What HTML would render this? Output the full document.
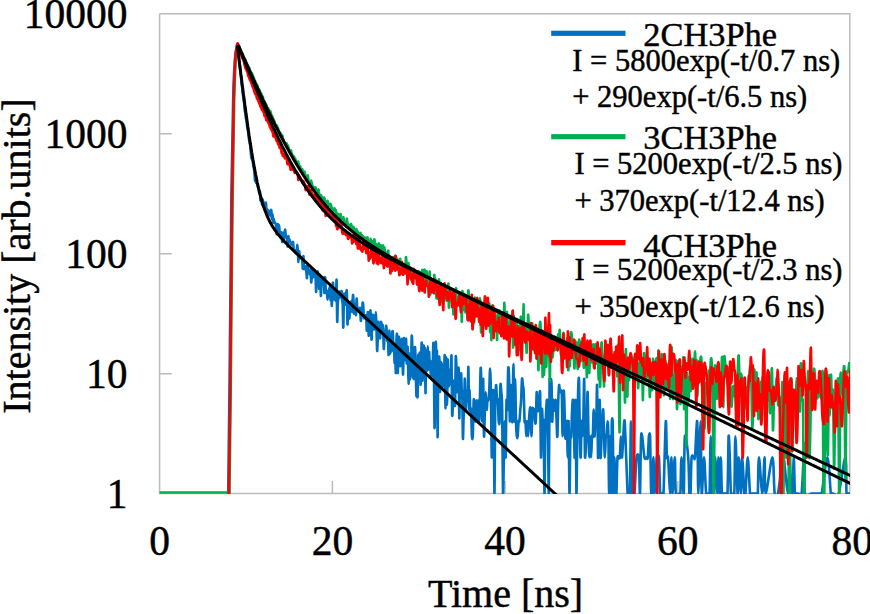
<!DOCTYPE html>
<html><head><meta charset="utf-8"><style>
html,body{margin:0;padding:0;background:#fff;width:870px;height:614px;overflow:hidden}
svg{display:block}
text{font-family:"Liberation Serif",serif;fill:#000;stroke:#000;stroke-width:0.45px}
.tk{font-size:41.5px}
.ti{font-size:40px}
.ln{font-size:34.4px}
.fm{font-size:30.5px}
</style></head><body>
<svg width="870" height="614" viewBox="0 0 870 614">
<defs><clipPath id="pa"><rect x="159.6" y="13.5" width="690.4" height="480.5"/></clipPath></defs>
<g stroke="#bcbcbc" stroke-width="1.5" fill="none">
<path d="M159.6 13.8H849.8V493.4M159.6 13.8V493.4H849.8"/>
<path d="M159.6 133.7H171.8M159.6 253.7H171.8M159.6 373.7H171.8"/>
<path d="M332.4 493.4V481M505.1 493.4V481M677.8 493.4V481"/>
</g>
<g clip-path="url(#pa)" fill="none" stroke-linejoin="round" stroke-linecap="round">
<path stroke="#0070c0" stroke-width="2.6" d="M228.2,493.5C228.5,475.5 229.0,435.5 229.5,385.5C230.1,335.5 230.8,241.5 231.4,193.5C232.0,145.5 232.6,119.9 233.2,97.5C233.7,75.1 234.3,67.8 234.9,59.1C235.5,50.4 236.5,47.6 236.9,45.5C237.3,43.5 237.3,45.8 237.5,46.8C237.7,47.8 237.9,49.6 238.1,51.4C238.3,53.2 238.5,55.9 238.7,57.8C238.9,59.6 239.1,60.9 239.3,62.5C239.5,64.2 239.7,66.1 239.9,67.7C240.1,69.3 240.3,70.6 240.5,72.3C240.7,74.1 240.9,76.3 241.1,78.3C241.3,80.3 241.5,82.8 241.7,84.5C241.9,86.1 242.1,86.8 242.3,88.4C242.5,90.0 242.7,92.2 242.9,94.1C243.1,95.9 243.3,98.1 243.5,99.6C243.7,101.0 243.9,101.2 244.1,102.9C244.3,104.7 244.5,108.5 244.7,110.2C244.9,111.9 245.1,111.7 245.3,113.2C245.5,114.6 245.7,117.8 246.0,119.0C246.2,120.3 246.4,119.2 246.6,120.5C246.8,121.9 247.0,125.6 247.2,127.1C247.4,128.6 247.6,128.3 247.8,129.5C248.0,130.6 248.2,132.3 248.4,134.0C248.6,135.6 248.8,137.9 249.0,139.3C249.2,140.7 249.4,141.6 249.6,142.6C249.8,143.6 250.0,143.8 250.2,145.5C250.4,147.1 250.6,150.2 250.8,152.4C251.0,154.5 251.2,157.3 251.4,158.3C251.6,159.2 251.8,157.7 252.0,158.0C252.2,158.3 252.4,158.9 252.6,160.1C252.8,161.3 253.0,163.8 253.2,165.1C253.4,166.4 253.6,166.8 253.8,167.9C254.0,169.1 254.2,169.9 254.4,172.0C254.6,174.1 254.8,179.3 255.0,180.6C255.2,181.9 255.4,179.4 255.6,179.7C255.8,180.1 256.0,182.1 256.2,182.7C256.4,183.2 256.6,182.9 256.8,183.2C257.0,183.6 257.2,184.2 257.4,184.9C257.6,185.6 257.8,186.8 258.0,187.3C258.2,187.8 258.4,187.0 258.6,187.9C258.8,188.9 259.0,192.4 259.2,193.0C259.4,193.5 259.7,190.0 259.9,191.3C260.1,192.5 260.3,199.6 260.5,200.5C260.7,201.4 260.9,196.4 261.1,196.7C261.3,197.0 261.5,201.0 261.7,202.3C261.9,203.7 262.1,205.3 262.3,204.9C262.5,204.5 262.7,199.5 262.9,199.7C263.1,199.9 263.3,204.9 263.5,206.0C263.7,207.1 263.9,206.7 264.1,206.2C264.3,205.7 264.5,202.7 264.7,203.0C264.9,203.2 265.1,207.8 265.3,207.7C265.5,207.7 265.7,202.2 265.9,202.7C266.1,203.1 266.3,209.3 266.5,210.4C266.7,211.5 266.9,208.9 267.1,209.3C267.3,209.6 267.5,212.3 267.7,212.5C267.9,212.7 268.1,210.3 268.3,210.4C268.5,210.5 268.7,212.3 268.9,213.1C269.1,213.8 269.3,214.6 269.5,215.0C269.7,215.3 269.9,215.7 270.1,215.1C270.3,214.5 270.5,212.3 270.7,211.5C270.9,210.7 271.1,209.0 271.3,210.2C271.5,211.5 271.7,218.4 271.9,219.1C272.1,219.9 272.3,214.0 272.5,214.5C272.7,215.1 272.9,221.8 273.2,222.5C273.4,223.2 273.6,218.8 273.8,218.8C274.0,218.9 274.2,222.2 274.4,222.8C274.6,223.3 274.8,222.1 275.0,222.3C275.2,222.4 275.4,223.2 275.6,223.9C275.8,224.6 276.0,224.8 276.2,226.5C276.4,228.2 276.6,234.5 276.8,234.2C277.0,233.8 277.2,225.7 277.4,224.4C277.6,223.0 277.8,226.1 278.0,226.1C278.2,226.2 278.4,224.6 278.6,224.6C278.8,224.7 279.0,225.1 279.2,226.7C279.4,228.2 279.6,232.8 279.8,234.0C280.0,235.2 280.2,233.8 280.4,234.0C280.6,234.1 280.8,235.1 281.0,234.9C281.2,234.6 281.4,231.3 281.6,232.5C281.8,233.7 282.0,241.7 282.2,242.0C282.4,242.2 282.6,235.4 282.8,233.9C283.0,232.5 283.2,232.4 283.4,233.2C283.6,234.1 283.8,238.9 284.0,239.0C284.2,239.1 284.4,235.4 284.6,233.9C284.8,232.3 285.0,229.2 285.2,229.7C285.4,230.1 285.6,235.4 285.8,236.6C286.0,237.7 286.2,236.2 286.4,236.5C286.6,236.9 286.9,236.9 287.1,238.6C287.3,240.2 287.5,246.9 287.7,246.5C287.9,246.1 288.1,237.2 288.3,236.3C288.5,235.4 288.7,240.3 288.9,240.8C289.1,241.4 289.3,239.4 289.5,239.5C289.7,239.6 289.9,240.9 290.1,241.4C290.3,242.0 290.5,242.4 290.7,243.0C290.9,243.5 291.1,244.7 291.3,244.7C291.5,244.7 291.7,243.3 291.9,243.1C292.1,242.8 292.3,243.0 292.5,242.9C292.7,242.8 292.9,241.2 293.1,242.3C293.3,243.5 293.5,248.7 293.7,249.9C293.9,251.1 294.1,249.7 294.3,249.8C294.5,249.9 294.7,250.0 294.9,250.5C295.1,251.0 295.3,253.0 295.5,252.9C295.7,252.8 295.9,250.3 296.1,250.0C296.3,249.7 296.5,252.2 296.7,251.3C296.9,250.5 297.1,244.9 297.3,244.9C297.5,245.0 297.7,248.6 297.9,251.5C298.1,254.3 298.3,262.1 298.5,262.0C298.7,262.0 298.9,252.5 299.1,251.5C299.3,250.4 299.5,254.8 299.7,255.9C299.9,256.9 300.1,257.6 300.4,257.9C300.6,258.2 300.8,257.9 301.0,257.8C301.2,257.7 301.4,257.5 301.6,257.5C301.8,257.6 302.0,256.0 302.2,257.9C302.4,259.8 302.6,269.0 302.8,268.7C303.0,268.4 303.2,256.1 303.4,256.0C303.6,255.9 303.8,265.8 304.0,267.9C304.2,270.0 304.4,268.9 304.6,268.8C304.8,268.6 305.0,267.1 305.2,266.8C305.4,266.5 305.6,266.0 305.8,266.9C306.0,267.8 306.2,270.5 306.4,272.4C306.6,274.2 306.8,279.1 307.0,278.0C307.2,276.8 307.4,266.7 307.6,265.4C307.8,264.1 308.0,269.3 308.2,270.4C308.4,271.6 308.6,272.3 308.8,272.3C309.0,272.4 309.2,270.3 309.4,270.7C309.6,271.0 309.8,274.7 310.0,274.5C310.2,274.3 310.4,268.3 310.6,269.6C310.8,270.9 311.0,281.4 311.2,282.3C311.4,283.2 311.6,277.2 311.8,275.1C312.0,272.9 312.2,268.7 312.4,269.1C312.6,269.5 312.8,277.2 313.0,277.5C313.2,277.7 313.4,271.7 313.6,270.5C313.8,269.3 314.1,270.1 314.3,270.5C314.5,270.9 314.7,272.3 314.9,272.7C315.1,273.1 315.3,269.7 315.5,272.9C315.7,276.1 315.9,291.5 316.1,291.9C316.3,292.3 316.5,277.6 316.7,275.1C316.9,272.7 317.1,277.7 317.3,277.1C317.5,276.4 317.7,271.2 317.9,271.3C318.1,271.3 318.3,274.5 318.5,277.4C318.7,280.4 318.9,288.5 319.1,288.8C319.3,289.1 319.5,281.2 319.7,279.5C319.9,277.8 320.1,275.8 320.3,278.6C320.5,281.3 320.7,295.5 320.9,296.0C321.1,296.5 321.3,283.8 321.5,281.5C321.7,279.3 321.9,282.7 322.1,282.6C322.3,282.6 322.5,282.1 322.7,281.3C322.9,280.5 323.1,277.4 323.3,277.7C323.5,278.1 323.7,280.8 323.9,283.4C324.1,285.9 324.3,293.9 324.5,292.9C324.7,291.9 324.9,278.0 325.1,277.2C325.3,276.5 325.5,286.4 325.7,288.6C325.9,290.8 326.1,289.8 326.3,290.4C326.5,291.1 326.7,290.7 326.9,292.3C327.1,293.8 327.3,299.7 327.6,299.7C327.8,299.7 328.0,293.7 328.2,292.2C328.4,290.7 328.6,291.3 328.8,290.8C329.0,290.2 329.2,289.3 329.4,288.8C329.6,288.2 329.8,285.8 330.0,287.7C330.2,289.6 330.4,299.2 330.6,300.2C330.8,301.1 331.0,292.5 331.2,293.4C331.4,294.4 331.6,306.5 331.8,305.8C332.0,305.1 332.2,293.1 332.4,289.3C332.6,285.4 332.8,282.2 333.0,282.7C333.2,283.1 333.4,289.3 333.6,292.1C333.8,294.9 334.0,299.0 334.2,299.4C334.4,299.8 334.6,296.3 334.8,294.6C335.0,292.9 335.2,288.2 335.4,289.2C335.6,290.3 335.8,302.5 336.0,301.0C336.2,299.4 336.4,276.5 336.6,279.9C336.8,283.3 337.0,317.3 337.2,321.3C337.4,325.2 337.6,307.3 337.8,303.5C338.0,299.8 338.2,300.6 338.4,298.7C338.6,296.7 338.8,291.8 339.0,291.6C339.2,291.3 339.4,296.3 339.6,297.1C339.8,297.9 340.0,296.7 340.2,296.5C340.4,296.2 340.6,296.4 340.8,295.5C341.1,294.6 341.3,290.2 341.5,291.1C341.7,292.0 341.9,298.4 342.1,300.7C342.3,303.0 342.5,300.5 342.7,305.0C342.9,309.4 343.1,328.9 343.3,327.6C343.5,326.4 343.7,302.9 343.9,297.3C344.1,291.8 344.3,294.1 344.5,294.5C344.7,294.9 344.9,297.9 345.1,299.5C345.3,301.2 345.5,305.7 345.7,304.5C345.9,303.3 346.1,293.9 346.3,292.1C346.5,290.3 346.7,288.2 346.9,293.6C347.1,299.0 347.3,322.7 347.5,324.4C347.7,326.2 347.9,307.3 348.1,304.2C348.3,301.1 348.5,303.4 348.7,305.8C348.9,308.2 349.1,317.9 349.3,318.5C349.5,319.1 349.7,311.9 349.9,309.3C350.1,306.6 350.3,303.5 350.5,302.6C350.7,301.7 350.9,304.3 351.1,304.1C351.3,303.8 351.5,299.9 351.7,301.2C351.9,302.5 352.1,312.9 352.3,311.9C352.5,311.0 352.7,297.3 352.9,295.4C353.1,293.5 353.3,297.8 353.5,300.8C353.7,303.8 353.9,312.2 354.1,313.4C354.3,314.6 354.5,309.5 354.8,308.1C355.0,306.6 355.2,303.5 355.4,304.7C355.6,305.8 355.8,316.0 356.0,315.0C356.2,314.0 356.4,299.9 356.6,298.6C356.8,297.3 357.0,305.7 357.2,307.2C357.4,308.8 357.6,307.5 357.8,307.7C358.0,307.9 358.2,308.4 358.4,308.6C358.6,308.9 358.8,309.0 359.0,309.1C359.2,309.3 359.4,309.5 359.6,309.4C359.8,309.3 360.0,306.6 360.2,308.5C360.4,310.4 360.6,319.5 360.8,320.7C361.0,321.9 361.2,316.7 361.4,315.7C361.6,314.7 361.8,316.6 362.0,314.5C362.2,312.5 362.4,304.9 362.6,303.3C362.8,301.7 363.0,302.8 363.2,305.0C363.4,307.2 363.6,314.2 363.8,316.4C364.0,318.6 364.2,318.5 364.4,318.3C364.6,318.2 364.8,315.5 365.0,315.3C365.2,315.1 365.4,317.1 365.6,317.2C365.8,317.3 366.0,313.7 366.2,315.9C366.4,318.2 366.6,330.1 366.8,330.7C367.0,331.2 367.2,322.2 367.4,319.2C367.6,316.2 367.8,310.0 368.0,312.7C368.3,315.4 368.5,332.9 368.7,335.2C368.9,337.6 369.1,329.0 369.3,326.9C369.5,324.8 369.7,325.2 369.9,322.4C370.1,319.7 370.3,309.3 370.5,310.5C370.7,311.7 370.9,324.7 371.1,329.4C371.3,334.2 371.5,341.5 371.7,339.1C371.9,336.6 372.1,316.7 372.3,314.9C372.5,313.0 372.7,327.9 372.9,327.9C373.1,327.9 373.3,314.7 373.5,315.0C373.7,315.2 373.9,328.3 374.1,329.3C374.3,330.3 374.5,321.1 374.7,321.1C374.9,321.0 375.1,330.4 375.3,328.9C375.5,327.4 375.7,312.0 375.9,312.0C376.1,312.0 376.3,322.4 376.5,328.9C376.7,335.3 376.9,348.8 377.1,350.7C377.3,352.5 377.5,344.7 377.7,339.9C377.9,335.1 378.1,323.3 378.3,321.9C378.5,320.4 378.7,331.0 378.9,331.2C379.1,331.4 379.3,321.8 379.5,323.0C379.7,324.2 379.9,338.2 380.1,338.4C380.3,338.5 380.5,326.6 380.7,323.9C380.9,321.3 381.1,321.6 381.3,322.6C381.5,323.5 381.7,329.3 382.0,329.7C382.2,330.1 382.4,324.5 382.6,324.9C382.8,325.3 383.0,328.2 383.2,332.1C383.4,336.1 383.6,347.8 383.8,348.9C384.0,350.0 384.2,341.1 384.4,338.9C384.6,336.8 384.8,337.1 385.0,336.0C385.2,334.8 385.4,333.8 385.6,332.1C385.8,330.4 386.0,325.6 386.2,325.7C386.4,325.9 386.6,330.4 386.8,332.9C387.0,335.5 387.2,340.6 387.4,341.1C387.6,341.5 387.8,333.3 388.0,335.7C388.2,338.0 388.4,355.7 388.6,355.0C388.8,354.3 389.0,334.6 389.2,331.6C389.4,328.6 389.6,333.5 389.8,337.2C390.0,340.9 390.2,353.7 390.4,353.7C390.6,353.7 390.8,337.7 391.0,337.3C391.2,336.9 391.4,351.8 391.6,351.3C391.8,350.8 392.0,337.2 392.2,334.0C392.4,330.8 392.6,330.2 392.8,332.1C393.0,333.9 393.2,343.0 393.4,345.1C393.6,347.2 393.8,341.8 394.0,344.8C394.2,347.7 394.4,360.9 394.6,362.8C394.8,364.7 395.0,354.5 395.2,356.1C395.5,357.8 395.7,375.4 395.9,372.8C396.1,370.1 396.3,346.2 396.5,340.0C396.7,333.8 396.9,331.7 397.1,335.7C397.3,341.1 397.5,369.3 397.7,372.6C397.9,375.8 398.1,361.0 398.3,355.0C398.5,349.1 398.7,337.6 398.9,336.9C399.1,336.1 399.3,345.8 399.5,350.4C399.7,355.1 399.9,362.4 400.1,364.7C400.3,366.9 400.5,366.8 400.7,363.9C400.9,361.0 401.1,351.2 401.3,347.1C401.5,343.0 401.7,337.2 401.9,339.3C402.1,341.4 402.3,354.2 402.5,360.0C402.7,365.7 402.9,377.2 403.1,374.0C403.3,370.8 403.5,346.4 403.7,340.8C403.9,336.5 404.1,337.9 404.3,340.5C404.5,343.1 404.7,353.2 404.9,356.3C405.1,359.4 405.3,361.9 405.5,359.0C405.7,356.1 405.9,338.1 406.1,338.8C406.3,339.6 406.5,362.0 406.7,363.4C406.9,364.8 407.1,349.0 407.3,347.3C407.5,345.6 407.7,347.0 407.9,353.0C408.1,359.1 408.3,383.5 408.5,383.6C408.7,383.7 409.0,354.4 409.2,353.6C409.4,352.8 409.6,375.9 409.8,378.8C410.0,381.7 410.2,371.9 410.4,370.9C410.6,370.0 410.8,377.3 411.0,373.3C411.2,367.7 411.4,342.9 411.6,337.7C411.8,333.7 412.0,335.8 412.2,342.2C412.4,348.7 412.6,371.1 412.8,376.4C413.0,380.4 413.2,373.9 413.4,374.2C413.6,374.4 413.8,381.8 414.0,378.0C414.2,374.2 414.4,356.1 414.6,351.2C414.8,346.4 415.0,345.6 415.2,349.1C415.4,352.6 415.6,364.5 415.8,372.2C416.0,379.9 416.2,392.1 416.4,395.4C416.6,398.7 416.8,392.0 417.0,392.1C417.2,392.3 417.4,400.2 417.6,396.2C417.8,390.0 418.0,359.7 418.2,355.4C418.4,351.4 418.6,369.9 418.8,370.7C419.0,371.4 419.2,362.8 419.4,360.0C419.6,357.1 419.8,349.6 420.0,353.6C420.2,357.7 420.4,384.0 420.6,384.7C420.8,385.4 421.0,364.7 421.2,357.8C421.4,350.9 421.6,339.6 421.8,343.3C422.0,347.1 422.2,376.9 422.4,380.2C422.7,383.5 422.9,368.9 423.1,363.1C423.3,357.3 423.5,346.0 423.7,345.5C423.9,345.0 424.1,359.6 424.3,360.0C424.5,360.5 424.7,344.5 424.9,348.5C425.1,354.0 425.3,392.8 425.5,393.2C425.7,393.6 425.9,355.8 426.1,351.0C426.3,347.0 426.5,361.0 426.7,364.1C426.9,367.2 427.1,372.7 427.3,369.7C427.5,366.8 427.7,346.5 427.9,346.4C428.1,346.4 428.3,368.6 428.5,369.5C428.7,370.4 428.9,351.9 429.1,351.8C429.3,351.7 429.5,367.4 429.7,368.9C429.9,370.5 430.1,359.6 430.3,361.0C430.5,362.4 430.7,374.7 430.9,377.2C431.1,379.7 431.3,376.9 431.5,376.0C431.7,375.1 431.9,372.6 432.1,371.7C432.3,370.9 432.5,375.7 432.7,370.9C432.9,366.1 433.1,343.6 433.3,342.9C433.5,342.1 433.7,352.3 433.9,366.4C434.1,380.6 434.3,422.5 434.5,427.6C434.7,431.6 434.9,411.1 435.1,396.9C435.3,382.7 435.5,349.3 435.7,342.5C435.9,338.5 436.2,354.5 436.4,356.0C436.6,357.5 436.8,347.6 437.0,351.6C437.2,365.0 437.4,433.6 437.6,437.0C437.8,440.3 438.0,384.7 438.2,371.7C438.4,358.6 438.6,361.0 438.8,358.9C439.0,356.8 439.2,354.9 439.4,359.1C439.6,364.6 439.8,391.0 440.0,391.8C440.2,392.6 440.4,368.4 440.6,363.8C440.8,359.8 441.0,363.8 441.2,364.0C441.4,364.2 441.6,361.4 441.8,365.2C442.0,369.0 442.2,385.3 442.4,386.9C442.6,388.5 442.8,375.2 443.0,374.9C443.2,374.5 443.4,385.8 443.6,384.8C443.8,383.8 444.0,373.7 444.2,368.9C444.4,364.1 444.6,351.9 444.8,355.9C445.0,362.4 445.2,408.0 445.4,408.2C445.6,408.4 445.8,358.2 446.0,357.3C446.2,356.3 446.4,395.7 446.6,402.4C446.8,406.4 447.0,404.9 447.2,397.8C447.4,390.6 447.6,362.5 447.8,359.7C448.0,356.9 448.2,376.8 448.4,381.0C448.6,385.3 448.8,387.3 449.0,385.4C449.2,383.6 449.4,370.4 449.6,370.0C449.9,369.7 450.1,381.9 450.3,383.2C450.5,384.5 450.7,382.4 450.9,377.9C451.1,373.3 451.3,351.9 451.5,355.9C451.7,362.0 451.9,405.5 452.1,414.3C452.3,418.3 452.5,414.0 452.7,408.4C452.9,402.8 453.1,381.2 453.3,380.6C453.5,380.1 453.7,401.8 453.9,405.2C454.1,408.6 454.3,401.0 454.5,400.9C454.7,400.9 454.9,408.7 455.1,404.7C455.3,397.5 455.5,364.3 455.7,357.5C455.9,353.5 456.1,358.7 456.3,364.4C456.5,370.1 456.7,389.1 456.9,391.8C457.1,394.5 457.3,383.6 457.5,380.3C457.7,377.1 457.9,374.2 458.1,372.3C458.3,370.4 458.5,365.1 458.7,369.1C458.9,376.8 459.1,415.3 459.3,418.2C459.5,421.1 459.7,390.0 459.9,386.6C460.1,383.1 460.3,399.7 460.5,397.5C460.7,395.3 460.9,374.7 461.1,373.3C461.3,371.9 461.5,385.6 461.7,389.3C461.9,392.9 462.1,386.9 462.3,395.2C462.5,403.4 462.7,434.9 462.9,438.5C463.1,442.2 463.4,422.5 463.6,417.2C463.8,412.0 464.0,413.5 464.2,407.0C464.4,400.6 464.6,378.1 464.8,378.6C465.0,379.0 465.2,405.6 465.4,409.9C465.6,413.9 465.8,407.6 466.0,404.4C466.2,401.2 466.4,391.2 466.6,390.7C466.8,390.2 467.0,401.6 467.2,401.4C467.4,401.2 467.6,395.2 467.8,389.5C468.0,383.8 468.2,364.0 468.4,367.2C468.6,370.5 468.8,405.2 469.0,409.0C469.2,412.8 469.4,390.0 469.6,390.2C469.8,390.4 470.0,406.9 470.2,410.2C470.4,413.4 470.8,405.6 471.1,409.6C471.4,414.0 471.6,431.8 471.9,436.2C472.2,440.2 472.5,440.2 472.8,436.2C473.1,430.2 473.4,404.6 473.7,400.1C473.9,396.1 474.2,406.1 474.5,409.6C474.8,413.1 475.1,422.8 475.4,421.3C475.7,419.7 476.0,400.1 476.2,400.1C476.5,400.1 476.8,421.3 477.1,421.3C477.4,421.3 477.7,400.1 478.0,400.1C478.3,400.1 478.5,419.7 478.8,421.3C479.1,422.8 479.4,418.4 479.7,409.6C480.0,400.8 480.3,372.6 480.6,368.5C480.9,364.5 481.1,376.3 481.4,385.1C481.7,393.9 482.0,422.3 482.3,421.3C482.6,420.2 482.9,376.5 483.2,379.0C483.4,381.5 483.7,431.1 484.0,436.2C484.3,440.2 484.6,417.0 484.9,409.6C485.2,402.3 485.5,392.1 485.7,392.1C486.0,392.1 486.3,408.3 486.6,409.6C486.9,411.0 487.2,401.7 487.5,400.1C487.8,398.5 488.0,401.5 488.3,400.1C488.6,398.8 488.9,397.4 489.2,392.1C489.5,386.8 489.8,368.5 490.1,368.5C490.3,368.5 490.6,377.3 490.9,392.1C491.2,406.9 491.5,456.0 491.8,457.4C492.1,458.7 492.4,411.0 492.7,400.1C492.9,389.2 493.2,388.1 493.5,392.1C493.8,407.7 494.1,490.6 494.4,493.5C494.7,496.4 495.0,427.7 495.2,409.6C495.5,391.6 495.8,386.7 496.1,385.1C496.4,383.5 496.7,397.6 497.0,400.1C497.3,402.6 497.5,396.6 497.8,400.1C498.1,403.6 498.4,417.7 498.7,421.3C499.0,424.8 499.3,425.3 499.6,421.3C499.8,415.2 500.1,390.0 500.4,385.1C500.7,381.1 501.0,388.0 501.3,392.1C501.6,396.2 501.9,392.7 502.2,409.6C502.4,426.5 502.7,485.5 503.0,493.5C503.3,497.5 503.6,469.4 503.9,457.4C504.2,445.3 504.5,421.3 504.7,421.3C505.0,421.3 505.3,460.9 505.6,457.4C505.9,453.9 506.2,408.1 506.5,400.1C506.8,396.1 507.0,413.6 507.3,409.6C507.6,404.4 507.9,373.6 508.2,368.5C508.5,364.5 508.8,370.2 509.1,379.0C509.3,387.8 509.6,420.2 509.9,421.3C510.2,422.3 510.5,387.1 510.8,385.1C511.1,383.2 511.4,403.6 511.6,409.6C511.9,415.6 512.2,425.3 512.5,421.3C512.8,413.6 513.1,364.0 513.4,364.0C513.7,364.0 514.0,418.8 514.2,421.3C514.5,423.8 514.8,379.0 515.1,379.0C515.4,379.0 515.7,411.7 516.0,421.3C516.3,430.8 516.5,433.7 516.8,436.2C517.1,438.7 517.4,438.7 517.7,436.2C518.0,433.7 518.3,423.8 518.6,421.3C518.8,418.8 519.1,423.2 519.4,421.3C519.7,419.3 520.0,413.1 520.3,409.6C520.6,406.1 520.9,405.2 521.1,400.1C521.4,395.0 521.7,381.5 522.0,379.0C522.3,376.5 522.6,382.9 522.9,385.1C523.2,387.3 523.5,386.1 523.7,392.1C524.0,398.1 524.3,416.4 524.6,421.3C524.9,425.3 525.2,418.8 525.5,421.3C525.8,423.8 526.0,436.2 526.3,436.2C526.6,436.2 526.9,421.3 527.2,421.3C527.5,421.3 527.8,436.2 528.1,436.2C528.3,436.2 528.6,425.7 528.9,421.3C529.2,416.8 529.5,411.6 529.8,409.6C530.1,407.7 530.4,405.6 530.6,409.6C530.9,414.1 531.2,436.2 531.5,436.2C531.8,436.2 532.1,414.1 532.4,409.6C532.7,405.6 532.9,409.6 533.2,409.6C533.5,409.6 533.8,407.7 534.1,409.6C534.4,411.6 534.7,419.3 535.0,421.3C535.3,423.2 535.5,425.3 535.8,421.3C536.1,416.4 536.4,394.0 536.7,392.1C537.0,390.2 537.3,406.7 537.6,409.6C537.8,412.5 538.1,411.2 538.4,409.6C538.7,408.0 539.0,403.0 539.3,400.1C539.6,397.2 539.9,388.1 540.1,392.1C540.4,401.6 540.7,454.5 541.0,457.4C541.3,460.3 541.6,415.6 541.9,409.6C542.2,405.6 542.4,419.3 542.7,421.3C543.0,423.2 543.3,417.3 543.6,421.3C543.9,433.3 544.2,491.0 544.5,493.5C544.7,496.0 545.0,450.2 545.3,436.2C545.6,422.3 545.9,415.6 546.2,409.6C546.5,403.6 546.8,398.2 547.1,400.1C547.3,402.1 547.6,405.7 547.9,421.3C548.2,436.8 548.5,497.5 548.8,493.5C549.1,486.5 549.4,391.0 549.6,379.0C549.9,375.0 550.2,421.3 550.5,421.3C550.8,421.3 551.1,379.0 551.4,379.0C551.7,379.0 551.9,417.7 552.2,421.3C552.5,424.8 552.8,402.1 553.1,400.1C553.4,398.2 553.7,408.0 554.0,409.6C554.2,411.2 554.5,411.2 554.8,409.6C555.1,408.0 555.4,398.2 555.7,400.1C556.0,402.1 556.3,415.2 556.6,421.3C556.8,427.3 557.1,439.8 557.4,436.2C557.7,432.7 558.0,408.6 558.3,400.1C558.6,391.6 558.9,386.5 559.1,385.1C559.4,383.8 559.6,390.9 560.0,392.1C560.4,393.2 561.3,388.1 561.7,392.1C562.2,399.4 562.3,436.2 562.6,436.2C562.9,436.2 563.2,398.1 563.5,392.1C563.7,388.1 564.0,392.8 564.3,400.1C564.6,407.5 564.9,430.2 565.2,436.2C565.5,440.2 565.8,438.7 566.0,436.2C566.3,433.7 566.6,417.7 566.9,421.3C567.2,424.8 567.5,457.4 567.8,457.4C568.1,457.4 568.4,417.3 568.6,421.3C568.9,427.3 569.2,491.0 569.5,493.5C569.8,496.0 570.1,445.8 570.4,436.2C570.7,432.2 570.9,440.2 571.2,436.2C571.5,431.8 571.8,415.6 572.1,409.6C572.4,403.6 572.7,398.2 573.0,400.1C573.2,402.1 573.5,411.7 573.8,421.3C574.1,430.8 574.4,460.9 574.7,457.4C575.0,453.9 575.3,396.1 575.5,400.1C575.8,406.1 576.1,487.5 576.4,493.5C576.7,497.5 577.0,453.1 577.3,436.2C577.6,419.3 577.9,401.6 578.1,392.1C578.4,382.5 578.7,375.0 579.0,379.0C579.3,386.4 579.6,423.2 579.9,436.2C580.2,449.3 580.4,459.9 580.7,457.4C581.0,454.9 581.3,424.8 581.6,421.3C581.9,417.7 582.2,436.2 582.5,436.2C582.7,436.2 583.0,430.8 583.3,421.3C583.6,411.7 583.9,375.0 584.2,379.0C584.5,385.0 584.6,450.3 585.0,457.4C585.5,461.4 586.3,432.1 586.8,421.3C587.2,410.4 587.3,389.6 587.6,392.1C587.9,394.6 588.2,425.4 588.5,436.2C588.8,447.1 589.1,457.4 589.4,457.4C589.7,457.4 589.9,436.2 590.2,436.2C590.5,436.2 590.8,457.4 591.1,457.4C591.4,457.4 591.7,439.8 592.0,436.2C592.2,432.7 592.5,440.2 592.8,436.2C593.1,431.8 593.4,409.6 593.7,409.6C594.0,409.6 594.3,434.3 594.5,436.2C594.8,438.2 595.1,423.8 595.4,421.3C595.7,418.8 596.0,425.3 596.3,421.3C596.6,415.2 596.8,381.1 597.1,385.1C597.4,391.1 597.7,448.9 598.0,457.4C598.3,461.4 598.6,445.8 598.9,436.2C599.2,426.7 599.4,396.6 599.7,400.1C600.0,403.6 600.3,451.4 600.6,457.4C600.9,461.4 601.2,442.3 601.5,436.2C601.7,430.2 602.0,425.7 602.3,421.3C602.6,416.8 602.9,407.1 603.2,409.6C603.5,412.1 603.8,428.3 604.0,436.2C604.3,444.2 604.6,457.4 604.9,457.4C605.2,457.4 605.5,439.8 605.8,436.2C606.1,432.7 606.3,438.7 606.6,436.2C606.9,433.7 607.2,421.3 607.5,421.3C607.8,421.3 608.1,424.2 608.4,436.2C608.6,448.3 608.9,493.5 609.2,493.5C609.5,493.5 609.8,436.2 610.1,436.2C610.4,436.2 610.7,496.0 611.0,493.5C611.2,491.0 611.5,433.3 611.8,421.3C612.1,417.3 612.4,417.3 612.7,421.3C613.0,433.3 613.3,487.5 613.5,493.5C613.8,497.5 614.1,457.4 614.4,457.4C614.7,457.4 614.9,487.5 615.3,493.5C615.6,497.5 616.0,497.5 616.4,493.5C616.8,487.5 617.0,463.4 617.5,457.4C618.1,453.4 619.2,460.9 619.8,457.4C620.3,453.9 620.5,436.2 620.9,436.2C621.3,436.2 621.4,459.9 622.0,457.4C622.6,454.9 623.7,424.8 624.2,421.3C624.8,417.7 624.8,424.2 625.4,436.2C625.9,448.3 627.1,484.0 627.6,493.5C628.2,497.5 628.4,493.5 628.7,493.5C629.1,493.5 629.5,497.5 629.9,493.5C630.2,481.5 630.6,421.3 631.0,421.3C631.4,421.3 631.5,481.5 632.1,493.5C632.7,497.5 633.6,497.5 634.4,493.5C635.1,487.5 635.8,463.4 636.6,457.4C637.3,453.4 638.3,453.4 638.8,457.4C639.4,463.4 639.6,497.0 640.0,493.5C640.3,490.0 640.7,445.8 641.1,436.2C641.5,432.2 641.6,432.7 642.2,436.2C642.8,439.8 643.7,453.9 644.5,457.4C645.2,460.9 646.1,457.4 646.7,457.4C647.3,457.4 647.4,460.9 647.8,457.4C648.2,453.9 648.6,439.8 648.9,436.2C649.3,432.7 649.7,432.2 650.1,436.2C650.4,445.8 650.8,484.0 651.2,493.5C651.6,497.5 651.9,497.5 652.3,493.5C652.7,487.5 653.1,457.4 653.4,457.4C653.8,457.4 654.0,493.5 654.6,493.5C655.1,493.5 656.2,463.4 656.8,457.4C657.4,453.4 657.6,457.4 657.9,457.4C658.3,457.4 658.7,453.4 659.0,457.4C659.4,463.4 659.8,487.5 660.2,493.5C660.5,497.5 660.9,493.5 661.3,493.5C661.7,493.5 662.0,493.5 662.4,493.5C662.8,493.5 663.0,497.5 663.5,493.5C664.1,481.5 665.2,427.3 665.8,421.3C666.3,417.3 666.5,451.4 666.9,457.4C667.3,461.4 667.5,453.4 668.0,457.4C668.6,463.4 669.7,493.5 670.3,493.5C670.8,493.5 671.0,457.4 671.4,457.4C671.8,457.4 672.0,493.5 672.5,493.5C673.1,493.5 674.2,457.4 674.8,457.4C675.3,457.4 675.1,487.5 675.9,493.5C676.6,497.5 678.5,493.5 679.3,493.5C680.0,493.5 680.0,497.5 680.4,493.5C680.8,487.5 680.9,457.4 681.5,457.4C682.1,457.4 683.2,497.0 683.7,493.5C684.3,490.0 684.1,442.3 684.9,436.2C685.6,432.2 687.5,447.8 688.2,457.4C689.0,466.9 689.0,487.5 689.4,493.5C689.7,497.5 690.1,497.5 690.5,493.5C690.9,487.5 691.0,463.4 691.6,457.4C692.2,453.4 693.3,457.4 693.8,457.4C694.4,457.4 694.4,461.4 695.0,457.4C695.5,451.4 696.7,417.3 697.2,421.3C697.8,427.3 697.8,493.5 698.3,493.5C698.9,493.5 700.0,421.3 700.6,421.3C701.1,421.3 701.1,487.5 701.7,493.5C702.3,497.5 703.2,457.4 704.0,457.4C704.7,457.4 705.4,487.5 706.2,493.5C706.9,497.5 707.9,493.5 708.4,493.5C709.0,493.5 709.2,497.5 709.6,493.5C709.9,484.0 710.3,436.2 710.7,436.2C711.1,436.2 711.4,484.0 711.8,493.5C712.2,497.5 712.6,493.5 712.9,493.5C713.3,493.5 713.7,497.5 714.1,493.5C714.4,487.5 714.6,457.4 715.2,457.4C715.7,457.4 716.9,493.5 717.4,493.5C718.0,493.5 718.2,457.4 718.5,457.4C718.9,457.4 719.3,493.5 719.7,493.5C720.0,493.5 720.4,457.4 720.8,457.4C721.2,457.4 721.5,487.5 721.9,493.5C722.3,497.5 722.5,493.5 723.0,493.5C723.6,493.5 724.7,493.5 725.3,493.5C725.8,493.5 726.0,493.5 726.4,493.5C726.8,493.5 727.1,497.5 727.5,493.5C727.9,484.0 728.3,442.3 728.6,436.2C729.0,432.2 729.4,447.8 729.8,457.4C730.1,466.9 730.5,487.5 730.9,493.5C731.3,497.5 731.5,493.5 732.0,493.5C732.6,493.5 733.7,497.5 734.3,493.5C734.8,484.0 734.8,436.2 735.4,436.2C735.9,436.2 737.1,490.0 737.6,493.5C738.2,497.0 738.2,457.4 738.7,457.4C739.3,457.4 740.4,493.5 741.0,493.5C741.6,493.5 741.6,457.4 742.1,457.4C742.7,457.4 743.8,487.5 744.4,493.5C744.9,497.5 744.9,497.5 745.5,493.5C746.0,487.5 747.0,457.4 747.7,457.4C748.5,457.4 749.4,487.5 750.0,493.5C750.5,497.5 750.0,493.5 751.1,493.5C752.2,493.5 755.6,493.5 756.7,493.5C757.8,493.5 757.5,497.5 757.8,493.5C758.2,487.5 758.2,457.4 759.0,457.4C759.7,457.4 761.4,493.5 762.3,493.5C763.3,493.5 764.0,457.4 764.6,457.4C765.1,457.4 764.4,493.5 765.7,493.5C767.0,493.5 770.9,457.4 772.4,457.4C773.9,457.4 773.7,487.5 774.7,493.5C775.6,497.5 776.7,497.5 778.0,493.5C779.3,487.5 781.6,463.4 782.5,457.4C783.5,453.4 782.7,453.4 783.7,457.4C784.6,463.4 787.2,493.5 788.1,493.5C789.1,493.5 788.7,457.4 789.3,457.4C789.8,457.4 790.9,487.5 791.5,493.5C792.1,497.5 792.3,497.5 792.6,493.5C793.0,487.5 793.4,457.4 793.8,457.4C794.1,457.4 794.5,487.5 794.9,493.5C795.3,497.5 795.6,493.5 796.0,493.5C796.4,493.5 796.7,493.5 797.1,493.5C797.5,493.5 797.5,493.5 798.2,493.5C799.0,493.5 800.7,497.5 801.6,493.5C802.5,487.5 803.3,457.4 803.9,457.4C804.4,457.4 803.7,487.5 805.0,493.5C806.3,497.5 810.4,493.5 811.7,493.5C813.0,493.5 812.5,493.5 812.8,493.5C813.2,493.5 813.0,493.5 814.0,493.5C814.9,493.5 817.3,493.5 818.5,493.5C819.6,493.5 820.1,493.5 820.7,493.5C821.3,493.5 820.7,497.5 821.8,493.5C822.9,487.5 825.9,457.4 827.4,457.4C828.9,457.4 830.1,487.5 830.8,493.5C831.5,497.5 831.5,493.5 831.9,493.5C832.3,493.5 831.9,493.5 833.0,493.5C834.2,493.5 836.6,497.5 838.7,493.5C840.7,487.5 844.1,457.4 845.4,457.4C846.7,457.4 846.1,487.5 846.5,493.5C846.9,497.5 847.1,493.5 847.6,493.5C848.2,493.5 849.3,493.5 849.9,493.5C850.4,493.5 850.8,493.5 851.0,493.5"/>
<path stroke="#00b050" stroke-width="2.6" d="M159.6,492.5C160.3,492.5 162.5,492.5 163.9,492.5C165.4,492.5 166.8,492.5 168.2,492.5C169.7,492.5 171.1,492.5 172.6,492.5C174.0,492.5 175.4,492.5 176.9,492.5C178.3,492.5 179.7,492.5 181.2,492.5C182.6,492.5 184.1,492.5 185.5,492.5C186.9,492.5 188.4,492.5 189.8,492.5C191.3,492.5 192.7,492.5 194.1,492.5C195.6,492.5 197.0,492.5 198.5,492.5C199.9,492.5 201.3,492.5 202.8,492.5C204.2,492.5 205.7,492.5 207.1,492.5C208.5,492.5 210.0,492.5 211.4,492.5C212.8,492.5 214.3,492.5 215.7,492.5C217.2,492.5 218.6,492.5 220.0,492.5C221.5,492.5 222.9,492.5 224.4,492.5C225.8,492.5 227.8,492.5 228.7,492.5C229.5,492.5 229.2,496.5 229.5,492.5C229.9,477.0 230.1,448.6 230.6,399.9C231.1,351.2 232.0,250.0 232.6,200.0C233.2,150.0 233.7,123.5 234.2,100.0C234.8,76.5 235.3,68.2 235.8,59.1C236.4,50.0 237.1,48.0 237.5,45.5C237.8,43.1 237.8,44.6 238.0,44.6C238.2,44.6 238.4,45.1 238.5,45.4C238.7,45.6 238.9,45.6 239.0,46.0C239.2,46.5 239.4,47.7 239.6,48.2C239.7,48.7 239.9,48.8 240.1,49.1C240.3,49.4 240.4,49.6 240.6,50.2C240.8,50.7 240.9,51.8 241.1,52.2C241.3,52.7 241.5,52.7 241.6,52.8C241.8,53.0 242.0,52.7 242.2,53.0C242.3,53.3 242.5,54.2 242.7,54.6C242.8,55.0 243.0,54.9 243.2,55.3C243.4,55.8 243.5,56.6 243.7,57.1C243.9,57.5 244.1,57.9 244.2,58.2C244.4,58.6 244.6,58.9 244.7,59.2C244.9,59.4 245.1,59.4 245.3,59.7C245.4,59.9 245.6,60.3 245.8,60.7C246.0,61.2 246.1,62.1 246.3,62.6C246.5,63.1 246.6,63.2 246.8,63.5C247.0,63.8 247.2,64.0 247.3,64.4C247.5,64.7 247.7,65.2 247.8,65.5C248.0,65.9 248.2,66.1 248.4,66.4C248.5,66.7 248.7,66.9 248.9,67.2C249.1,67.5 249.2,68.0 249.4,68.5C249.6,69.0 249.7,69.7 249.9,70.2C250.1,70.6 250.3,70.9 250.4,71.3C250.6,71.7 250.8,72.2 251.0,72.4C251.1,72.7 251.3,72.5 251.5,72.7C251.6,72.9 251.8,73.3 252.0,73.7C252.2,74.1 252.3,74.5 252.5,74.9C252.7,75.3 252.9,75.6 253.0,76.0C253.2,76.5 253.4,77.3 253.5,77.8C253.7,78.2 253.9,78.0 254.1,78.6C254.2,79.2 254.4,80.8 254.6,81.2C254.8,81.6 254.9,80.6 255.1,81.0C255.3,81.4 255.4,83.0 255.6,83.4C255.8,83.9 256.0,83.5 256.1,83.7C256.3,83.9 256.5,84.5 256.7,84.7C256.8,84.9 257.0,84.6 257.2,84.9C257.3,85.2 257.5,85.8 257.7,86.4C257.9,87.1 258.0,88.5 258.2,88.8C258.4,89.2 258.6,88.5 258.7,88.6C258.9,88.8 259.1,89.4 259.2,89.8C259.4,90.1 259.6,90.2 259.8,90.7C259.9,91.2 260.1,92.6 260.3,93.0C260.5,93.4 260.6,92.9 260.8,93.1C261.0,93.2 261.1,93.3 261.3,93.7C261.5,94.2 261.7,95.5 261.8,95.9C262.0,96.3 262.2,96.0 262.4,96.2C262.5,96.4 262.7,96.6 262.9,97.1C263.0,97.7 263.2,98.8 263.4,99.6C263.6,100.4 263.7,101.6 263.9,101.9C264.1,102.1 264.3,100.9 264.4,101.0C264.6,101.1 264.8,102.1 264.9,102.5C265.1,102.9 265.3,103.0 265.5,103.3C265.6,103.6 265.8,104.1 266.0,104.4C266.2,104.7 266.3,104.6 266.5,105.0C266.7,105.4 266.8,106.2 267.0,106.9C267.2,107.5 267.4,108.8 267.5,109.0C267.7,109.2 267.9,108.0 268.1,108.1C268.2,108.2 268.4,109.5 268.6,109.8C268.7,110.1 268.9,109.6 269.1,110.0C269.3,110.5 269.4,112.2 269.6,112.7C269.8,113.1 270.0,112.7 270.1,112.5C270.3,112.3 270.5,111.1 270.6,111.6C270.8,112.1 271.0,114.5 271.2,115.5C271.3,116.5 271.5,117.7 271.7,117.7C271.9,117.7 272.0,115.4 272.2,115.6C272.4,115.8 272.5,118.2 272.7,118.7C272.9,119.3 273.1,118.4 273.2,118.6C273.4,118.8 273.6,119.6 273.8,120.0C273.9,120.4 274.1,120.5 274.3,121.0C274.4,121.5 274.6,122.2 274.8,123.0C275.0,123.7 275.1,125.2 275.3,125.5C275.5,125.8 275.7,124.5 275.8,124.6C276.0,124.8 276.2,126.5 276.3,126.6C276.5,126.7 276.7,125.2 276.9,125.3C277.0,125.4 277.2,126.7 277.4,127.1C277.6,127.6 277.7,127.5 277.9,128.0C278.1,128.4 278.2,129.0 278.4,129.6C278.6,130.2 278.8,131.3 278.9,131.6C279.1,132.0 279.3,131.5 279.5,131.8C279.6,132.1 279.8,133.3 280.0,133.5C280.1,133.7 280.3,132.6 280.5,133.0C280.7,133.4 280.8,135.7 281.0,136.0C281.2,136.3 281.4,135.0 281.5,134.9C281.7,134.9 281.9,135.4 282.0,135.5C282.2,135.7 282.4,135.4 282.6,136.0C282.7,136.6 282.9,138.5 283.1,139.2C283.3,139.9 283.4,139.6 283.6,140.1C283.8,140.6 283.9,141.8 284.1,142.2C284.3,142.6 284.5,142.4 284.6,142.5C284.8,142.6 285.0,142.7 285.2,142.8C285.3,142.9 285.5,142.9 285.7,143.1C285.8,143.4 286.0,144.3 286.2,144.3C286.4,144.4 286.5,143.1 286.7,143.4C286.9,143.7 287.1,145.6 287.2,146.0C287.4,146.3 287.6,145.3 287.7,145.5C287.9,145.6 288.1,146.5 288.3,146.9C288.4,147.4 288.6,147.7 288.8,148.3C289.0,148.9 289.1,150.1 289.3,150.5C289.5,150.9 289.6,150.2 289.8,150.7C290.0,151.3 290.2,153.8 290.3,153.7C290.5,153.6 290.7,150.5 290.9,150.3C291.0,150.1 291.2,152.1 291.4,152.6C291.5,153.1 291.7,152.8 291.9,153.4C292.1,154.0 292.2,155.7 292.4,156.0C292.6,156.4 292.8,155.6 292.9,155.7C293.1,155.8 293.3,156.6 293.4,156.7C293.6,156.9 293.8,156.5 294.0,156.7C294.1,156.8 294.3,157.3 294.5,157.7C294.7,158.0 294.8,158.4 295.0,158.7C295.2,159.0 295.3,159.0 295.5,159.5C295.7,159.9 295.9,160.7 296.0,161.3C296.2,161.9 296.4,162.8 296.6,163.2C296.7,163.5 296.9,163.5 297.1,163.5C297.2,163.5 297.4,163.4 297.6,163.0C297.8,162.7 297.9,161.4 298.1,161.5C298.3,161.6 298.5,163.3 298.6,163.9C298.8,164.5 299.0,164.6 299.1,165.1C299.3,165.6 299.5,166.8 299.7,167.0C299.8,167.2 300.0,166.0 300.2,166.3C300.4,166.7 300.5,168.5 300.7,169.1C300.9,169.7 301.0,169.8 301.2,170.0C301.4,170.1 301.6,170.3 301.7,170.2C301.9,170.0 302.1,169.1 302.3,169.2C302.4,169.4 302.6,170.6 302.8,171.2C302.9,171.7 303.1,172.3 303.3,172.3C303.5,172.4 303.6,171.5 303.8,171.6C304.0,171.8 304.1,173.0 304.3,173.0C304.5,173.0 304.7,171.2 304.8,171.8C305.0,172.4 305.2,175.4 305.4,176.5C305.5,177.5 305.7,178.1 305.9,178.1C306.0,178.0 306.2,176.3 306.4,176.1C306.6,175.8 306.7,176.4 306.9,176.5C307.1,176.6 307.3,176.8 307.4,176.6C307.6,176.5 307.8,174.9 307.9,175.6C308.1,176.4 308.3,179.8 308.5,180.9C308.6,181.9 308.8,181.5 309.0,181.9C309.2,182.2 309.3,182.6 309.5,182.7C309.7,182.8 309.8,182.6 310.0,182.6C310.2,182.7 310.4,183.4 310.5,183.1C310.7,182.7 310.9,180.8 311.1,180.7C311.2,180.6 311.4,181.7 311.6,182.3C311.7,182.9 311.9,183.2 312.1,184.2C312.3,185.2 312.4,187.7 312.6,188.1C312.8,188.6 313.0,187.0 313.1,186.9C313.3,186.7 313.5,187.2 313.6,187.3C313.8,187.5 314.0,187.6 314.2,187.8C314.3,188.0 314.5,188.5 314.7,188.4C314.9,188.3 315.0,187.5 315.2,187.4C315.4,187.3 315.5,187.3 315.7,187.8C315.9,188.3 316.1,189.7 316.2,190.5C316.4,191.2 316.6,192.1 316.8,192.3C316.9,192.5 317.1,191.6 317.3,191.7C317.4,191.9 317.6,193.5 317.8,193.2C318.0,192.8 318.1,189.8 318.3,189.5C318.5,189.2 318.7,190.2 318.8,191.2C319.0,192.3 319.2,194.9 319.3,195.6C319.5,196.3 319.7,194.6 319.9,195.5C320.0,196.4 320.2,201.2 320.4,201.2C320.6,201.1 320.7,196.0 320.9,195.3C321.1,194.7 321.2,197.0 321.4,197.2C321.6,197.5 321.8,196.8 321.9,197.0C322.1,197.1 322.3,197.0 322.5,198.2C322.6,199.5 322.8,204.1 323.0,204.5C323.1,204.9 323.3,202.0 323.5,200.8C323.7,199.7 323.8,197.8 324.0,197.5C324.2,197.2 324.4,198.0 324.5,198.8C324.7,199.7 324.9,202.2 325.0,202.7C325.2,203.1 325.4,201.3 325.6,201.4C325.7,201.5 325.9,202.8 326.1,203.2C326.3,203.6 326.4,203.6 326.6,203.7C326.8,203.9 326.9,204.6 327.1,204.2C327.3,203.7 327.5,200.5 327.6,200.9C327.8,201.2 328.0,205.5 328.2,206.2C328.3,206.9 328.5,204.8 328.7,204.8C328.8,204.8 329.0,206.3 329.2,206.2C329.4,206.0 329.5,204.1 329.7,203.8C329.9,203.5 330.1,204.1 330.2,204.2C330.4,204.3 330.6,204.0 330.7,204.3C330.9,204.7 331.1,204.6 331.3,206.5C331.4,208.3 331.6,215.3 331.8,215.6C332.0,215.8 332.1,208.0 332.3,208.1C332.5,208.1 332.6,215.2 332.8,215.9C333.0,216.5 333.2,213.2 333.3,212.1C333.5,211.1 333.7,210.2 333.9,209.6C334.0,209.0 334.2,208.3 334.4,208.3C334.5,208.3 334.7,209.0 334.9,209.4C335.1,209.8 335.2,210.8 335.4,210.9C335.6,211.1 335.8,209.9 335.9,210.3C336.1,210.7 336.3,212.8 336.4,213.4C336.6,214.1 336.8,213.9 337.0,214.2C337.1,214.5 337.3,215.3 337.5,215.3C337.7,215.2 337.8,213.7 338.0,213.8C338.2,214.0 338.3,215.9 338.5,216.4C338.7,216.9 338.9,216.7 339.0,216.9C339.2,217.0 339.4,217.7 339.6,217.5C339.7,217.3 339.9,216.1 340.1,215.6C340.2,215.0 340.4,213.7 340.6,214.1C340.8,214.5 340.9,217.3 341.1,218.0C341.3,218.7 341.5,218.1 341.6,218.3C341.8,218.5 342.0,218.8 342.1,218.9C342.3,219.1 342.5,219.5 342.7,219.2C342.8,218.9 343.0,217.1 343.2,217.1C343.4,217.0 343.5,217.6 343.7,218.8C343.9,220.0 344.0,223.3 344.2,224.0C344.4,224.7 344.6,222.9 344.7,223.1C344.9,223.3 345.1,225.0 345.3,225.4C345.4,225.7 345.6,225.0 345.8,225.1C345.9,225.3 346.1,227.3 346.3,226.2C346.5,225.1 346.6,219.3 346.8,218.7C347.0,218.1 347.2,221.8 347.3,222.6C347.5,223.3 347.7,222.6 347.8,223.3C348.0,223.9 348.2,225.8 348.4,226.3C348.5,226.9 348.7,226.2 348.9,226.7C349.1,227.2 349.2,228.9 349.4,229.1C349.6,229.3 349.7,228.8 349.9,228.1C350.1,227.4 350.3,225.6 350.4,224.9C350.6,224.2 350.8,223.9 351.0,224.0C351.1,224.1 351.3,224.6 351.5,225.6C351.6,226.6 351.8,229.1 352.0,230.0C352.2,230.9 352.3,231.2 352.5,231.2C352.7,231.2 352.9,230.6 353.0,229.9C353.2,229.2 353.4,227.0 353.5,226.9C353.7,226.9 353.9,228.1 354.1,229.9C354.2,231.6 354.4,236.7 354.6,237.4C354.8,238.1 354.9,234.5 355.1,234.0C355.3,233.5 355.4,235.4 355.6,234.6C355.8,233.8 356.0,230.0 356.1,229.3C356.3,228.7 356.5,229.4 356.7,230.6C356.8,231.9 357.0,236.5 357.2,236.7C357.3,236.9 357.5,232.2 357.7,231.7C357.9,231.2 358.0,233.5 358.2,233.7C358.4,233.9 358.6,232.6 358.7,233.1C358.9,233.7 359.1,236.2 359.2,237.2C359.4,238.2 359.6,239.9 359.8,239.2C359.9,238.5 360.1,233.9 360.3,233.1C360.5,232.3 360.6,234.0 360.8,234.6C361.0,235.3 361.1,236.8 361.3,236.9C361.5,236.9 361.7,235.0 361.8,235.0C362.0,235.1 362.2,237.1 362.3,237.3C362.5,237.5 362.7,235.6 362.9,236.1C363.0,236.6 363.2,239.6 363.4,240.4C363.6,241.1 363.7,241.2 363.9,240.7C364.1,240.2 364.2,237.2 364.4,237.4C364.6,237.6 364.8,241.3 364.9,241.9C365.1,242.6 365.3,241.8 365.5,241.1C365.6,240.4 365.8,238.0 366.0,237.9C366.1,237.8 366.3,240.5 366.5,240.7C366.7,240.9 366.8,239.6 367.0,239.1C367.2,238.6 367.4,236.7 367.5,237.6C367.7,238.4 367.9,242.9 368.0,244.2C368.2,245.5 368.4,245.5 368.6,245.2C368.7,244.9 368.9,242.9 369.1,242.5C369.3,242.1 369.4,242.7 369.6,242.8C369.8,242.8 369.9,243.4 370.1,242.7C370.3,242.1 370.5,238.7 370.6,238.9C370.8,239.1 371.0,242.4 371.2,243.7C371.3,245.0 371.5,247.1 371.7,246.7C371.8,246.2 372.0,241.7 372.2,241.3C372.4,240.8 372.5,242.8 372.7,243.8C372.9,244.8 373.1,245.5 373.2,247.2C373.4,248.9 373.6,255.1 373.7,253.9C373.9,252.7 374.1,241.9 374.3,240.0C374.4,238.1 374.6,240.6 374.8,242.3C375.0,244.0 375.1,248.6 375.3,250.1C375.5,251.6 375.6,252.3 375.8,251.2C376.0,250.2 376.2,243.7 376.3,244.0C376.5,244.3 376.7,251.5 376.9,253.0C377.0,254.5 377.2,253.5 377.4,253.1C377.5,252.6 377.7,250.6 377.9,250.5C378.1,250.5 378.2,254.0 378.4,252.8C378.6,251.6 378.8,243.3 378.9,243.4C379.1,243.6 379.3,252.5 379.4,253.6C379.6,254.8 379.8,251.5 380.0,250.2C380.1,249.0 380.3,246.6 380.5,245.9C380.7,245.2 380.8,245.0 381.0,245.9C381.2,246.8 381.3,250.4 381.5,251.5C381.7,252.5 381.9,251.3 382.0,252.0C382.2,252.8 382.4,257.1 382.6,256.0C382.7,254.9 382.9,246.3 383.1,245.5C383.2,244.8 383.4,250.9 383.6,251.4C383.8,251.9 383.9,248.8 384.1,248.3C384.3,247.8 384.5,246.9 384.6,248.4C384.8,249.9 385.0,256.7 385.1,257.4C385.3,258.0 385.5,252.2 385.7,252.4C385.8,252.6 386.0,257.8 386.2,258.7C386.4,259.5 386.5,257.9 386.7,257.6C386.9,257.4 387.0,257.4 387.2,257.1C387.4,256.9 387.6,257.3 387.7,256.2C387.9,255.1 388.1,249.7 388.3,250.7C388.4,251.7 388.6,261.0 388.8,262.2C388.9,263.4 389.1,259.0 389.3,258.1C389.5,257.1 389.6,256.6 389.8,256.6C390.0,256.6 390.2,256.9 390.3,258.0C390.5,259.1 390.7,263.4 390.8,263.3C391.0,263.3 391.2,257.7 391.4,257.7C391.5,257.8 391.7,263.3 391.9,263.6C392.1,263.9 392.2,259.4 392.4,259.7C392.6,260.0 392.7,266.0 392.9,265.7C393.1,265.3 393.3,258.1 393.4,257.5C393.6,256.9 393.8,260.5 394.0,262.2C394.1,263.9 394.3,268.7 394.5,267.7C394.6,266.6 394.8,257.3 395.0,255.9C395.2,254.6 395.3,259.3 395.5,259.6C395.7,259.9 395.9,257.9 396.0,257.9C396.2,257.8 396.4,257.9 396.5,259.4C396.7,260.8 396.9,266.3 397.1,266.6C397.2,266.9 397.4,262.0 397.6,261.1C397.8,260.2 397.9,259.6 398.1,261.1C398.3,262.6 398.4,270.4 398.6,270.2C398.8,270.0 399.0,261.1 399.1,259.8C399.3,258.6 399.5,262.8 399.7,262.6C399.8,262.4 400.0,258.3 400.2,258.8C400.3,259.3 400.5,264.6 400.7,265.4C400.9,266.3 401.0,262.5 401.2,263.8C401.4,265.2 401.6,273.6 401.7,273.7C401.9,273.7 402.1,264.2 402.2,264.0C402.4,263.7 402.6,272.0 402.8,272.2C402.9,272.4 403.1,265.8 403.3,265.4C403.5,264.9 403.6,269.3 403.8,269.4C404.0,269.5 404.1,266.1 404.3,265.8C404.5,265.5 404.7,266.5 404.8,267.6C405.0,268.8 405.2,274.3 405.4,272.6C405.5,270.9 405.7,259.4 405.9,257.6C406.0,255.7 406.2,259.3 406.4,261.5C406.6,263.7 406.7,268.3 406.9,270.6C407.1,273.0 407.3,276.0 407.4,275.6C407.6,275.3 407.8,270.8 407.9,268.7C408.1,266.6 408.3,262.9 408.5,263.1C408.6,263.3 408.8,267.7 409.0,269.8C409.2,272.0 409.3,276.2 409.5,275.8C409.7,275.5 409.8,268.6 410.0,267.8C410.2,267.1 410.4,270.1 410.5,271.3C410.7,272.5 410.9,273.5 411.1,275.0C411.2,276.5 411.4,280.3 411.6,280.4C411.7,280.6 411.9,275.8 412.1,275.8C412.3,275.8 412.4,281.5 412.6,280.4C412.8,279.2 413.0,270.4 413.1,269.1C413.3,267.8 413.5,271.1 413.6,272.5C413.8,273.9 414.0,277.0 414.2,277.6C414.3,278.3 414.5,277.1 414.7,276.3C414.9,275.5 415.0,272.4 415.2,272.8C415.4,273.1 415.5,278.6 415.7,278.5C415.9,278.5 416.1,272.8 416.2,272.4C416.4,272.0 416.6,274.8 416.8,276.1C416.9,277.3 417.1,279.6 417.3,279.9C417.4,280.2 417.6,279.2 417.8,277.8C418.0,276.3 418.1,271.0 418.3,271.2C418.5,271.5 418.6,279.1 418.8,279.2C419.0,279.3 419.2,272.1 419.3,271.8C419.5,271.5 419.7,274.6 419.9,277.2C420.0,279.9 420.2,287.7 420.4,287.5C420.5,287.2 420.7,278.4 420.9,275.8C421.1,273.3 421.2,272.5 421.4,272.1C421.6,271.8 421.8,274.0 421.9,273.7C422.1,273.3 422.3,268.7 422.4,270.0C422.6,271.3 422.8,280.1 423.0,281.6C423.1,283.0 423.3,278.3 423.5,278.6C423.7,278.9 423.8,284.9 424.0,283.4C424.2,281.9 424.3,270.0 424.5,269.6C424.7,269.2 424.9,279.1 425.0,281.0C425.2,282.9 425.4,280.7 425.6,281.1C425.7,281.5 425.9,285.0 426.1,283.3C426.2,281.7 426.4,271.7 426.6,271.3C426.8,270.9 426.9,279.0 427.1,280.9C427.3,282.8 427.5,282.5 427.6,282.6C427.8,282.7 428.0,280.5 428.1,281.3C428.3,282.1 428.5,285.9 428.7,287.3C428.8,288.7 429.0,292.3 429.2,289.7C429.4,287.1 429.5,270.8 429.7,271.5C429.9,272.3 430.0,292.0 430.2,294.3C430.4,296.6 430.6,287.0 430.7,285.1C430.9,283.2 431.1,282.0 431.3,282.8C431.4,283.6 431.6,289.2 431.8,289.8C431.9,290.5 432.1,286.5 432.3,286.7C432.5,286.9 432.6,290.6 432.8,291.1C433.0,291.7 433.2,290.3 433.3,289.9C433.5,289.4 433.7,291.1 433.8,288.6C434.0,286.1 434.2,274.6 434.4,274.8C434.5,275.1 434.7,289.0 434.9,290.4C435.1,291.8 435.2,285.0 435.4,283.3C435.6,281.6 435.7,277.8 435.9,280.3C436.1,282.7 436.3,296.5 436.4,298.0C436.6,299.6 436.8,289.3 437.0,289.4C437.1,289.5 437.3,298.7 437.5,298.8C437.6,298.8 437.8,289.8 438.0,289.5C438.2,289.2 438.3,298.6 438.5,296.9C438.7,295.3 438.9,278.9 439.0,279.4C439.2,280.0 439.4,297.4 439.5,300.1C439.7,302.8 439.9,295.8 440.1,295.6C440.2,295.5 440.4,299.1 440.6,298.9C440.8,298.8 440.9,296.0 441.1,294.7C441.3,293.4 441.4,290.8 441.6,291.2C441.8,291.5 442.0,294.7 442.1,296.7C442.3,298.7 442.5,303.5 442.7,302.9C442.8,302.3 443.0,295.6 443.2,293.2C443.3,290.9 443.5,288.9 443.7,288.8C443.9,288.7 444.0,291.3 444.2,292.8C444.4,294.4 444.6,298.8 444.7,298.1C444.9,297.3 445.1,290.1 445.2,288.4C445.4,286.7 445.6,286.1 445.8,288.0C445.9,289.9 446.1,297.7 446.3,299.7C446.5,301.7 446.6,300.0 446.8,300.1C447.0,300.2 447.1,301.2 447.3,300.2C447.5,299.2 447.7,296.9 447.8,294.2C448.0,291.5 448.2,281.7 448.4,283.9C448.5,286.1 448.7,304.8 448.9,307.3C449.0,309.9 449.2,300.8 449.4,299.0C449.6,297.3 449.7,297.0 449.9,296.8C450.1,296.7 450.3,297.3 450.4,298.0C450.6,298.6 450.8,300.2 450.9,300.7C451.1,301.1 451.3,301.9 451.5,300.7C451.6,299.6 451.8,293.7 452.0,293.7C452.2,293.7 452.3,299.2 452.5,301.0C452.7,302.8 452.8,302.5 453.0,304.7C453.2,306.9 453.4,316.4 453.5,314.2C453.7,312.0 453.9,293.3 454.1,291.5C454.2,289.8 454.4,301.3 454.6,303.8C454.7,306.2 454.9,307.6 455.1,306.2C455.3,304.8 455.4,298.4 455.6,295.4C455.8,292.4 456.0,287.3 456.1,288.3C456.3,289.2 456.5,298.8 456.6,301.1C456.8,303.5 457.0,302.8 457.2,302.5C457.3,302.2 457.5,300.2 457.7,299.4C457.9,298.6 458.0,297.8 458.2,297.5C458.4,297.2 458.5,296.7 458.7,297.6C458.9,298.4 459.1,303.2 459.2,302.9C459.4,302.5 459.6,295.1 459.8,295.5C459.9,295.9 460.1,304.3 460.3,305.3C460.4,306.4 460.6,302.3 460.8,301.8C461.0,301.3 461.1,299.0 461.3,302.3C461.5,305.6 461.7,323.4 461.8,321.7C462.0,320.1 462.2,296.8 462.3,292.4C462.5,288.4 462.7,295.0 462.9,295.3C463.0,295.6 463.2,292.0 463.4,294.4C463.6,296.9 463.7,309.9 463.9,309.9C464.1,310.0 464.2,296.1 464.4,294.8C464.6,293.4 464.8,298.8 464.9,301.7C465.1,304.6 465.3,312.9 465.5,312.3C465.6,311.8 465.8,299.3 466.0,298.5C466.1,297.6 466.3,306.2 466.5,307.0C466.7,307.7 466.8,300.9 467.0,303.0C467.2,305.1 467.4,320.9 467.5,319.5C467.7,318.1 467.9,299.2 468.0,294.6C468.2,290.0 468.4,289.3 468.6,291.8C468.7,294.3 468.9,307.9 469.1,309.8C469.3,311.8 469.4,304.2 469.6,303.6C469.8,303.0 469.9,307.3 470.1,306.4C470.3,305.6 470.5,298.3 470.6,298.5C470.8,298.7 471.0,304.2 471.2,307.9C471.3,311.5 471.5,319.1 471.7,320.6C471.8,322.1 472.0,318.9 472.2,316.8C472.4,314.6 472.5,306.9 472.7,307.7C472.9,308.6 473.1,322.4 473.2,321.9C473.4,321.5 473.6,305.2 473.7,305.1C473.9,305.1 474.1,322.5 474.3,321.5C474.4,320.5 474.6,302.8 474.8,299.2C475.0,295.6 475.1,298.6 475.3,299.8C475.5,301.1 475.6,306.2 475.8,306.7C476.0,307.1 476.2,301.5 476.3,302.7C476.5,303.8 476.7,314.1 476.8,313.6C477.0,313.0 477.2,301.1 477.4,299.4C477.5,297.8 477.7,301.1 477.9,303.8C478.1,306.5 478.2,316.0 478.4,315.7C478.6,315.4 478.7,304.1 478.9,302.2C479.1,300.2 479.3,304.6 479.4,303.9C479.6,303.2 479.8,298.0 480.0,298.0C480.1,298.0 480.3,298.5 480.5,303.9C480.6,309.2 480.8,325.9 481.0,330.1C481.2,334.1 481.3,332.8 481.5,328.7C481.7,324.6 481.9,309.1 482.0,305.6C482.2,302.1 482.4,305.4 482.5,307.7C482.7,310.1 482.9,318.7 483.1,319.9C483.2,321.0 483.4,315.1 483.6,314.5C483.8,313.8 483.9,315.1 484.1,315.8C484.3,316.6 484.4,318.6 484.6,319.2C484.8,319.8 485.0,318.4 485.1,319.4C485.3,320.4 485.5,326.3 485.7,325.2C485.8,324.2 486.0,314.3 486.2,313.2C486.3,312.1 486.5,319.2 486.7,318.7C486.9,318.2 487.0,311.7 487.2,310.1C487.4,308.5 487.6,307.9 487.7,309.0C487.9,310.2 488.1,317.2 488.2,317.1C488.4,317.1 488.6,310.8 488.8,308.6C488.9,306.4 489.1,301.3 489.3,304.1C489.5,306.9 489.6,320.6 489.8,325.2C490.0,329.8 490.1,333.7 490.3,331.6C490.5,329.6 490.7,311.8 490.8,313.2C491.0,314.6 491.2,340.2 491.4,340.1C491.5,339.9 491.7,317.8 491.9,312.2C492.0,306.5 492.2,304.1 492.4,306.2C492.6,308.2 492.7,320.1 492.9,324.5C493.1,329.0 493.3,335.6 493.4,333.1C493.6,330.6 493.8,312.5 493.9,309.6C494.1,306.7 494.3,314.3 494.5,315.7C494.6,317.1 494.8,317.4 495.0,317.9C495.2,318.4 495.3,318.9 495.5,318.6C495.7,318.3 495.8,315.4 496.0,316.1C496.2,316.7 496.4,318.6 496.5,322.5C496.7,326.5 496.9,341.1 497.1,339.9C497.2,338.6 497.4,318.7 497.6,315.1C497.7,311.5 497.9,317.5 498.1,318.2C498.3,318.9 498.4,317.1 498.6,319.3C498.8,321.4 499.0,332.7 499.1,331.2C499.3,329.8 499.5,311.8 499.6,310.7C499.8,309.7 500.0,323.1 500.2,325.2C500.3,327.2 500.5,324.7 500.7,323.0C500.9,321.3 501.0,315.5 501.2,314.8C501.4,314.1 501.5,318.9 501.7,318.7C501.9,318.4 502.1,312.7 502.2,313.6C502.4,314.4 502.6,322.1 502.8,323.7C502.9,325.2 503.1,322.8 503.3,323.0C503.4,323.2 503.6,328.3 503.8,324.9C504.0,321.6 504.1,303.6 504.3,302.9C504.5,302.2 504.7,318.2 504.8,320.7C505.0,323.2 505.2,316.9 505.3,318.0C505.5,319.0 505.7,325.8 505.9,327.0C506.0,328.2 506.2,327.4 506.4,324.9C506.6,322.4 506.7,310.8 506.9,312.0C507.1,313.2 507.2,328.3 507.4,332.0C507.6,335.8 507.8,333.7 507.9,334.4C508.1,335.1 508.3,338.3 508.5,336.5C508.6,334.7 508.8,323.3 509.0,323.7C509.1,324.1 509.3,340.0 509.5,339.0C509.7,338.1 509.8,321.8 510.0,318.1C510.2,314.4 510.4,316.8 510.5,316.9C510.7,317.0 510.9,316.2 511.0,318.8C511.2,321.4 511.4,333.6 511.6,332.5C511.7,331.3 511.9,312.1 512.1,311.9C512.3,311.7 512.4,325.3 512.6,331.2C512.8,337.1 512.9,349.7 513.1,347.3C513.3,344.8 513.5,320.2 513.6,316.5C513.8,312.8 514.0,324.1 514.2,324.8C514.3,325.4 514.5,320.0 514.7,320.4C514.8,320.8 515.0,326.0 515.2,327.1C515.4,328.2 515.5,325.2 515.7,327.1C515.9,328.9 516.1,338.9 516.2,338.1C516.4,337.3 516.6,322.0 516.7,322.1C516.9,322.2 517.1,334.5 517.3,338.5C517.4,342.5 517.6,347.8 517.8,346.1C518.0,344.5 518.1,331.2 518.3,328.5C518.5,325.8 518.6,330.4 518.8,330.1C519.0,329.8 519.2,323.3 519.3,326.7C519.5,330.0 519.7,349.1 519.9,350.2C520.0,351.2 520.2,338.4 520.4,332.9C520.5,327.4 520.7,314.1 520.9,317.1C521.1,320.1 521.2,344.6 521.4,350.9C521.6,357.2 521.8,358.1 521.9,355.0C522.1,352.0 522.3,335.2 522.4,332.5C522.6,329.8 522.8,343.0 523.0,339.0C523.1,334.3 523.3,304.4 523.5,304.2C523.7,303.9 523.8,333.1 524.0,337.4C524.2,341.4 524.3,331.3 524.5,329.6C524.7,327.9 524.9,328.0 525.0,327.3C525.2,326.5 525.4,323.9 525.6,325.3C525.7,326.7 525.9,331.0 526.1,335.6C526.2,340.2 526.4,352.2 526.6,352.9C526.8,353.5 526.9,342.3 527.1,339.5C527.3,336.8 527.5,340.2 527.6,336.1C527.8,332.0 528.0,317.1 528.1,315.0C528.3,312.9 528.5,321.9 528.7,323.6C528.8,325.4 529.0,324.4 529.2,325.7C529.4,326.9 529.5,331.6 529.7,331.3C529.9,330.9 530.0,319.8 530.2,323.8C530.4,328.2 530.6,355.8 530.7,357.9C530.9,359.9 531.1,340.9 531.3,336.0C531.4,331.1 531.6,330.6 531.8,328.5C531.9,326.4 532.1,322.2 532.3,323.5C532.5,324.7 532.6,332.1 532.8,336.0C533.0,340.0 533.2,345.6 533.3,347.4C533.5,349.2 533.7,346.6 533.8,346.9C534.0,347.1 534.2,352.1 534.4,348.8C534.5,345.5 534.7,326.8 534.9,327.0C535.0,327.2 535.2,347.8 535.4,349.8C535.6,351.7 535.7,339.2 535.9,338.9C536.1,338.5 536.3,344.2 536.4,347.5C536.6,350.8 536.8,360.2 536.9,358.5C537.1,356.7 537.3,337.5 537.5,337.1C537.6,336.8 537.8,350.9 538.0,356.4C538.2,361.9 538.3,372.2 538.5,369.9C538.7,367.7 538.8,350.1 539.0,343.1C539.2,336.1 539.4,331.7 539.5,328.2C539.7,324.6 539.9,322.4 540.1,321.9C540.2,321.4 540.4,321.5 540.6,325.3C540.7,329.1 540.9,343.9 541.1,344.8C541.3,345.6 541.4,331.0 541.6,330.7C541.8,330.3 542.0,334.9 542.1,342.6C542.3,350.3 542.5,378.2 542.6,377.0C542.8,375.7 543.0,341.9 543.2,335.3C543.3,331.3 543.5,331.3 543.7,337.3C543.9,343.9 544.0,375.1 544.2,374.8C544.4,374.6 544.5,341.6 544.7,335.5C544.9,331.5 545.1,338.1 545.2,338.7C545.4,339.4 545.6,334.7 545.8,339.3C545.9,344.0 546.1,364.9 546.3,366.7C546.4,368.5 546.6,352.0 546.8,350.2C547.0,348.3 547.1,355.8 547.3,355.6C547.5,355.4 547.7,351.9 547.8,348.9C548.0,346.0 548.2,340.3 548.3,337.7C548.5,335.1 548.7,329.9 548.9,333.5C549.0,337.1 549.2,351.4 549.4,359.3C549.6,367.2 549.7,384.4 549.9,380.9C550.1,377.4 550.2,342.5 550.4,338.5C550.6,334.5 550.9,355.5 551.2,356.6C551.5,357.7 551.7,344.8 552.0,344.9C552.2,345.0 552.5,357.5 552.8,357.4C553.0,357.3 553.3,347.7 553.5,344.3C553.8,340.8 554.0,337.3 554.3,336.8C554.6,336.2 554.8,338.7 555.1,340.9C555.3,343.1 555.6,349.4 555.9,349.9C556.1,350.4 556.4,344.8 556.6,343.9C556.9,343.1 557.2,346.6 557.4,345.0C557.7,343.4 557.9,333.9 558.2,334.2C558.5,334.4 558.7,347.0 559.0,346.3C559.2,345.6 559.5,329.3 559.7,329.8C560.0,330.4 560.3,345.1 560.5,349.4C560.8,353.7 561.0,356.2 561.3,355.4C561.6,354.6 561.8,346.2 562.1,344.5C562.3,342.8 562.6,347.1 562.9,345.2C563.1,343.2 563.4,332.6 563.6,332.9C563.9,333.2 564.1,342.9 564.4,347.0C564.7,351.0 564.9,357.0 565.2,357.0C565.4,357.1 565.7,349.4 566.0,347.2C566.2,344.9 566.5,344.7 566.7,343.4C567.0,342.2 567.3,335.5 567.5,339.5C567.8,344.0 568.0,368.2 568.3,370.1C568.6,372.0 568.8,351.8 569.1,351.1C569.3,350.4 569.6,368.4 569.8,366.0C570.1,363.6 570.4,342.1 570.6,336.5C570.9,331.0 571.1,331.8 571.4,332.7C571.7,333.5 571.9,337.3 572.2,341.4C572.4,345.6 572.7,355.1 573.0,357.5C573.2,359.9 573.5,353.8 573.7,355.6C574.0,357.4 574.3,370.6 574.5,368.2C574.8,365.8 575.0,344.0 575.3,341.4C575.5,338.9 575.8,352.8 576.1,353.0C576.3,353.2 576.6,340.3 576.8,342.9C577.1,345.4 577.4,365.8 577.6,368.4C577.9,370.9 578.1,362.9 578.4,358.1C578.7,353.3 578.9,340.7 579.2,339.6C579.4,338.5 579.7,348.0 580.0,351.6C580.2,355.1 580.5,362.5 580.7,360.9C581.0,359.4 581.2,343.7 581.5,342.2C581.8,340.8 582.0,351.0 582.3,352.1C582.5,353.2 582.8,346.2 583.1,348.8C583.3,351.4 583.6,366.4 583.8,367.7C584.1,369.0 584.4,357.6 584.6,356.7C584.9,355.7 585.1,361.9 585.4,362.1C585.7,362.2 585.9,355.0 586.2,357.5C586.4,360.0 586.7,379.4 586.9,377.1C587.2,374.8 587.5,346.7 587.7,343.9C588.0,341.0 588.2,355.4 588.5,360.2C588.8,365.0 589.0,374.1 589.3,372.8C589.5,371.5 589.8,354.9 590.1,352.2C590.3,349.5 590.6,355.1 590.8,356.6C591.1,358.1 591.4,360.4 591.6,361.1C591.9,361.8 592.1,363.6 592.4,360.8C592.6,358.1 592.9,343.4 593.2,344.5C593.4,345.6 593.7,366.5 593.9,367.6C594.2,368.6 594.5,354.8 594.7,351.0C595.0,347.1 595.2,343.5 595.5,344.5C595.8,345.6 596.0,354.2 596.3,357.3C596.5,360.4 596.8,364.9 597.0,363.2C597.3,361.4 597.6,344.2 597.8,346.7C598.1,349.3 598.3,373.8 598.6,378.5C598.9,382.5 599.1,373.2 599.4,374.5C599.6,375.8 599.9,389.9 600.2,386.4C600.4,382.9 600.7,360.6 600.9,353.4C601.2,346.1 601.5,340.5 601.7,343.0C602.0,345.4 602.2,365.4 602.5,368.0C602.7,370.6 603.0,355.5 603.3,358.6C603.5,361.7 603.8,387.2 604.0,386.5C604.3,385.7 604.6,358.2 604.8,354.2C605.1,350.2 605.3,360.9 605.6,362.2C605.9,363.5 606.1,363.1 606.4,362.0C606.6,360.9 606.9,358.3 607.2,355.4C607.4,352.5 607.7,344.8 607.9,344.6C608.2,344.3 608.4,353.4 608.7,354.0C609.0,354.5 609.2,346.1 609.5,347.8C609.7,349.5 610.0,364.6 610.3,364.4C610.5,364.2 610.8,347.2 611.0,346.4C611.3,345.7 611.6,357.0 611.8,359.9C612.1,362.9 612.3,362.9 612.6,364.1C612.9,365.4 613.1,366.6 613.4,367.2C613.6,367.8 613.9,369.4 614.1,367.8C614.4,366.3 614.7,358.0 614.9,357.9C615.2,357.8 615.4,367.5 615.7,367.3C616.0,367.1 616.2,355.0 616.5,356.5C616.7,358.0 617.0,378.2 617.3,376.2C617.5,374.3 617.8,344.0 618.0,344.7C618.3,345.4 618.6,365.6 618.8,380.2C619.1,394.8 619.3,436.1 619.6,432.1C619.8,427.7 620.1,365.3 620.4,353.2C620.6,349.2 620.9,357.6 621.1,359.7C621.4,361.9 621.7,366.0 621.9,366.3C622.2,366.6 622.4,358.8 622.7,361.6C623.0,364.4 623.2,383.1 623.5,382.9C623.7,382.7 624.0,357.1 624.2,360.4C624.5,363.7 624.8,404.4 625.0,402.6C625.3,400.8 625.5,353.9 625.8,349.5C626.1,345.5 626.3,368.1 626.6,375.9C626.8,383.7 627.1,398.7 627.4,396.3C627.6,393.8 627.9,364.0 628.1,361.3C628.4,358.6 628.7,379.0 628.9,380.2C629.2,381.4 629.4,372.6 629.7,368.6C629.9,364.6 630.2,358.2 630.5,356.0C630.7,353.9 631.0,354.9 631.2,355.5C631.5,356.2 631.8,357.0 632.0,359.9C632.3,362.8 632.5,371.7 632.8,373.0C633.1,374.2 633.3,369.6 633.6,367.4C633.8,365.2 634.1,361.6 634.4,359.8C634.6,357.9 634.9,356.8 635.1,356.3C635.4,355.9 635.6,356.8 635.9,357.0C636.2,357.2 636.4,354.3 636.7,357.4C636.9,360.5 637.2,370.7 637.5,375.8C637.7,380.9 638.0,390.0 638.2,387.8C638.5,385.7 638.8,366.1 639.0,363.1C639.3,360.2 639.5,371.6 639.8,370.1C640.1,368.7 640.3,353.5 640.6,354.5C640.8,355.5 641.1,375.5 641.3,376.2C641.6,377.0 641.9,355.0 642.1,359.0C642.4,363.0 642.6,400.7 642.9,400.1C643.2,399.5 643.4,362.9 643.7,355.4C643.9,351.4 644.2,353.0 644.5,355.5C644.7,358.0 645.0,366.2 645.2,370.5C645.5,374.7 645.8,381.3 646.0,380.9C646.3,380.5 646.5,369.7 646.8,367.9C647.0,366.1 647.3,368.6 647.6,370.1C647.8,371.5 648.1,375.3 648.3,376.7C648.6,378.1 648.9,375.0 649.1,378.4C649.4,381.7 649.6,398.2 649.9,396.9C650.2,395.6 650.4,372.5 650.7,370.6C650.9,368.8 651.2,383.1 651.4,386.0C651.7,389.0 652.0,392.4 652.2,388.4C652.5,383.9 652.7,361.3 653.0,358.9C653.3,356.6 653.5,372.8 653.8,374.4C654.0,375.9 654.3,366.5 654.6,368.3C654.8,370.1 655.1,386.4 655.3,385.3C655.6,384.2 655.9,365.7 656.1,361.6C656.4,357.5 656.6,356.8 656.9,360.8C657.1,374.7 657.4,447.1 657.7,445.4C657.9,443.8 658.2,362.1 658.4,350.8C658.7,346.8 659.0,374.7 659.2,377.9C659.5,381.2 659.7,369.6 660.0,370.4C660.3,371.1 660.5,385.1 660.8,382.5C661.0,379.8 661.3,357.2 661.6,354.5C661.8,351.8 662.1,364.4 662.3,366.3C662.6,368.2 662.8,361.9 663.1,365.9C663.4,370.7 663.6,393.5 663.9,395.1C664.1,396.8 664.4,381.5 664.7,375.8C664.9,370.1 665.2,360.6 665.4,360.9C665.7,361.3 666.0,373.6 666.2,378.0C666.5,382.3 666.7,387.4 667.0,387.1C667.3,386.9 667.5,377.3 667.8,376.5C668.0,375.6 668.3,384.7 668.5,382.2C668.8,379.7 669.1,358.8 669.3,361.5C669.6,364.3 669.8,397.9 670.1,398.6C670.4,399.3 670.6,374.6 670.9,366.0C671.1,357.5 671.4,345.8 671.7,347.3C671.9,348.7 672.2,366.0 672.4,374.6C672.7,383.3 673.0,399.3 673.2,399.2C673.5,399.1 673.7,375.7 674.0,374.3C674.2,372.9 674.5,393.3 674.8,390.9C675.0,388.5 675.3,361.3 675.5,359.9C675.8,358.6 676.1,374.7 676.3,382.8C676.6,391.0 676.8,411.3 677.1,408.9C677.4,406.4 677.6,376.0 677.9,368.2C678.1,360.4 678.4,359.7 678.6,362.1C678.9,364.4 679.2,375.4 679.4,382.3C679.7,389.2 679.9,401.5 680.2,403.5C680.5,405.6 680.7,400.8 681.0,394.7C681.2,388.6 681.5,369.1 681.8,366.8C682.0,364.4 682.3,382.1 682.5,380.6C682.8,379.1 683.1,353.8 683.3,357.8C683.6,362.4 683.8,404.6 684.1,408.8C684.3,412.8 684.6,387.4 684.9,382.9C685.1,378.4 685.4,377.7 685.6,381.7C685.9,392.2 686.2,447.2 686.4,445.8C686.7,444.4 686.9,380.8 687.2,373.5C687.5,369.5 687.7,397.8 688.0,401.6C688.2,405.5 688.5,400.7 688.8,396.6C689.0,392.6 689.3,378.3 689.5,377.2C689.8,376.1 690.0,388.1 690.3,389.9C690.6,391.7 690.8,391.9 691.1,387.9C691.3,383.9 691.6,370.7 691.9,365.9C692.1,361.1 692.4,357.3 692.6,359.2C692.9,361.0 693.2,374.7 693.4,377.0C693.7,379.4 693.9,377.5 694.2,373.2C694.5,369.0 694.7,352.7 695.0,351.6C695.2,350.5 695.5,365.0 695.7,366.5C696.0,368.1 696.3,356.7 696.5,360.7C696.8,365.5 697.0,392.7 697.3,395.6C697.6,398.5 697.8,380.1 698.1,377.9C698.3,375.6 698.6,383.2 698.9,382.2C699.1,381.2 699.4,375.6 699.6,371.7C699.9,367.8 700.1,360.7 700.4,358.7C700.7,356.7 701.1,354.7 701.4,359.7C701.8,368.4 702.1,400.2 702.5,410.8C702.8,421.4 703.2,420.7 703.5,423.5C703.9,426.2 704.2,431.4 704.6,427.4C704.9,421.2 705.2,393.8 705.6,386.6C705.9,380.6 706.3,383.2 706.6,384.6C707.0,386.0 707.3,397.4 707.7,395.1C708.0,392.8 708.4,372.8 708.7,370.7C709.0,368.7 709.4,384.3 709.7,382.6C710.1,380.9 710.4,363.4 710.8,360.4C711.1,357.4 711.5,356.4 711.8,364.7C712.2,374.1 712.5,394.6 712.8,416.8C713.2,439.0 713.5,501.8 713.9,497.8C714.2,489.5 714.6,388.0 714.9,367.0C715.3,363.0 715.6,366.8 716.0,372.1C716.3,377.4 716.6,399.4 717.0,398.7C717.3,397.9 717.7,370.9 718.0,367.5C718.4,364.1 718.7,375.4 719.1,378.5C719.4,381.5 719.8,385.6 720.1,385.9C720.4,386.2 720.8,385.1 721.1,380.3C721.5,375.5 721.8,353.2 722.2,357.2C722.5,361.7 722.9,407.1 723.2,407.1C723.6,407.2 723.9,364.5 724.2,357.3C724.6,353.3 724.9,361.6 725.3,364.2C725.6,366.7 726.0,369.7 726.3,372.6C726.7,375.6 727.0,380.2 727.4,382.0C727.7,383.8 728.0,386.0 728.4,383.5C728.7,381.0 729.1,366.4 729.4,367.3C729.8,368.1 730.1,382.2 730.5,388.8C730.8,395.3 731.2,405.9 731.5,406.6C731.8,407.3 732.2,396.4 732.5,392.9C732.9,389.4 733.2,385.3 733.6,385.8C733.9,386.4 734.3,394.5 734.6,396.1C735.0,397.7 735.3,392.4 735.6,395.6C736.0,398.8 736.3,419.1 736.7,415.3C737.0,411.5 737.4,382.8 737.7,372.9C738.1,362.9 738.4,353.2 738.7,355.8C739.1,358.5 739.4,385.8 739.8,388.9C740.1,391.9 740.5,376.1 740.8,374.2C741.2,372.3 741.5,376.2 741.9,377.4C742.2,378.6 742.5,376.2 742.9,381.3C743.2,386.5 743.6,404.4 743.9,408.3C744.3,412.1 744.6,407.8 745.0,404.3C745.3,400.8 745.7,388.1 746.0,387.4C746.3,386.6 746.7,400.2 747.0,399.9C747.4,399.5 747.7,389.1 748.1,385.2C748.4,381.3 748.8,379.6 749.1,376.5C749.5,373.4 749.8,367.1 750.1,366.7C750.5,366.3 750.8,363.9 751.2,373.9C751.5,383.9 751.9,421.1 752.2,426.7C752.6,430.7 752.9,417.0 753.3,407.4C753.6,397.9 753.9,370.4 754.3,369.5C754.6,368.5 755.0,401.4 755.3,401.9C755.7,402.4 756.0,373.7 756.4,372.5C756.7,371.2 757.1,386.4 757.4,394.2C757.7,401.9 758.1,418.3 758.4,419.1C758.8,419.9 759.1,405.1 759.5,398.9C759.8,392.7 760.2,382.1 760.5,381.9C760.9,381.7 761.2,398.5 761.5,397.7C761.9,396.9 762.2,379.6 762.6,377.4C762.9,375.2 763.3,383.4 763.6,384.4C764.0,385.4 764.3,383.2 764.7,383.6C765.0,384.1 765.3,384.2 765.7,386.9C766.0,389.7 766.4,398.8 766.7,400.2C767.1,401.7 767.4,400.3 767.8,395.7C768.1,391.0 768.5,369.6 768.8,372.3C769.1,375.0 769.5,406.8 769.8,411.9C770.2,415.9 770.5,410.1 770.9,402.9C771.2,395.7 771.6,364.6 771.9,368.6C772.3,373.1 772.6,424.8 772.9,430.0C773.3,434.0 773.6,404.8 774.0,399.8C774.3,395.8 774.7,402.8 775.0,400.4C775.4,397.9 775.7,388.8 776.1,385.1C776.4,381.4 776.7,374.8 777.1,378.1C777.4,381.3 777.8,401.2 778.1,404.6C778.5,407.9 778.8,398.5 779.2,398.3C779.5,398.0 779.9,394.3 780.2,402.9C780.5,417.5 780.9,489.2 781.2,485.7C781.6,482.2 781.9,380.0 782.3,382.0C782.6,384.1 783.0,497.1 783.3,497.8C783.7,498.6 784.0,406.5 784.3,386.5C784.7,373.6 785.0,373.6 785.4,377.6C785.7,389.4 786.1,453.9 786.4,457.4C786.8,460.9 787.1,411.0 787.5,398.6C787.8,386.2 788.1,379.0 788.5,383.0C788.8,405.8 789.2,531.1 789.5,535.5C789.9,539.5 790.2,435.2 790.6,409.2C790.9,383.3 791.3,375.9 791.6,379.5C791.9,383.0 792.3,424.6 792.6,430.5C793.0,434.5 793.3,419.7 793.7,414.7C794.0,409.7 794.4,403.1 794.7,400.4C795.0,397.7 795.4,402.0 795.7,398.4C796.1,394.9 796.4,381.9 796.8,379.2C797.1,376.4 797.5,380.3 797.8,381.8C798.2,383.3 798.5,383.3 798.8,388.2C799.2,393.1 799.5,415.1 799.9,411.1C800.2,407.0 800.6,365.6 800.9,363.5C801.3,361.3 801.6,391.7 802.0,398.2C802.3,404.8 802.6,394.2 803.0,402.8C803.3,421.7 803.7,505.2 804.0,511.9C804.4,515.9 804.7,453.7 805.1,443.4C805.4,439.4 805.8,453.9 806.1,449.9C806.4,443.8 806.8,419.7 807.1,406.6C807.5,393.5 807.8,367.5 808.2,371.5C808.5,379.9 808.9,446.6 809.2,457.4C809.6,461.4 809.9,448.7 810.2,436.1C810.6,423.4 810.9,388.1 811.3,381.3C811.6,377.3 812.0,396.8 812.3,395.4C812.7,394.0 813.0,377.2 813.4,372.9C813.7,368.6 814.0,367.5 814.4,369.7C814.7,371.8 815.1,381.2 815.4,385.8C815.8,390.4 816.1,395.3 816.5,397.3C816.8,399.3 817.2,398.7 817.5,397.9C817.8,397.1 818.2,395.0 818.5,392.2C818.9,389.5 819.2,380.5 819.6,381.4C819.9,382.2 820.3,397.6 820.6,397.3C821.0,396.9 821.3,383.5 821.6,379.3C822.0,375.1 822.3,367.9 822.7,371.9C823.0,396.4 823.4,511.5 823.7,526.1C824.1,530.1 824.4,476.6 824.8,459.6C825.1,442.6 825.4,435.0 825.8,423.8C826.1,412.7 826.5,388.8 826.8,392.8C827.2,398.0 827.5,458.0 827.9,455.1C828.2,452.2 828.6,382.1 828.9,375.5C829.2,371.5 829.6,415.4 829.9,415.2C830.3,415.1 830.6,376.0 831.0,374.6C831.3,373.2 831.7,404.4 832.0,407.0C832.4,409.6 832.7,386.2 833.0,390.2C833.4,400.4 833.7,464.0 834.1,468.4C834.4,472.4 834.8,427.0 835.1,416.6C835.5,406.2 835.8,410.6 836.2,405.9C836.5,401.2 836.8,393.0 837.2,388.5C837.5,384.1 837.9,375.2 838.2,379.2C838.6,400.3 838.9,515.1 839.3,514.9C839.6,514.7 840.0,401.3 840.3,377.9C840.6,370.9 841.0,372.1 841.3,374.9C841.7,377.6 842.0,395.1 842.4,394.5C842.7,393.9 843.1,375.7 843.4,371.3C843.8,366.8 844.1,364.0 844.4,368.0C844.8,386.3 845.1,479.8 845.5,481.1C845.8,482.4 846.2,393.8 846.5,375.7C846.9,368.0 847.2,373.2 847.6,372.0C847.9,370.9 848.2,370.1 848.6,368.8C848.9,367.5 849.3,360.1 849.6,364.1C850.0,369.7 850.3,397.3 850.7,402.3C851.0,406.3 851.3,393.0 851.7,394.0C852.0,395.1 852.6,406.2 852.7,408.6"/>
<path stroke="#ff0000" stroke-width="2.6" d="M228.9,493.5C229.1,477.9 229.6,448.8 230.1,399.9C230.6,351.0 231.4,250.0 232.0,200.0C232.6,150.0 233.1,123.5 233.7,100.0C234.2,76.5 234.8,68.2 235.3,59.1C235.9,50.0 236.8,48.2 237.1,45.5C237.5,42.9 237.5,43.5 237.7,43.4C237.8,43.3 238.0,44.5 238.2,44.9C238.4,45.4 238.5,45.9 238.7,46.3C238.9,46.8 239.0,47.0 239.2,47.6C239.4,48.3 239.6,49.7 239.7,50.3C239.9,51.0 240.1,50.9 240.3,51.4C240.4,51.9 240.6,52.8 240.8,53.3C240.9,53.8 241.1,53.9 241.3,54.4C241.5,54.9 241.6,55.9 241.8,56.5C242.0,57.2 242.2,58.0 242.3,58.3C242.5,58.6 242.7,58.2 242.8,58.5C243.0,58.9 243.2,59.8 243.4,60.3C243.5,60.7 243.7,60.9 243.9,61.5C244.1,62.1 244.2,63.1 244.4,63.9C244.6,64.7 244.7,65.5 244.9,66.2C245.1,66.9 245.3,67.7 245.4,68.0C245.6,68.3 245.8,67.5 246.0,67.9C246.1,68.2 246.3,69.5 246.5,70.1C246.6,70.8 246.8,71.2 247.0,71.5C247.2,71.9 247.3,71.6 247.5,72.2C247.7,72.8 247.8,74.2 248.0,74.9C248.2,75.6 248.4,76.0 248.5,76.5C248.7,76.9 248.9,77.1 249.1,77.6C249.2,78.0 249.4,78.6 249.6,79.0C249.7,79.5 249.9,79.9 250.1,80.2C250.3,80.6 250.4,80.6 250.6,81.0C250.8,81.3 251.0,81.9 251.1,82.4C251.3,82.8 251.5,83.1 251.6,83.6C251.8,84.1 252.0,84.8 252.2,85.3C252.3,85.9 252.5,86.4 252.7,86.8C252.9,87.2 253.0,87.2 253.2,87.6C253.4,88.0 253.5,88.6 253.7,89.2C253.9,89.8 254.1,90.6 254.2,91.1C254.4,91.7 254.6,92.2 254.8,92.7C254.9,93.2 255.1,93.8 255.3,94.0C255.4,94.3 255.6,93.9 255.8,94.2C256.0,94.4 256.1,94.9 256.3,95.5C256.5,96.1 256.7,97.3 256.8,97.9C257.0,98.5 257.2,99.3 257.3,99.3C257.5,99.3 257.7,97.8 257.9,98.1C258.0,98.4 258.2,100.7 258.4,101.3C258.6,101.9 258.7,101.5 258.9,101.8C259.1,102.2 259.2,103.3 259.4,103.7C259.6,104.0 259.8,103.4 259.9,103.9C260.1,104.4 260.3,106.5 260.5,106.8C260.6,107.2 260.8,105.6 261.0,105.9C261.1,106.2 261.3,108.0 261.5,108.7C261.7,109.4 261.8,110.0 262.0,110.0C262.2,110.0 262.4,108.5 262.5,108.7C262.7,108.9 262.9,110.8 263.0,111.3C263.2,111.7 263.4,111.1 263.6,111.4C263.7,111.7 263.9,112.5 264.1,113.3C264.3,114.0 264.4,115.6 264.6,116.0C264.8,116.5 264.9,116.1 265.1,116.1C265.3,116.0 265.5,115.0 265.6,115.6C265.8,116.2 266.0,118.9 266.2,119.7C266.3,120.4 266.5,120.4 266.7,120.2C266.8,120.0 267.0,118.3 267.2,118.5C267.4,118.7 267.5,120.8 267.7,121.4C267.9,121.9 268.1,121.5 268.2,121.9C268.4,122.3 268.6,123.4 268.7,123.7C268.9,124.1 269.1,123.3 269.3,123.8C269.4,124.4 269.6,126.5 269.8,126.9C270.0,127.2 270.1,125.4 270.3,125.8C270.5,126.3 270.6,129.3 270.8,129.4C271.0,129.6 271.2,126.8 271.3,126.8C271.5,126.9 271.7,128.8 271.9,129.6C272.0,130.4 272.2,131.1 272.4,131.7C272.5,132.2 272.7,132.3 272.9,133.1C273.1,133.9 273.2,136.2 273.4,136.4C273.6,136.5 273.8,133.9 273.9,133.9C274.1,133.8 274.3,135.9 274.4,136.2C274.6,136.6 274.8,135.8 275.0,136.0C275.1,136.2 275.3,137.1 275.5,137.6C275.7,138.0 275.8,138.3 276.0,138.8C276.2,139.3 276.3,140.2 276.5,140.6C276.7,141.0 276.9,141.2 277.0,141.3C277.2,141.4 277.4,140.6 277.6,141.1C277.7,141.6 277.9,143.6 278.1,144.1C278.2,144.7 278.4,144.3 278.6,144.4C278.8,144.6 278.9,144.4 279.1,145.0C279.3,145.5 279.5,147.9 279.6,147.7C279.8,147.5 280.0,143.8 280.1,144.0C280.3,144.1 280.5,147.5 280.7,148.5C280.8,149.5 281.0,149.5 281.2,150.3C281.4,151.0 281.5,153.1 281.7,153.3C281.9,153.4 282.0,150.9 282.2,151.3C282.4,151.7 282.6,155.0 282.7,155.7C282.9,156.4 283.1,155.7 283.3,155.4C283.4,155.1 283.6,154.0 283.8,154.1C283.9,154.1 284.1,155.0 284.3,155.7C284.5,156.4 284.6,158.2 284.8,158.3C285.0,158.4 285.2,156.8 285.3,156.2C285.5,155.6 285.7,154.4 285.8,154.7C286.0,155.1 286.2,157.3 286.4,158.1C286.5,158.9 286.7,158.6 286.9,159.6C287.1,160.6 287.2,163.9 287.4,164.1C287.6,164.3 287.7,160.9 287.9,160.7C288.1,160.4 288.3,162.8 288.4,162.8C288.6,162.7 288.8,159.8 289.0,160.3C289.1,160.7 289.3,165.1 289.5,165.5C289.6,165.9 289.8,161.8 290.0,162.5C290.2,163.1 290.3,168.5 290.5,169.4C290.7,170.4 290.9,168.6 291.0,168.2C291.2,167.7 291.4,166.4 291.5,166.7C291.7,166.9 291.9,169.3 292.1,169.6C292.2,169.9 292.4,168.6 292.6,168.5C292.8,168.5 292.9,169.7 293.1,169.4C293.3,169.1 293.4,166.8 293.6,166.9C293.8,167.0 294.0,169.0 294.1,170.0C294.3,171.0 294.5,172.5 294.7,172.9C294.8,173.2 295.0,172.5 295.2,172.3C295.3,172.1 295.5,171.8 295.7,171.7C295.9,171.6 296.0,171.6 296.2,171.7C296.4,171.8 296.6,172.0 296.7,172.4C296.9,172.8 297.1,173.9 297.2,174.0C297.4,174.2 297.6,172.5 297.8,173.5C297.9,174.5 298.1,179.8 298.3,180.0C298.5,180.3 298.6,175.5 298.8,175.1C299.0,174.7 299.1,177.5 299.3,177.7C299.5,177.9 299.7,176.5 299.8,176.6C300.0,176.6 300.2,177.4 300.4,177.9C300.5,178.3 300.7,178.9 300.9,179.2C301.0,179.5 301.2,179.5 301.4,179.7C301.6,179.9 301.7,180.2 301.9,180.3C302.1,180.5 302.3,180.0 302.4,180.5C302.6,181.0 302.8,183.3 302.9,183.5C303.1,183.7 303.3,182.1 303.5,181.8C303.6,181.6 303.8,181.4 304.0,181.8C304.1,182.2 304.3,183.8 304.5,184.3C304.7,184.7 304.8,183.6 305.0,184.5C305.2,185.4 305.4,188.8 305.5,189.7C305.7,190.5 305.9,190.2 306.0,189.6C306.2,189.0 306.4,185.9 306.6,185.9C306.7,185.9 306.9,189.6 307.1,189.8C307.3,190.0 307.4,186.9 307.6,187.1C307.8,187.2 307.9,190.7 308.1,190.5C308.3,190.4 308.5,185.7 308.6,186.0C308.8,186.4 309.0,191.3 309.2,192.7C309.3,194.2 309.5,194.9 309.7,194.6C309.8,194.3 310.0,191.1 310.2,191.0C310.4,190.9 310.5,194.1 310.7,194.0C310.9,193.8 311.1,189.8 311.2,190.1C311.4,190.4 311.6,195.2 311.7,195.8C311.9,196.3 312.1,193.3 312.3,193.3C312.4,193.4 312.6,195.5 312.8,195.8C313.0,196.1 313.1,195.2 313.3,195.1C313.5,194.9 313.6,194.9 313.8,195.0C314.0,195.1 314.2,195.2 314.3,195.8C314.5,196.4 314.7,198.5 314.9,198.4C315.0,198.3 315.2,195.6 315.4,195.4C315.5,195.3 315.7,197.5 315.9,197.7C316.1,197.8 316.2,196.4 316.4,196.5C316.6,196.6 316.8,197.8 316.9,198.2C317.1,198.6 317.3,198.5 317.4,198.8C317.6,199.2 317.8,200.0 318.0,200.4C318.1,200.7 318.3,200.9 318.5,201.1C318.7,201.4 318.8,201.3 319.0,201.6C319.2,201.9 319.3,202.9 319.5,203.2C319.7,203.4 319.9,202.6 320.0,203.0C320.2,203.5 320.4,206.1 320.6,205.8C320.7,205.5 320.9,201.8 321.1,201.3C321.2,200.9 321.4,202.3 321.6,203.2C321.8,204.1 321.9,205.5 322.1,206.7C322.3,207.9 322.5,209.9 322.6,210.3C322.8,210.6 323.0,209.7 323.1,208.8C323.3,207.8 323.5,204.8 323.7,204.6C323.8,204.4 324.0,207.1 324.2,207.6C324.4,208.0 324.5,207.3 324.7,207.5C324.9,207.6 325.0,206.9 325.2,208.2C325.4,209.6 325.6,215.3 325.7,215.8C325.9,216.2 326.1,211.7 326.3,211.2C326.4,210.6 326.6,212.9 326.8,212.6C326.9,212.4 327.1,209.4 327.3,209.6C327.5,209.7 327.6,212.8 327.8,213.4C328.0,214.0 328.2,212.6 328.3,213.0C328.5,213.4 328.7,215.9 328.8,216.0C329.0,216.1 329.2,213.6 329.4,213.6C329.5,213.5 329.7,215.6 329.9,215.7C330.1,215.8 330.2,213.9 330.4,214.3C330.6,214.7 330.7,217.7 330.9,218.2C331.1,218.6 331.3,217.5 331.4,217.2C331.6,216.9 331.8,216.6 332.0,216.5C332.1,216.5 332.3,216.6 332.5,216.8C332.6,217.0 332.8,217.6 333.0,217.7C333.2,217.8 333.3,217.9 333.5,217.5C333.7,217.0 333.9,214.6 334.0,215.0C334.2,215.4 334.4,219.3 334.5,219.8C334.7,220.2 334.9,217.7 335.1,217.6C335.2,217.6 335.4,218.1 335.6,219.5C335.8,221.0 335.9,226.0 336.1,226.2C336.3,226.4 336.4,220.2 336.6,220.5C336.8,220.9 337.0,227.0 337.1,228.3C337.3,229.7 337.5,229.2 337.7,228.6C337.8,228.1 338.0,225.3 338.2,224.9C338.3,224.6 338.5,226.2 338.7,226.4C338.9,226.7 339.0,227.6 339.2,226.5C339.4,225.3 339.6,219.5 339.7,219.7C339.9,219.8 340.1,226.8 340.2,227.6C340.4,228.3 340.6,224.7 340.8,224.1C340.9,223.4 341.1,222.9 341.3,223.7C341.5,224.4 341.6,227.1 341.8,228.6C342.0,230.0 342.1,231.7 342.3,232.6C342.5,233.4 342.7,234.0 342.8,233.5C343.0,232.9 343.2,229.3 343.4,229.2C343.5,229.1 343.7,232.2 343.9,232.9C344.0,233.6 344.2,233.5 344.4,233.1C344.6,232.7 344.7,230.9 344.9,230.5C345.1,230.1 345.3,230.1 345.4,230.8C345.6,231.6 345.8,234.5 345.9,235.0C346.1,235.5 346.3,233.7 346.5,233.8C346.6,233.8 346.8,235.0 347.0,235.2C347.2,235.4 347.3,234.5 347.5,235.1C347.7,235.7 347.8,238.6 348.0,238.9C348.2,239.2 348.4,237.2 348.5,237.0C348.7,236.8 348.9,238.2 349.1,237.7C349.2,237.2 349.4,234.4 349.6,233.9C349.7,233.5 349.9,234.4 350.1,235.0C350.3,235.7 350.4,237.7 350.6,237.7C350.8,237.7 351.0,235.0 351.1,235.1C351.3,235.2 351.5,236.9 351.6,238.3C351.8,239.7 352.0,243.7 352.2,243.3C352.3,243.0 352.5,237.3 352.7,236.1C352.9,234.9 353.0,235.3 353.2,236.2C353.4,237.1 353.5,241.2 353.7,241.6C353.9,241.9 354.1,239.3 354.2,238.4C354.4,237.6 354.6,237.0 354.8,236.7C354.9,236.4 355.1,236.4 355.3,236.5C355.4,236.6 355.6,236.2 355.8,237.4C356.0,238.6 356.1,243.0 356.3,243.9C356.5,244.8 356.7,243.5 356.8,242.8C357.0,242.1 357.2,238.7 357.3,239.7C357.5,240.6 357.7,249.0 357.9,248.6C358.0,248.2 358.2,237.8 358.4,237.4C358.6,237.0 358.7,245.3 358.9,246.3C359.1,247.3 359.2,243.5 359.4,243.4C359.6,243.4 359.8,244.9 359.9,245.8C360.1,246.8 360.3,249.0 360.5,249.3C360.6,249.6 360.8,247.4 361.0,247.6C361.1,247.8 361.3,250.2 361.5,250.7C361.7,251.2 361.8,250.3 362.0,250.4C362.2,250.5 362.3,252.6 362.5,251.4C362.7,250.2 362.9,244.5 363.0,243.2C363.2,241.9 363.4,243.3 363.6,243.7C363.7,244.1 363.9,244.8 364.1,245.6C364.2,246.4 364.4,248.3 364.6,248.7C364.8,249.0 364.9,248.4 365.1,247.7C365.3,247.0 365.5,243.7 365.6,244.4C365.8,245.2 366.0,251.1 366.1,252.3C366.3,253.6 366.5,253.1 366.7,252.0C366.8,250.9 367.0,246.9 367.2,245.8C367.4,244.6 367.5,244.3 367.7,245.2C367.9,246.1 368.0,248.5 368.2,251.1C368.4,253.7 368.6,260.4 368.7,260.6C368.9,260.9 369.1,252.9 369.3,252.6C369.4,252.3 369.6,258.7 369.8,258.8C369.9,258.9 370.1,253.7 370.3,253.4C370.5,253.1 370.6,257.8 370.8,257.1C371.0,256.3 371.2,249.1 371.3,248.8C371.5,248.4 371.7,255.0 371.8,255.0C372.0,255.0 372.2,248.6 372.4,248.6C372.5,248.6 372.7,252.7 372.9,255.1C373.1,257.5 373.2,262.3 373.4,263.1C373.6,264.0 373.7,261.8 373.9,260.3C374.1,258.8 374.3,254.2 374.4,254.1C374.6,254.0 374.8,259.6 375.0,259.9C375.1,260.2 375.3,257.3 375.5,256.0C375.6,254.8 375.8,252.0 376.0,252.5C376.2,253.0 376.3,257.3 376.5,259.1C376.7,260.9 376.9,264.0 377.0,263.3C377.2,262.6 377.4,254.5 377.5,254.7C377.7,254.8 377.9,264.3 378.1,264.3C378.2,264.4 378.4,256.5 378.6,255.0C378.8,253.5 378.9,255.2 379.1,255.6C379.3,255.9 379.4,256.2 379.6,257.1C379.8,258.0 380.0,259.9 380.1,260.9C380.3,261.8 380.5,262.8 380.7,262.9C380.8,262.9 381.0,261.7 381.2,261.1C381.3,260.6 381.5,260.0 381.7,259.4C381.9,258.8 382.0,257.0 382.2,257.7C382.4,258.5 382.6,264.6 382.7,263.7C382.9,262.8 383.1,251.8 383.2,252.4C383.4,253.0 383.6,265.4 383.8,267.5C383.9,269.6 384.1,265.5 384.3,265.1C384.5,264.7 384.6,265.7 384.8,265.0C385.0,264.2 385.1,261.7 385.3,260.5C385.5,259.3 385.7,257.2 385.8,257.9C386.0,258.6 386.2,263.8 386.4,264.7C386.5,265.6 386.7,263.0 386.9,263.3C387.0,263.6 387.2,267.3 387.4,266.3C387.6,265.4 387.7,257.6 387.9,257.6C388.1,257.5 388.3,265.0 388.4,266.0C388.6,267.0 388.8,264.5 388.9,263.7C389.1,262.9 389.3,260.9 389.5,261.2C389.6,261.6 389.8,263.7 390.0,265.7C390.2,267.8 390.3,274.3 390.5,273.5C390.7,272.6 390.8,261.4 391.0,260.6C391.2,259.9 391.4,267.2 391.5,268.8C391.7,270.4 391.9,271.9 392.1,270.1C392.2,268.3 392.4,259.5 392.6,258.1C392.7,256.7 392.9,259.9 393.1,261.5C393.3,263.2 393.4,267.1 393.6,268.0C393.8,269.0 394.0,267.9 394.1,267.2C394.3,266.5 394.5,263.3 394.6,263.9C394.8,264.5 395.0,271.8 395.2,270.5C395.3,269.2 395.5,257.4 395.7,256.2C395.9,255.0 396.0,261.2 396.2,263.4C396.4,265.5 396.5,268.2 396.7,269.1C396.9,270.0 397.1,269.3 397.2,268.8C397.4,268.2 397.6,265.8 397.8,265.7C397.9,265.5 398.1,267.5 398.3,267.9C398.4,268.4 398.6,267.1 398.8,268.3C399.0,269.5 399.1,274.2 399.3,275.1C399.5,275.9 399.7,274.2 399.8,273.4C400.0,272.6 400.2,270.5 400.3,270.1C400.5,269.7 400.7,270.5 400.9,271.0C401.0,271.5 401.2,274.6 401.4,273.0C401.6,271.5 401.7,262.9 401.9,261.9C402.1,261.0 402.2,265.2 402.4,267.3C402.6,269.3 402.8,273.3 402.9,274.3C403.1,275.4 403.3,273.9 403.5,273.5C403.6,273.0 403.8,273.1 404.0,271.8C404.1,270.4 404.3,265.5 404.5,265.4C404.7,265.3 404.8,269.8 405.0,271.2C405.2,272.5 405.4,272.9 405.5,273.3C405.7,273.6 405.9,273.7 406.0,273.3C406.2,272.8 406.4,271.1 406.6,270.7C406.7,270.4 406.9,268.9 407.1,271.2C407.3,273.4 407.4,284.6 407.6,284.4C407.8,284.1 407.9,271.1 408.1,269.6C408.3,268.0 408.5,275.1 408.6,275.1C408.8,275.0 409.0,269.9 409.2,269.4C409.3,268.8 409.5,271.0 409.7,271.7C409.8,272.5 410.0,272.7 410.2,273.9C410.4,275.1 410.5,278.7 410.7,279.1C410.9,279.4 411.1,276.7 411.2,275.9C411.4,275.2 411.6,273.5 411.7,274.5C411.9,275.6 412.1,281.0 412.3,282.0C412.4,283.0 412.6,280.3 412.8,280.6C413.0,280.8 413.1,285.1 413.3,283.3C413.5,281.5 413.6,271.6 413.8,269.7C414.0,267.8 414.2,270.9 414.3,272.1C414.5,273.4 414.7,276.7 414.9,277.3C415.0,277.9 415.2,275.7 415.4,275.8C415.5,275.9 415.7,277.8 415.9,277.9C416.1,277.9 416.2,274.9 416.4,275.9C416.6,276.8 416.8,282.4 416.9,283.6C417.1,284.9 417.3,285.1 417.4,283.2C417.6,281.4 417.8,273.3 418.0,272.5C418.1,271.7 418.3,275.9 418.5,278.6C418.6,281.2 418.8,286.6 419.0,288.6C419.2,290.6 419.3,292.1 419.5,290.5C419.7,288.9 419.9,281.2 420.0,279.0C420.2,276.8 420.4,277.2 420.5,277.6C420.7,278.0 420.9,281.8 421.1,281.3C421.2,280.8 421.4,273.2 421.6,274.8C421.8,276.3 421.9,290.5 422.1,290.7C422.3,290.9 422.4,277.4 422.6,275.9C422.8,274.3 423.0,279.2 423.1,281.6C423.3,284.0 423.5,289.5 423.7,290.1C423.8,290.8 424.0,285.3 424.2,285.7C424.3,286.1 424.5,292.6 424.7,292.5C424.9,292.3 425.0,286.7 425.2,284.9C425.4,283.0 425.6,282.1 425.7,281.5C425.9,280.8 426.1,280.5 426.2,281.0C426.4,281.5 426.6,283.8 426.8,284.6C426.9,285.5 427.1,285.7 427.3,286.0C427.5,286.2 427.6,285.9 427.8,286.0C428.0,286.1 428.1,284.6 428.3,286.4C428.5,288.2 428.7,295.9 428.8,296.6C429.0,297.3 429.2,292.3 429.4,290.6C429.5,288.9 429.7,288.3 429.9,286.6C430.0,284.8 430.2,281.4 430.4,280.0C430.6,278.7 430.7,277.7 430.9,278.6C431.1,279.4 431.3,282.9 431.4,285.2C431.6,287.5 431.8,291.8 431.9,292.3C432.1,292.7 432.3,289.2 432.5,287.8C432.6,286.4 432.8,285.3 433.0,283.9C433.2,282.5 433.3,277.9 433.5,279.4C433.7,281.0 433.8,292.8 434.0,293.3C434.2,293.8 434.4,283.9 434.5,282.5C434.7,281.1 434.9,283.6 435.1,284.7C435.2,285.9 435.4,289.7 435.6,289.4C435.7,289.0 435.9,283.1 436.1,282.6C436.3,282.1 436.4,285.3 436.6,286.2C436.8,287.2 437.0,286.4 437.1,288.2C437.3,290.0 437.5,297.1 437.6,297.0C437.8,296.8 438.0,288.9 438.2,287.4C438.3,286.0 438.5,286.5 438.7,288.3C438.9,290.2 439.0,295.7 439.2,298.4C439.4,301.1 439.5,306.7 439.7,304.5C439.9,302.4 440.1,287.9 440.2,285.4C440.4,282.9 440.6,289.6 440.8,289.5C440.9,289.3 441.1,283.9 441.3,284.6C441.4,285.3 441.6,292.8 441.8,293.6C442.0,294.4 442.1,288.1 442.3,289.4C442.5,290.8 442.7,298.3 442.8,301.7C443.0,305.1 443.2,311.5 443.3,309.8C443.5,308.2 443.7,295.9 443.9,291.6C444.0,287.3 444.2,285.0 444.4,283.9C444.6,282.8 444.7,283.9 444.9,285.1C445.1,286.3 445.2,289.6 445.4,291.2C445.6,292.8 445.8,293.9 445.9,294.6C446.1,295.3 446.3,294.6 446.5,295.3C446.6,296.0 446.8,299.2 447.0,298.7C447.1,298.2 447.3,292.0 447.5,292.2C447.7,292.3 447.8,298.4 448.0,299.7C448.2,300.9 448.4,300.1 448.5,299.5C448.7,299.0 448.9,296.7 449.0,296.3C449.2,295.9 449.4,298.4 449.6,297.0C449.7,295.7 449.9,288.2 450.1,288.2C450.3,288.3 450.4,296.1 450.6,297.2C450.8,298.2 450.9,295.2 451.1,294.7C451.3,294.2 451.5,291.9 451.6,294.0C451.8,296.0 452.0,306.5 452.2,307.1C452.3,307.8 452.5,300.3 452.7,297.6C452.8,295.0 453.0,291.9 453.2,291.3C453.4,290.6 453.5,293.1 453.7,293.9C453.9,294.7 454.1,295.8 454.2,296.1C454.4,296.4 454.6,293.0 454.7,295.8C454.9,298.6 455.1,309.1 455.3,312.9C455.4,316.7 455.6,319.6 455.8,318.6C456.0,317.5 456.1,308.8 456.3,306.5C456.5,304.2 456.6,305.5 456.8,304.9C457.0,304.3 457.2,302.7 457.3,302.8C457.5,302.9 457.7,305.7 457.9,305.3C458.0,304.8 458.2,301.0 458.4,300.0C458.5,299.0 458.7,300.3 458.9,299.3C459.1,298.3 459.2,294.2 459.4,294.1C459.6,294.0 459.8,296.9 459.9,298.9C460.1,301.0 460.3,304.2 460.4,306.4C460.6,308.6 460.8,312.9 461.0,312.1C461.1,311.2 461.3,302.3 461.5,301.2C461.7,300.1 461.8,306.1 462.0,305.5C462.2,305.0 462.3,298.9 462.5,297.7C462.7,296.5 462.9,297.3 463.0,298.3C463.2,299.4 463.4,303.8 463.6,304.0C463.7,304.2 463.9,299.7 464.1,299.6C464.2,299.5 464.4,303.1 464.6,303.2C464.8,303.4 464.9,300.8 465.1,300.3C465.3,299.8 465.5,301.1 465.6,300.5C465.8,299.8 466.0,294.7 466.1,296.4C466.3,298.1 466.5,308.7 466.7,310.8C466.8,312.9 467.0,308.0 467.2,309.1C467.4,310.2 467.5,315.6 467.7,317.4C467.9,319.1 468.0,321.7 468.2,319.6C468.4,317.4 468.6,305.1 468.7,304.5C468.9,303.8 469.1,315.1 469.3,315.6C469.4,316.2 469.6,310.4 469.8,307.7C469.9,305.0 470.1,297.3 470.3,299.5C470.5,301.8 470.6,319.1 470.8,321.1C471.0,323.1 471.2,315.6 471.3,311.3C471.5,307.0 471.7,292.4 471.8,295.0C472.0,297.7 472.2,322.4 472.4,327.3C472.5,331.3 472.7,328.7 472.9,324.5C473.1,320.3 473.2,302.2 473.4,302.0C473.6,301.8 473.7,323.2 473.9,323.2C474.1,323.1 474.3,303.0 474.4,301.7C474.6,300.4 474.8,314.6 475.0,315.5C475.1,316.4 475.3,308.3 475.5,307.1C475.6,306.0 475.8,307.0 476.0,308.5C476.2,310.0 476.3,317.9 476.5,316.2C476.7,314.4 476.8,298.9 477.0,297.9C477.2,296.8 477.4,307.5 477.5,309.7C477.7,311.8 477.9,310.7 478.1,310.6C478.2,310.4 478.4,306.9 478.6,308.8C478.7,310.7 478.9,321.4 479.1,321.8C479.3,322.1 479.4,312.5 479.6,310.9C479.8,309.3 480.0,310.0 480.1,312.3C480.3,314.6 480.5,324.5 480.6,324.9C480.8,325.3 481.0,317.9 481.2,314.7C481.3,311.5 481.5,307.0 481.7,305.7C481.9,304.3 482.0,301.7 482.2,306.6C482.4,311.6 482.5,332.3 482.7,335.4C482.9,338.6 483.1,330.0 483.2,325.7C483.4,321.4 483.6,312.7 483.8,309.8C483.9,306.8 484.1,310.2 484.3,308.1C484.4,306.0 484.6,298.2 484.8,297.0C485.0,295.7 485.1,296.4 485.3,300.6C485.5,304.8 485.7,317.3 485.8,322.0C486.0,326.7 486.2,329.2 486.3,328.6C486.5,328.1 486.7,323.1 486.9,318.8C487.0,314.5 487.2,306.3 487.4,303.0C487.6,299.7 487.7,295.5 487.9,299.1C488.1,302.8 488.2,321.9 488.4,325.0C488.6,328.0 488.8,318.7 488.9,317.3C489.1,316.0 489.3,317.3 489.5,316.8C489.6,316.2 489.8,313.0 490.0,314.2C490.1,315.3 490.3,324.1 490.5,323.7C490.7,323.3 490.8,312.2 491.0,311.9C491.2,311.6 491.4,322.5 491.5,321.8C491.7,321.1 491.9,308.4 492.0,307.5C492.2,306.7 492.4,316.8 492.6,316.6C492.7,316.4 492.9,302.7 493.1,306.3C493.3,309.9 493.4,337.7 493.6,338.1C493.8,338.6 493.9,312.0 494.1,308.9C494.3,305.8 494.5,316.4 494.6,319.5C494.8,322.6 495.0,326.8 495.2,327.5C495.3,328.3 495.5,323.4 495.7,324.0C495.8,324.6 496.0,331.5 496.2,331.3C496.4,331.0 496.5,323.6 496.7,322.3C496.9,321.0 497.1,323.6 497.2,323.4C497.4,323.3 497.6,321.0 497.7,321.3C497.9,321.6 498.1,325.9 498.3,325.3C498.4,324.7 498.6,316.7 498.8,317.8C499.0,318.9 499.1,330.3 499.3,332.2C499.5,334.0 499.6,328.8 499.8,329.0C500.0,329.2 500.2,333.0 500.3,333.5C500.5,333.9 500.7,331.5 500.9,331.9C501.0,332.3 501.2,337.4 501.4,335.9C501.5,334.4 501.7,326.4 501.9,323.1C502.1,319.8 502.2,315.8 502.4,316.0C502.6,316.2 502.8,324.7 502.9,324.1C503.1,323.5 503.3,310.2 503.4,312.5C503.6,314.9 503.8,335.7 504.0,338.2C504.1,340.7 504.3,329.7 504.5,327.5C504.7,325.3 504.8,324.0 505.0,325.1C505.2,326.1 505.3,335.3 505.5,333.7C505.7,332.0 505.9,314.3 506.0,315.2C506.2,316.1 506.4,336.7 506.6,339.1C506.7,341.5 506.9,330.3 507.1,329.4C507.2,328.6 507.4,333.2 507.6,334.0C507.8,334.9 507.9,335.9 508.1,334.7C508.3,333.5 508.5,323.5 508.6,327.0C508.8,330.6 509.0,353.8 509.1,356.1C509.3,358.3 509.5,344.7 509.7,340.6C509.8,336.6 510.0,332.7 510.2,331.9C510.4,331.1 510.5,336.8 510.7,336.0C510.9,335.2 511.0,329.7 511.2,327.0C511.4,324.2 511.6,317.8 511.7,319.4C511.9,321.0 512.1,337.9 512.3,336.5C512.4,335.0 512.6,311.5 512.8,310.6C512.9,309.8 513.1,328.3 513.3,331.4C513.5,334.4 513.6,330.3 513.8,328.8C514.0,327.3 514.2,321.1 514.3,322.4C514.5,323.7 514.7,332.7 514.8,336.4C515.0,340.2 515.2,345.3 515.4,345.1C515.5,344.9 515.7,336.2 515.9,335.4C516.1,334.7 516.2,337.3 516.4,340.6C516.6,343.9 516.7,357.4 516.9,355.0C517.1,352.7 517.3,326.5 517.4,326.4C517.6,326.3 517.8,351.8 518.0,354.5C518.1,357.2 518.3,345.2 518.5,342.5C518.6,339.8 518.8,338.7 519.0,338.4C519.2,338.2 519.3,342.8 519.5,341.2C519.7,339.6 519.9,330.4 520.0,328.7C520.2,326.9 520.4,329.2 520.5,330.8C520.7,332.4 520.9,333.5 521.1,338.3C521.2,343.1 521.4,359.1 521.6,359.8C521.8,360.5 521.9,348.5 522.1,342.6C522.3,336.7 522.4,327.0 522.6,324.3C522.8,321.6 523.0,323.8 523.1,326.3C523.3,328.8 523.5,338.8 523.7,339.3C523.8,339.9 524.0,331.1 524.2,329.5C524.3,328.0 524.5,327.9 524.7,330.0C524.9,332.0 525.0,339.8 525.2,341.7C525.4,343.5 525.6,342.5 525.7,341.0C525.9,339.6 526.1,334.6 526.2,333.2C526.4,331.7 526.6,332.3 526.8,332.2C526.9,332.0 527.1,330.9 527.3,332.2C527.5,333.5 527.6,339.4 527.8,340.0C528.0,340.5 528.1,335.6 528.3,335.5C528.5,335.4 528.7,338.7 528.8,339.2C529.0,339.7 529.2,339.4 529.4,338.5C529.5,337.6 529.7,330.1 529.9,333.9C530.0,337.7 530.2,363.0 530.4,361.3C530.6,359.7 530.7,328.8 530.9,324.0C531.1,320.0 531.3,328.2 531.4,332.4C531.6,336.6 531.8,348.2 531.9,349.2C532.1,350.1 532.3,338.9 532.5,338.0C532.6,337.2 532.8,343.1 533.0,344.1C533.2,345.2 533.3,344.7 533.5,344.3C533.7,343.9 533.8,344.2 534.0,341.7C534.2,339.3 534.4,327.9 534.5,329.8C534.7,331.6 534.9,353.3 535.0,353.0C535.2,352.6 535.4,331.6 535.6,327.7C535.7,323.7 535.9,324.1 536.1,329.3C536.3,334.4 536.4,356.9 536.6,358.5C536.8,360.1 536.9,341.4 537.1,338.6C537.3,335.9 537.5,340.7 537.6,342.1C537.8,343.6 538.0,349.2 538.2,347.3C538.3,345.4 538.5,329.7 538.7,330.9C538.8,332.0 539.0,353.9 539.2,354.0C539.4,354.2 539.5,332.9 539.7,331.6C539.9,330.3 540.1,346.4 540.2,346.3C540.4,346.2 540.6,328.2 540.7,331.0C540.9,333.7 541.1,359.4 541.3,362.9C541.4,366.3 541.6,357.2 541.8,351.8C542.0,346.5 542.1,331.4 542.3,330.9C542.5,330.3 542.6,347.5 542.8,348.5C543.0,349.5 543.2,339.1 543.3,337.0C543.5,334.8 543.7,336.2 543.9,335.6C544.0,335.0 544.2,330.4 544.4,333.3C544.5,336.3 544.7,355.9 544.9,353.3C545.1,350.7 545.2,319.0 545.4,317.7C545.6,316.5 545.8,343.9 545.9,345.7C546.1,347.5 546.3,327.3 546.4,328.4C546.6,329.5 546.8,349.0 547.0,352.2C547.1,355.5 547.3,350.9 547.5,348.1C547.7,345.4 547.8,339.7 548.0,335.8C548.2,331.9 548.3,328.3 548.5,324.6C548.7,321.0 548.9,310.0 549.0,314.0C549.2,319.2 549.4,354.1 549.6,355.9C549.7,357.8 549.9,324.0 550.1,325.0C550.3,325.9 550.6,358.7 550.9,361.5C551.1,364.3 551.4,345.3 551.6,341.8C551.9,338.3 552.1,338.8 552.4,340.4C552.7,341.9 552.9,350.1 553.2,351.0C553.4,351.9 553.7,347.5 554.0,345.7C554.2,344.0 554.5,340.4 554.7,340.4C555.0,340.4 555.3,345.4 555.5,345.5C555.8,345.7 556.0,341.6 556.3,341.2C556.6,340.8 556.8,341.6 557.1,343.1C557.3,344.6 557.6,350.1 557.8,350.3C558.1,350.5 558.4,345.5 558.6,344.4C558.9,343.2 559.1,343.8 559.4,343.4C559.7,342.9 559.9,341.6 560.2,341.5C560.4,341.4 560.7,338.3 561.0,342.8C561.2,347.2 561.5,363.6 561.7,368.3C562.0,372.9 562.3,374.7 562.5,370.7C562.8,364.9 563.0,335.7 563.3,333.7C563.5,331.6 563.8,356.5 564.1,358.4C564.3,360.3 564.6,346.7 564.8,345.1C565.1,343.5 565.4,347.7 565.6,348.7C565.9,349.7 566.1,348.2 566.4,351.2C566.7,354.2 566.9,369.9 567.2,366.6C567.4,363.3 567.7,332.6 567.9,331.4C568.2,330.2 568.5,358.5 568.7,359.6C569.0,360.6 569.2,340.4 569.5,337.9C569.8,335.4 570.0,341.4 570.3,344.6C570.5,347.8 570.8,355.5 571.1,357.3C571.3,359.2 571.6,357.3 571.8,355.8C572.1,354.4 572.4,350.4 572.6,348.7C572.9,347.0 573.1,347.2 573.4,345.7C573.6,344.2 573.9,339.4 574.2,339.6C574.4,339.8 574.7,344.6 574.9,346.9C575.2,349.1 575.5,351.1 575.7,352.9C576.0,354.8 576.2,357.1 576.5,358.2C576.8,359.3 577.0,359.2 577.3,359.4C577.5,359.7 577.8,358.4 578.1,359.5C578.3,360.7 578.6,366.4 578.8,366.6C579.1,366.8 579.3,363.7 579.6,360.5C579.9,357.4 580.1,350.3 580.4,347.6C580.6,345.0 580.9,343.6 581.2,344.7C581.4,345.9 581.7,355.4 581.9,354.3C582.2,353.2 582.5,337.0 582.7,338.1C583.0,339.1 583.2,361.3 583.5,360.7C583.8,360.1 584.0,335.2 584.3,334.4C584.5,333.7 584.8,351.5 585.0,355.9C585.3,360.3 585.6,359.3 585.8,360.6C586.1,362.0 586.3,367.1 586.6,363.8C586.9,360.5 587.1,342.9 587.4,340.9C587.6,338.8 587.9,349.7 588.2,351.7C588.4,353.7 588.7,353.4 588.9,352.6C589.2,351.9 589.5,348.9 589.7,347.0C590.0,345.1 590.2,338.9 590.5,341.0C590.7,343.1 591.0,358.1 591.3,359.7C591.5,361.2 591.8,350.6 592.0,350.4C592.3,350.2 592.6,358.5 592.8,358.3C593.1,358.1 593.3,347.6 593.6,349.2C593.9,350.9 594.1,366.3 594.4,368.1C594.6,369.8 594.9,361.7 595.1,359.7C595.4,357.7 595.7,357.1 595.9,356.3C596.2,355.5 596.4,357.2 596.7,354.9C597.0,352.6 597.2,343.2 597.5,342.4C597.7,341.7 598.0,347.5 598.3,350.6C598.5,353.7 598.8,361.2 599.0,360.9C599.3,360.5 599.6,349.6 599.8,348.8C600.1,347.9 600.3,353.7 600.6,355.6C600.8,357.6 601.1,359.1 601.4,360.3C601.6,361.5 601.9,362.2 602.1,363.0C602.4,363.7 602.7,362.8 602.9,364.9C603.2,367.0 603.4,373.1 603.7,375.5C604.0,377.9 604.2,383.5 604.5,379.5C604.7,373.8 605.0,346.4 605.3,341.6C605.5,337.6 605.8,348.0 606.0,350.9C606.3,353.9 606.5,360.4 606.8,359.4C607.1,358.5 607.3,343.7 607.6,345.3C607.8,347.0 608.1,364.4 608.4,369.2C608.6,374.0 608.9,377.2 609.1,374.1C609.4,371.0 609.7,356.4 609.9,350.6C610.2,344.7 610.4,336.5 610.7,339.1C611.0,341.7 611.2,363.5 611.5,366.0C611.7,368.6 612.0,353.6 612.2,354.5C612.5,355.5 612.8,365.7 613.0,371.8C613.3,377.9 613.5,394.2 613.8,391.0C614.1,387.8 614.3,356.1 614.6,352.4C614.8,348.7 615.1,369.9 615.4,368.9C615.6,368.0 615.9,348.1 616.1,346.7C616.4,345.3 616.7,358.5 616.9,360.6C617.2,362.8 617.4,359.9 617.7,359.6C617.9,359.3 618.2,362.7 618.5,359.0C618.7,355.2 619.0,333.2 619.2,337.1C619.5,341.1 619.8,381.1 620.0,382.7C620.3,384.3 620.5,349.2 620.8,346.8C621.1,344.4 621.3,370.3 621.6,368.5C621.8,366.6 622.1,332.1 622.3,335.7C622.6,339.2 622.9,386.4 623.1,389.8C623.4,393.1 623.6,360.9 623.9,355.9C624.2,351.9 624.4,357.9 624.7,359.6C624.9,361.4 625.2,366.2 625.5,366.4C625.7,366.7 626.0,360.4 626.2,361.1C626.5,361.8 626.8,370.9 627.0,370.4C627.3,370.0 627.5,359.9 627.8,358.3C628.0,356.7 628.3,358.9 628.6,360.7C628.8,362.5 629.1,370.0 629.3,369.1C629.6,368.1 629.9,357.4 630.1,354.9C630.4,352.3 630.6,353.0 630.9,353.9C631.2,354.9 631.4,359.1 631.7,360.7C631.9,362.2 632.2,363.0 632.5,363.3C632.7,363.6 633.0,358.4 633.2,362.4C633.5,384.8 633.7,498.6 634.0,497.8C634.3,497.1 634.5,381.5 634.8,357.9C635.0,352.3 635.3,353.1 635.6,356.3C635.8,359.4 636.1,378.4 636.3,376.8C636.6,375.1 636.9,350.6 637.1,346.4C637.4,342.4 637.6,350.9 637.9,351.7C638.2,352.5 638.4,350.1 638.7,351.3C638.9,352.6 639.2,360.8 639.4,359.4C639.7,358.1 640.0,342.7 640.2,343.0C640.5,343.4 640.7,358.5 641.0,361.5C641.3,364.5 641.5,360.2 641.8,360.9C642.0,361.7 642.3,366.5 642.6,366.1C642.8,365.7 643.1,356.5 643.3,358.3C643.6,360.2 643.9,375.0 644.1,377.3C644.4,379.6 644.6,373.5 644.9,372.1C645.1,370.7 645.4,369.8 645.7,368.9C645.9,368.0 646.2,370.4 646.4,366.7C646.7,363.1 647.0,346.1 647.2,347.1C647.5,348.1 647.7,368.4 648.0,372.8C648.3,377.0 648.5,375.3 648.8,373.0C649.0,370.7 649.3,357.9 649.5,358.7C649.8,359.6 650.1,375.2 650.3,378.0C650.6,380.9 650.8,377.3 651.1,375.7C651.4,374.2 651.6,371.0 651.9,368.8C652.1,366.6 652.4,361.5 652.7,362.5C652.9,363.5 653.2,374.4 653.4,375.1C653.7,375.8 654.0,368.8 654.2,366.6C654.5,364.5 654.7,362.5 655.0,362.1C655.2,361.8 655.5,361.2 655.8,364.5C656.0,367.7 656.3,360.5 656.5,381.4C656.8,403.6 657.1,495.9 657.3,497.8C657.6,499.8 657.8,417.7 658.1,393.3C658.4,368.8 658.6,353.4 658.9,351.4C659.1,349.3 659.4,373.3 659.7,381.0C659.9,388.6 660.2,398.5 660.4,397.1C660.7,395.6 660.9,378.3 661.2,372.1C661.5,365.8 661.7,357.7 662.0,359.6C662.2,361.5 662.5,381.0 662.8,383.6C663.0,386.2 663.3,380.0 663.5,375.1C663.8,370.2 664.1,356.0 664.3,354.2C664.6,352.4 664.8,360.2 665.1,364.3C665.4,368.3 665.6,378.5 665.9,378.4C666.1,378.4 666.4,363.6 666.6,363.9C666.9,364.1 667.2,378.4 667.4,380.0C667.7,381.5 667.9,371.9 668.2,373.1C668.5,374.4 668.7,391.1 669.0,387.3C669.2,383.6 669.5,357.4 669.8,350.7C670.0,344.0 670.3,343.3 670.5,347.3C670.8,351.5 671.1,374.4 671.3,375.6C671.6,376.9 671.8,357.9 672.1,354.7C672.3,351.5 672.6,356.6 672.9,356.5C673.1,356.3 673.4,353.6 673.6,353.9C673.9,354.1 674.2,354.8 674.4,357.7C674.7,360.7 674.9,370.5 675.2,371.6C675.5,372.6 675.7,360.8 676.0,364.0C676.2,367.2 676.5,384.6 676.8,390.9C677.0,397.1 677.3,405.4 677.5,401.4C677.8,397.4 678.0,372.9 678.3,366.9C678.6,361.2 678.8,366.2 679.1,365.2C679.3,364.1 679.6,356.6 679.9,360.6C680.1,366.3 680.4,395.5 680.6,399.2C680.9,402.9 681.2,387.8 681.4,383.0C681.7,378.2 681.9,372.5 682.2,370.4C682.4,368.3 682.7,371.4 683.0,370.3C683.2,369.2 683.5,365.9 683.7,363.9C684.0,361.9 684.3,355.9 684.5,358.2C684.8,360.5 685.0,376.5 685.3,377.6C685.6,378.7 685.8,367.3 686.1,365.0C686.3,362.8 686.6,363.1 686.9,363.9C687.1,364.7 687.4,369.5 687.6,369.7C687.9,369.9 688.1,368.3 688.4,365.1C688.7,362.0 688.9,351.1 689.2,350.8C689.4,350.5 689.7,358.4 690.0,363.3C690.2,368.2 690.5,379.5 690.7,380.1C691.0,380.7 691.3,366.7 691.5,366.9C691.8,367.0 692.0,377.4 692.3,380.9C692.6,384.4 692.8,391.2 693.1,388.0C693.3,384.7 693.6,365.4 693.8,361.4C694.1,357.4 694.4,363.7 694.6,363.9C694.9,364.0 695.1,358.2 695.4,362.2C695.7,369.3 695.9,401.9 696.2,405.9C696.4,409.9 696.7,390.1 697.0,386.2C697.2,382.4 697.5,386.9 697.7,382.8C698.0,378.7 698.3,361.8 698.5,361.6C698.8,361.5 699.0,380.0 699.3,381.9C699.5,383.8 699.8,376.4 700.1,373.1C700.4,369.9 700.8,361.6 701.1,362.3C701.4,363.1 701.8,363.1 702.1,377.6C702.5,392.1 702.8,451.3 703.2,449.2C703.5,447.1 703.9,378.9 704.2,364.9C704.6,360.9 704.9,363.7 705.2,365.1C705.6,366.5 705.9,370.4 706.3,373.3C706.6,376.2 707.0,373.8 707.3,382.8C707.7,391.7 708.0,419.1 708.4,427.0C708.7,434.1 709.0,434.1 709.4,430.1C709.7,421.5 710.1,385.3 710.4,375.1C710.8,364.8 711.1,366.9 711.5,368.4C711.8,370.0 712.2,384.1 712.5,384.2C712.8,384.2 713.2,370.6 713.5,368.9C713.9,367.2 714.2,373.4 714.6,374.0C714.9,374.7 715.3,371.7 715.6,373.0C716.0,374.2 716.3,382.9 716.6,381.7C717.0,380.5 717.3,368.7 717.7,365.8C718.0,362.9 718.4,360.2 718.7,364.2C719.1,371.1 719.4,405.6 719.8,407.0C720.1,408.4 720.4,372.9 720.8,372.6C721.1,372.3 721.5,401.7 721.8,405.2C722.2,408.8 722.5,398.6 722.9,393.9C723.2,389.3 723.6,380.2 723.9,377.3C724.2,374.3 724.6,378.0 724.9,376.4C725.3,374.8 725.6,368.7 726.0,367.4C726.3,366.2 726.7,363.6 727.0,369.1C727.4,374.5 727.7,392.8 728.0,400.2C728.4,407.6 728.7,417.4 729.1,413.4C729.4,407.1 729.8,367.1 730.1,362.0C730.5,358.0 730.8,381.4 731.2,382.9C731.5,384.3 731.8,374.5 732.2,370.6C732.5,366.6 732.9,359.3 733.2,359.0C733.6,358.7 733.9,365.8 734.3,368.8C734.6,371.8 735.0,367.6 735.3,377.1C735.6,386.7 736.0,426.4 736.3,426.0C736.7,425.6 737.0,374.8 737.4,374.7C737.7,374.6 738.1,424.0 738.4,425.4C738.7,426.8 739.1,389.8 739.4,383.1C739.8,379.1 740.1,385.5 740.5,385.0C740.8,384.4 741.2,375.6 741.5,379.6C741.9,391.7 742.2,449.1 742.5,457.4C742.9,461.4 743.2,442.6 743.6,429.4C743.9,416.2 744.3,382.7 744.6,378.0C745.0,374.0 745.3,397.0 745.7,400.8C746.0,404.7 746.3,397.7 746.7,400.9C747.0,404.1 747.4,424.0 747.7,420.0C748.1,415.9 748.4,383.2 748.8,376.7C749.1,372.7 749.5,383.9 749.8,380.7C750.1,377.5 750.5,359.4 750.8,357.6C751.2,355.7 751.5,368.0 751.9,369.5C752.2,371.0 752.6,362.4 752.9,366.4C753.3,374.1 753.6,413.1 753.9,415.8C754.3,418.6 754.6,384.9 755.0,382.7C755.3,380.5 755.7,398.1 756.0,402.6C756.4,407.1 756.7,413.6 757.1,409.6C757.4,405.6 757.7,378.8 758.1,378.4C758.4,378.1 758.8,404.8 759.1,407.4C759.5,410.1 759.8,391.6 760.2,394.3C760.5,397.1 760.9,421.8 761.2,424.0C761.5,426.2 761.9,418.3 762.2,407.4C762.6,396.5 762.9,367.8 763.3,358.5C763.6,349.2 764.0,347.5 764.3,351.5C764.7,364.6 765.0,422.4 765.3,437.1C765.7,443.8 766.0,443.8 766.4,439.8C766.7,429.2 767.1,384.9 767.4,373.7C767.8,368.5 768.1,369.8 768.5,372.5C768.8,375.2 769.1,386.8 769.5,389.7C769.8,392.5 770.2,388.4 770.5,389.7C770.9,390.9 771.2,394.7 771.6,397.1C771.9,399.5 772.3,405.9 772.6,404.2C772.9,402.5 773.3,387.6 773.6,386.9C774.0,386.1 774.3,397.6 774.7,399.6C775.0,401.7 775.4,400.5 775.7,399.1C776.1,397.7 776.4,396.0 776.7,391.1C777.1,386.3 777.4,369.8 777.8,369.9C778.1,370.0 778.5,383.3 778.8,391.6C779.2,399.8 779.5,394.9 779.9,419.4C780.2,443.8 780.5,530.4 780.9,538.2C781.2,542.2 781.6,484.7 781.9,466.0C782.3,447.4 782.6,438.4 783.0,426.0C783.3,413.7 783.7,400.9 784.0,392.0C784.3,383.1 784.7,370.8 785.0,372.6C785.4,374.3 785.7,403.3 786.1,402.5C786.4,401.8 786.8,364.0 787.1,368.0C787.5,378.2 787.8,456.2 788.1,464.0C788.5,468.0 788.8,428.5 789.2,414.7C789.5,400.9 789.9,386.7 790.2,381.3C790.6,377.3 790.9,377.3 791.3,381.8C791.6,393.5 791.9,449.4 792.3,451.1C792.6,452.8 793.0,401.9 793.3,391.9C793.7,387.3 794.0,391.0 794.4,391.3C794.7,391.6 795.0,387.3 795.4,393.7C795.7,402.1 796.1,436.2 796.4,441.7C796.8,445.7 797.1,439.5 797.5,426.9C797.8,414.4 798.2,373.4 798.5,366.5C798.8,362.5 799.2,384.9 799.5,385.8C799.9,386.6 800.2,373.5 800.6,371.5C800.9,369.4 801.3,369.4 801.6,373.4C802.0,377.4 802.3,397.3 802.6,395.3C803.0,393.3 803.3,364.3 803.7,361.4C804.0,358.5 804.4,372.9 804.7,377.9C805.1,382.9 805.4,378.2 805.8,391.4C806.1,404.7 806.4,458.3 806.8,457.4C807.1,456.5 807.5,397.5 807.8,386.1C808.2,382.1 808.5,391.2 808.9,389.2C809.2,387.1 809.6,380.6 809.9,373.8C810.2,366.9 810.6,344.1 810.9,348.1C811.3,354.0 811.6,400.9 812.0,409.0C812.3,413.0 812.7,402.5 813.0,396.6C813.4,390.6 813.7,371.4 814.0,373.5C814.4,375.6 814.7,407.4 815.1,409.3C815.4,411.1 815.8,389.4 816.1,384.8C816.5,380.2 816.8,380.3 817.2,381.6C817.5,382.9 817.8,394.1 818.2,392.7C818.5,391.3 818.9,376.1 819.2,373.0C819.6,369.8 819.9,371.2 820.3,373.9C820.6,376.7 821.0,382.8 821.3,389.6C821.6,396.4 822.0,409.0 822.3,414.6C822.7,420.1 823.0,421.8 823.4,422.8C823.7,423.7 824.1,426.8 824.4,420.3C824.8,411.8 825.1,379.6 825.4,371.6C825.8,367.6 826.1,367.6 826.5,372.3C826.8,380.6 827.2,420.6 827.5,421.7C827.9,422.8 828.2,384.2 828.6,378.9C828.9,374.9 829.2,385.3 829.6,390.0C829.9,394.6 830.3,406.0 830.6,406.8C831.0,407.7 831.3,395.0 831.7,395.2C832.0,395.4 832.4,406.5 832.7,407.9C833.0,409.4 833.4,399.8 833.7,403.8C834.1,407.9 834.4,436.0 834.8,432.2C835.1,428.4 835.5,381.9 835.8,380.9C836.2,379.9 836.5,425.6 836.8,426.3C837.2,426.9 837.5,388.8 837.9,384.8C838.2,380.8 838.6,400.0 838.9,402.1C839.3,404.1 839.6,395.1 840.0,397.1C840.3,399.1 840.6,409.4 841.0,414.2C841.3,419.0 841.7,428.6 842.0,425.8C842.4,423.0 842.7,406.0 843.1,397.4C843.4,388.7 843.8,377.9 844.1,373.9C844.4,369.8 844.8,371.0 845.1,373.1C845.5,375.3 845.8,386.3 846.2,387.0C846.5,387.7 846.9,374.6 847.2,377.3C847.6,380.1 847.9,397.6 848.2,403.3C848.6,409.0 848.9,415.3 849.3,411.3C849.6,405.9 850.0,374.1 850.3,370.8C850.7,367.6 851.0,377.1 851.3,391.6C851.7,406.1 852.2,446.9 852.4,457.9"/>
<path stroke="#000" stroke-width="3" d="M237.5,46.5 L237.9,50.0 L238.4,53.5 L238.8,57.0 L239.2,60.5 L239.6,64.0 L240.1,67.5 L240.5,71.0 L240.9,74.4 L241.4,77.8 L241.8,81.2 L242.2,84.6 L242.7,88.0 L243.1,91.4 L243.5,94.7 L244.0,98.0 L244.4,101.3 L244.8,104.5 L245.3,107.8 L245.7,111.0 L246.1,114.1 L246.6,117.3 L247.0,120.4 L247.4,123.5 L247.8,126.5 L248.3,129.6 L248.7,132.5 L249.1,135.5 L249.6,138.4 L250.0,141.2 L250.4,144.1 L250.9,146.8 L251.3,149.6 L251.7,152.3 L252.2,154.9 L252.6,157.5 L253.0,160.1 L253.5,162.6 L253.9,165.0 L254.3,167.4 L254.8,169.8 L255.2,172.1 L255.6,174.3 L256.1,176.5 L256.5,178.6 L256.9,180.7 L257.3,182.8 L257.8,184.7 L258.2,186.7 L258.6,188.6 L259.1,190.4 L259.5,192.2 L259.9,193.9 L260.4,195.5 L260.8,197.2 L261.2,198.7 L261.7,200.3 L262.1,201.7 L262.5,203.2 L263.0,204.6 L263.4,205.9 L263.8,207.2 L264.3,208.5 L264.7,209.7 L265.1,210.9 L265.6,212.0 L266.0,213.1 L266.4,214.2 L266.8,215.2 L267.3,216.3 L267.7,217.2 L268.1,218.2 L268.6,219.1 L269.0,220.0 L269.4,220.9 L269.9,221.7 L270.3,222.5 L270.7,223.3 L271.2,224.1 L271.6,224.8 L272.0,225.6 L272.5,226.3 L272.9,227.0 L273.3,227.7 L273.8,228.3 L274.2,229.0 L274.6,229.6 L275.0,230.2 L275.5,230.8 L275.9,231.4 L276.3,232.0 L276.8,232.6 L277.2,233.2 L277.6,233.7 L278.1,234.3 L278.5,234.8 L278.9,235.3 L279.4,235.8 L279.8,236.4 L280.2,236.9 L280.7,237.4 L281.1,237.9 L281.5,238.3 L282.0,238.8 L282.4,239.3 L282.8,239.8 L283.3,240.3 L283.7,240.7 L284.1,241.2 L284.5,241.6 L285.0,242.1 L285.4,242.5 L285.8,243.0 L286.3,243.4 L286.7,243.9 L287.1,244.3 L287.6,244.8 L288.0,245.2 L288.4,245.6 L288.9,246.1 L289.3,246.5 L289.7,246.9 L290.2,247.3 L290.6,247.8 L291.0,248.2 L291.5,248.6 L291.9,249.0 L292.3,249.4 L292.8,249.9 L293.2,250.3 L293.6,250.7 L294.0,251.1 L294.5,251.5 L294.9,251.9 L295.3,252.4 L295.8,252.8 L296.2,253.2 L296.6,253.6 L297.1,254.0 L297.5,254.4 L297.9,254.8 L298.4,255.2 L298.8,255.6 L299.2,256.0 L299.7,256.4 L300.1,256.9 L300.5,257.3 L301.0,257.7 L301.4,258.1 L301.8,258.5 L302.3,258.9 L302.7,259.3 L303.1,259.7 L303.5,260.1 L304.0,260.5 L304.4,260.9 L304.8,261.3 L305.3,261.7 L305.7,262.1 L306.1,262.5 L306.6,262.9 L307.0,263.3 L307.4,263.7 L307.9,264.1 L308.3,264.5 L308.7,264.9 L309.2,265.3 L309.6,265.7 L310.0,266.1 L310.5,266.5 L310.9,266.9 L311.3,267.3 L311.7,267.8 L312.2,268.2 L312.6,268.6 L313.0,269.0 L313.5,269.4 L313.9,269.8 L314.3,270.2 L314.8,270.6 L315.2,271.0 L315.6,271.4 L316.1,271.8 L316.5,272.2 L316.9,272.6 L317.4,273.0 L317.8,273.4 L318.2,273.8 L318.7,274.2 L319.1,274.6 L319.5,275.0 L320.0,275.4 L320.4,275.8 L320.8,276.2 L321.2,276.6 L321.7,277.0 L322.1,277.4 L322.5,277.8 L323.0,278.2 L323.4,278.6 L323.8,279.0 L324.3,279.4 L324.7,279.8 L325.1,280.2 L325.6,280.6 L326.0,281.0 L326.4,281.4 L326.9,281.8 L327.3,282.2 L327.7,282.6 L328.2,283.0 L328.6,283.4 L329.0,283.8 L329.5,284.2 L329.9,284.6 L330.3,285.0 L330.7,285.4 L331.2,285.8 L331.6,286.2 L332.0,286.6 L332.5,287.0 L332.9,287.4 L333.3,287.8 L333.8,288.2 L334.2,288.6 L334.6,289.0 L335.1,289.4 L335.5,289.8 L335.9,290.2 L336.4,290.6 L336.8,291.0 L337.2,291.4 L337.7,291.8 L338.1,292.2 L338.5,292.6 L338.9,293.0 L339.4,293.4 L339.8,293.8 L340.2,294.2 L340.7,294.6 L341.1,295.0 L341.5,295.4 L342.0,295.8 L342.4,296.2 L342.8,296.6 L343.3,297.0 L343.7,297.4 L344.1,297.8 L344.6,298.2 L345.0,298.6 L345.4,299.0 L345.9,299.4 L346.3,299.8 L346.7,300.2 L347.2,300.6 L347.6,301.0 L348.0,301.4 L348.4,301.8 L348.9,302.2 L349.3,302.6 L349.7,303.0 L350.2,303.4 L350.6,303.8 L351.0,304.2 L351.5,304.6 L351.9,305.0 L352.3,305.4 L352.8,305.9 L353.2,306.3 L353.6,306.7 L354.1,307.1 L354.5,307.5 L354.9,307.9 L355.4,308.3 L355.8,308.7 L356.2,309.1 L356.7,309.5 L357.1,309.9 L357.5,310.3 L357.9,310.7 L358.4,311.1 L358.8,311.5 L359.2,311.9 L359.7,312.3 L360.1,312.7 L360.5,313.1 L361.0,313.5 L361.4,313.9 L361.8,314.3 L362.3,314.7 L362.7,315.1 L363.1,315.5 L363.6,315.9 L364.0,316.3 L364.4,316.7 L364.9,317.1 L365.3,317.5 L365.7,317.9 L366.1,318.3 L366.6,318.7 L367.0,319.1 L367.4,319.5 L367.9,319.9 L368.3,320.3 L368.7,320.7 L369.2,321.1 L369.6,321.5 L370.0,321.9 L370.5,322.3 L370.9,322.7 L371.3,323.1 L371.8,323.5 L372.2,323.9 L372.6,324.3 L373.1,324.7 L373.5,325.1 L373.9,325.5 L374.4,325.9 L374.8,326.3 L375.2,326.7 L375.6,327.1 L376.1,327.5 L376.5,327.9 L376.9,328.3 L377.4,328.7 L377.8,329.1 L378.2,329.5 L378.7,329.9 L379.1,330.3 L379.5,330.7 L380.0,331.1 L380.4,331.5 L380.8,331.9 L381.3,332.3 L381.7,332.7 L382.1,333.1 L382.6,333.5 L383.0,333.9 L383.4,334.3 L383.9,334.7 L384.3,335.1 L384.7,335.5 L385.1,335.9 L385.6,336.3 L386.0,336.7 L386.4,337.1 L386.9,337.5 L387.3,337.9 L387.7,338.3 L388.2,338.7 L388.6,339.1 L389.0,339.5 L389.5,339.9 L389.9,340.3 L390.3,340.7 L390.8,341.1 L391.2,341.5 L391.6,341.9 L392.1,342.3 L392.5,342.7 L392.9,343.1 L393.3,343.5 L393.8,343.9 L394.2,344.3 L394.6,344.7 L395.1,345.1 L395.5,345.5 L395.9,345.9 L396.4,346.3 L396.8,346.7 L397.2,347.1 L397.7,347.5 L398.1,347.9 L398.5,348.3 L399.0,348.7 L399.4,349.1 L399.8,349.5 L400.3,349.9 L400.7,350.3 L401.1,350.8 L401.6,351.2 L402.0,351.6 L402.4,352.0 L402.8,352.4 L403.3,352.8 L403.7,353.2 L404.1,353.6 L404.6,354.0 L405.0,354.4 L405.4,354.8 L405.9,355.2 L406.3,355.6 L406.7,356.0 L407.2,356.4 L407.6,356.8 L408.0,357.2 L408.5,357.6 L408.9,358.0 L409.3,358.4 L409.8,358.8 L410.2,359.2 L410.6,359.6 L411.1,360.0 L411.5,360.4 L411.9,360.8 L412.3,361.2 L412.8,361.6 L413.2,362.0 L413.6,362.4 L414.1,362.8 L414.5,363.2 L414.9,363.6 L415.4,364.0 L415.8,364.4 L416.2,364.8 L416.7,365.2 L417.1,365.6 L417.5,366.0 L418.0,366.4 L418.4,366.8 L418.8,367.2 L419.3,367.6 L419.7,368.0 L420.1,368.4 L420.5,368.8 L421.0,369.2 L421.4,369.6 L421.8,370.0 L422.3,370.4 L422.7,370.8 L423.1,371.2 L423.6,371.6 L424.0,372.0 L424.4,372.4 L424.9,372.8 L425.3,373.2 L425.7,373.6 L426.2,374.0 L426.6,374.4 L427.0,374.8 L427.5,375.2 L427.9,375.6 L428.3,376.0 L428.8,376.4 L429.2,376.8 L429.6,377.2 L430.0,377.6 L430.5,378.0 L430.9,378.4 L431.3,378.8 L431.8,379.2 L432.2,379.6 L432.6,380.0 L433.1,380.4 L433.5,380.8 L433.9,381.2 L434.4,381.6 L434.8,382.0 L435.2,382.4 L435.7,382.8 L436.1,383.2 L436.5,383.6 L437.0,384.0 L437.4,384.4 L437.8,384.8 L438.3,385.2 L438.7,385.6 L439.1,386.0 L439.5,386.4 L440.0,386.8 L440.4,387.2 L440.8,387.6 L441.3,388.0 L441.7,388.4 L442.1,388.8 L442.6,389.2 L443.0,389.6 L443.4,390.0 L443.9,390.4 L444.3,390.8 L444.7,391.2 L445.2,391.6 L445.6,392.0 L446.0,392.4 L446.5,392.8 L446.9,393.2 L447.3,393.6 L447.7,394.0 L448.2,394.4 L448.6,394.8 L449.0,395.2 L449.5,395.6 L449.9,396.1 L450.3,396.5 L450.8,396.9 L451.2,397.3 L451.6,397.7 L452.1,398.1 L452.5,398.5 L452.9,398.9 L453.4,399.3 L453.8,399.7 L454.2,400.1 L454.7,400.5 L455.1,400.9 L455.5,401.3 L456.0,401.7 L456.4,402.1 L456.8,402.5 L457.2,402.9 L457.7,403.3 L458.1,403.7 L458.5,404.1 L459.0,404.5 L459.4,404.9 L459.8,405.3 L460.3,405.7 L460.7,406.1 L461.1,406.5 L461.6,406.9 L462.0,407.3 L462.4,407.7 L462.9,408.1 L463.3,408.5 L463.7,408.9 L464.2,409.3 L464.6,409.7 L465.0,410.1 L465.5,410.5 L465.9,410.9 L466.3,411.3 L466.7,411.7 L467.2,412.1 L467.6,412.5 L468.0,412.9 L468.5,413.3 L468.9,413.7 L469.3,414.1 L469.8,414.5 L470.2,414.9 L470.6,415.3 L471.1,415.7 L471.5,416.1 L471.9,416.5 L472.4,416.9 L472.8,417.3 L473.2,417.7 L473.7,418.1 L474.1,418.5 L474.5,418.9 L475.0,419.3 L475.4,419.7 L475.8,420.1 L476.2,420.5 L476.7,420.9 L477.1,421.3 L477.5,421.7 L478.0,422.1 L478.4,422.5 L478.8,422.9 L479.3,423.3 L479.7,423.7 L480.1,424.1 L480.6,424.5 L481.0,424.9 L481.4,425.3 L481.9,425.7 L482.3,426.1 L482.7,426.5 L483.2,426.9 L483.6,427.3 L484.0,427.7 L484.4,428.1 L484.9,428.5 L485.3,428.9 L485.7,429.3 L486.2,429.7 L486.6,430.1 L487.0,430.5 L487.5,430.9 L487.9,431.3 L488.3,431.7 L488.8,432.1 L489.2,432.5 L489.6,432.9 L490.1,433.3 L490.5,433.7 L490.9,434.1 L491.4,434.5 L491.8,434.9 L492.2,435.3 L492.7,435.7 L493.1,436.1 L493.5,436.5 L493.9,436.9 L494.4,437.3 L494.8,437.7 L495.2,438.1 L495.7,438.5 L496.1,438.9 L496.5,439.3 L497.0,439.7 L497.4,440.1 L497.8,440.5 L498.3,440.9 L498.7,441.4 L499.1,441.8 L499.6,442.2 L500.0,442.6 L500.4,443.0 L500.9,443.4 L501.3,443.8 L501.7,444.2 L502.2,444.6 L502.6,445.0 L503.0,445.4 L503.4,445.8 L503.9,446.2 L504.3,446.6 L504.7,447.0 L505.2,447.4 L505.6,447.8 L506.0,448.2 L506.5,448.6 L506.9,449.0 L507.3,449.4 L507.8,449.8 L508.2,450.2 L508.6,450.6 L509.1,451.0 L509.5,451.4 L509.9,451.8 L510.4,452.2 L510.8,452.6 L511.2,453.0 L511.6,453.4 L512.1,453.8 L512.5,454.2 L512.9,454.6 L513.4,455.0 L513.8,455.4 L514.2,455.8 L514.7,456.2 L515.1,456.6 L515.5,457.0 L516.0,457.4 L516.4,457.8 L516.8,458.2 L517.3,458.6 L517.7,459.0 L518.1,459.4 L518.6,459.8 L519.0,460.2 L519.4,460.6 L519.9,461.0 L520.3,461.4 L520.7,461.8 L521.1,462.2 L521.6,462.6 L522.0,463.0 L522.4,463.4 L522.9,463.8 L523.3,464.2 L523.7,464.6 L524.2,465.0 L524.6,465.4 L525.0,465.8 L525.5,466.2 L525.9,466.6 L526.3,467.0 L526.8,467.4 L527.2,467.8 L527.6,468.2 L528.1,468.6 L528.5,469.0 L528.9,469.4 L529.4,469.8 L529.8,470.2 L530.2,470.6 L530.6,471.0 L531.1,471.4 L531.5,471.8 L531.9,472.2 L532.4,472.6 L532.8,473.0 L533.2,473.4 L533.7,473.8 L534.1,474.2 L534.5,474.6 L535.0,475.0 L535.4,475.4 L535.8,475.8 L536.3,476.2 L536.7,476.6 L537.1,477.0 L537.6,477.4 L538.0,477.8 L538.4,478.2 L538.8,478.6 L539.3,479.0 L539.7,479.4 L540.1,479.8 L540.6,480.2 L541.0,480.6 L541.4,481.0 L541.9,481.4 L542.3,481.8 L542.7,482.2 L543.2,482.6 L543.6,483.0 L544.0,483.4 L544.5,483.8 L544.9,484.2 L545.3,484.6 L545.8,485.0 L546.2,485.4 L546.6,485.8 L547.1,486.3 L547.5,486.7 L547.9,487.1 L548.3,487.5 L548.8,487.9 L549.2,488.3 L549.6,488.7 L550.1,489.1 L550.5,489.5 L550.9,489.9 L551.4,490.3 L551.8,490.7 L552.2,491.1 L552.7,491.5 L553.1,491.9 L553.5,492.3 L554.0,492.7 L554.4,493.1 L554.8,493.5 L555.3,493.9 L555.7,494.3 L556.1,494.7 L556.6,495.1 L557.0,495.5 L557.4,495.9 L557.8,496.3 L558.3,496.7 L558.7,497.1 L559.1,497.5 L559.6,497.9 L560.0,498.3 L560.4,498.7 L560.9,499.1 L561.3,499.5 L561.7,499.9 L562.2,500.3 L562.6,500.7 L563.0,501.1 L563.5,501.5 L563.9,501.9 L564.3,502.3 L564.8,502.7 L565.2,503.1 L565.6,503.5 L566.0,503.9 L566.5,504.3 L566.9,504.7 L567.3,505.1 L567.8,505.5 L568.2,505.9 L568.6,506.3 L569.1,506.7 L569.5,507.1 L569.9,507.5 L570.4,507.9 L570.8,508.3 L571.2,508.7 L571.7,509.1 L572.1,509.5 L572.5,509.9 L573.0,510.3 L573.4,510.7 L573.8,511.1 L574.3,511.5 L574.7,511.9 L575.1,512.3 L575.5,512.7 L576.0,513.1 L576.4,513.5 L576.8,513.9 L577.3,514.3 L577.7,514.7 L578.1,515.1 L578.6,515.5 L579.0,515.9 L579.4,516.3 L579.9,516.7 L580.3,517.1 L580.7,517.5 L581.2,517.9 L581.6,518.3 L582.0,518.7 L582.5,519.1 L582.9,519.5 L583.3,519.9 L583.8,520.3 L584.2,520.7 L584.6,521.1 L585.0,521.5 L585.5,521.9 L585.9,522.3 L586.3,522.7 L586.8,523.1 L587.2,523.5 L587.6,523.9 L588.1,524.3 L588.5,524.7 L588.9,525.1 L589.4,525.5 L589.8,525.9 L590.2,526.3 L590.7,526.7 L591.1,527.1 L591.5,527.5 L592.0,527.9 L592.4,528.3 L592.8,528.7 L593.2,529.1 L593.7,529.5"/>
<path stroke="#000" stroke-width="3" d="M238.6,46.0 L239.0,47.0 L239.5,47.9 L239.9,48.9 L240.3,49.9 L240.8,50.9 L241.2,51.9 L241.6,52.8 L242.1,53.8 L242.5,54.8 L242.9,55.8 L243.4,56.8 L243.8,57.7 L244.2,58.7 L244.7,59.7 L245.1,60.6 L245.5,61.6 L246.0,62.6 L246.4,63.6 L246.8,64.5 L247.2,65.5 L247.7,66.5 L248.1,67.4 L248.5,68.4 L249.0,69.3 L249.4,70.3 L249.8,71.3 L250.3,72.2 L250.7,73.2 L251.1,74.1 L251.6,75.1 L252.0,76.0 L252.4,77.0 L252.9,77.9 L253.3,78.9 L253.7,79.8 L254.2,80.8 L254.6,81.7 L255.0,82.7 L255.4,83.6 L255.9,84.6 L256.3,85.5 L256.7,86.4 L257.2,87.4 L257.6,88.3 L258.0,89.3 L258.5,90.2 L258.9,91.1 L259.3,92.0 L259.8,93.0 L260.2,93.9 L260.6,94.8 L261.1,95.7 L261.5,96.7 L261.9,97.6 L262.4,98.5 L262.8,99.4 L263.2,100.3 L263.7,101.3 L264.1,102.2 L264.5,103.1 L264.9,104.0 L265.4,104.9 L265.8,105.8 L266.2,106.7 L266.7,107.6 L267.1,108.5 L267.5,109.4 L268.0,110.3 L268.4,111.2 L268.8,112.1 L269.3,113.0 L269.7,113.8 L270.1,114.7 L270.6,115.6 L271.0,116.5 L271.4,117.4 L271.9,118.2 L272.3,119.1 L272.7,120.0 L273.2,120.9 L273.6,121.7 L274.0,122.6 L274.4,123.5 L274.9,124.3 L275.3,125.2 L275.7,126.0 L276.2,126.9 L276.6,127.7 L277.0,128.6 L277.5,129.4 L277.9,130.3 L278.3,131.1 L278.8,132.0 L279.2,132.8 L279.6,133.6 L280.1,134.5 L280.5,135.3 L280.9,136.1 L281.4,136.9 L281.8,137.8 L282.2,138.6 L282.6,139.4 L283.1,140.2 L283.5,141.0 L283.9,141.8 L284.4,142.6 L284.8,143.4 L285.2,144.2 L285.7,145.0 L286.1,145.8 L286.5,146.6 L287.0,147.4 L287.4,148.2 L287.8,149.0 L288.3,149.8 L288.7,150.6 L289.1,151.3 L289.6,152.1 L290.0,152.9 L290.4,153.6 L290.9,154.4 L291.3,155.2 L291.7,155.9 L292.1,156.7 L292.6,157.4 L293.0,158.2 L293.4,158.9 L293.9,159.7 L294.3,160.4 L294.7,161.1 L295.2,161.9 L295.6,162.6 L296.0,163.3 L296.5,164.1 L296.9,164.8 L297.3,165.5 L297.8,166.2 L298.2,166.9 L298.6,167.6 L299.1,168.3 L299.5,169.0 L299.9,169.7 L300.4,170.4 L300.8,171.1 L301.2,171.8 L301.6,172.5 L302.1,173.2 L302.5,173.9 L302.9,174.5 L303.4,175.2 L303.8,175.9 L304.2,176.5 L304.7,177.2 L305.1,177.9 L305.5,178.5 L306.0,179.2 L306.4,179.8 L306.8,180.5 L307.3,181.1 L307.7,181.8 L308.1,182.4 L308.6,183.0 L309.0,183.7 L309.4,184.3 L309.8,184.9 L310.3,185.5 L310.7,186.1 L311.1,186.7 L311.6,187.4 L312.0,188.0 L312.4,188.6 L312.9,189.2 L313.3,189.8 L313.7,190.4 L314.2,190.9 L314.6,191.5 L315.0,192.1 L315.5,192.7 L315.9,193.3 L316.3,193.8 L316.8,194.4 L317.2,195.0 L317.6,195.5 L318.1,196.1 L318.5,196.7 L318.9,197.2 L319.3,197.8 L319.8,198.3 L320.2,198.9 L320.6,199.4 L321.1,199.9 L321.5,200.5 L321.9,201.0 L322.4,201.5 L322.8,202.1 L323.2,202.6 L323.7,203.1 L324.1,203.6 L324.5,204.1 L325.0,204.6 L325.4,205.1 L325.8,205.7 L326.3,206.2 L326.7,206.7 L327.1,207.1 L327.6,207.6 L328.0,208.1 L328.4,208.6 L328.8,209.1 L329.3,209.6 L329.7,210.1 L330.1,210.5 L330.6,211.0 L331.0,211.5 L331.4,211.9 L331.9,212.4 L332.3,212.9 L332.7,213.3 L333.2,213.8 L333.6,214.2 L334.0,214.7 L334.5,215.1 L334.9,215.6 L335.3,216.0 L335.8,216.4 L336.2,216.9 L336.6,217.3 L337.0,217.7 L337.5,218.2 L337.9,218.6 L338.3,219.0 L338.8,219.4 L339.2,219.8 L339.6,220.3 L340.1,220.7 L340.5,221.1 L340.9,221.5 L341.4,221.9 L341.8,222.3 L342.2,222.7 L342.7,223.1 L343.1,223.5 L343.5,223.9 L344.0,224.3 L344.4,224.7 L344.8,225.1 L345.3,225.4 L345.7,225.8 L346.1,226.2 L346.5,226.6 L347.0,227.0 L347.4,227.3 L347.8,227.7 L348.3,228.1 L348.7,228.4 L349.1,228.8 L349.6,229.2 L350.0,229.5 L350.4,229.9 L350.9,230.3 L351.3,230.6 L351.7,231.0 L352.2,231.3 L352.6,231.7 L353.0,232.0 L353.5,232.4 L353.9,232.7 L354.3,233.1 L354.8,233.4 L355.2,233.7 L355.6,234.1 L356.0,234.4 L356.5,234.7 L356.9,235.1 L357.3,235.4 L357.8,235.7 L358.2,236.1 L358.6,236.4 L359.1,236.7 L359.5,237.0 L359.9,237.4 L360.4,237.7 L360.8,238.0 L361.2,238.3 L361.7,238.6 L362.1,238.9 L362.5,239.3 L363.0,239.6 L363.4,239.9 L363.8,240.2 L364.2,240.5 L364.7,240.8 L365.1,241.1 L365.5,241.4 L366.0,241.7 L366.4,242.0 L366.8,242.3 L367.3,242.6 L367.7,242.9 L368.1,243.2 L368.6,243.5 L369.0,243.8 L369.4,244.1 L369.9,244.4 L370.3,244.7 L370.7,244.9 L371.2,245.2 L371.6,245.5 L372.0,245.8 L372.5,246.1 L372.9,246.4 L373.3,246.6 L373.7,246.9 L374.2,247.2 L374.6,247.5 L375.0,247.8 L375.5,248.0 L375.9,248.3 L376.3,248.6 L376.8,248.9 L377.2,249.1 L377.6,249.4 L378.1,249.7 L378.5,250.0 L378.9,250.2 L379.4,250.5 L379.8,250.8 L380.2,251.0 L380.7,251.3 L381.1,251.6 L381.5,251.8 L382.0,252.1 L382.4,252.3 L382.8,252.6 L383.2,252.9 L383.7,253.1 L384.1,253.4 L384.5,253.6 L385.0,253.9 L385.4,254.2 L385.8,254.4 L386.3,254.7 L386.7,254.9 L387.1,255.2 L387.6,255.4 L388.0,255.7 L388.4,255.9 L388.9,256.2 L389.3,256.4 L389.7,256.7 L390.2,256.9 L390.6,257.2 L391.0,257.4 L391.4,257.7 L391.9,257.9 L392.3,258.2 L392.7,258.4 L393.2,258.7 L393.6,258.9 L394.0,259.2 L394.5,259.4 L394.9,259.7 L395.3,259.9 L395.8,260.1 L396.2,260.4 L396.6,260.6 L397.1,260.9 L397.5,261.1 L397.9,261.4 L398.4,261.6 L398.8,261.8 L399.2,262.1 L399.7,262.3 L400.1,262.6 L400.5,262.8 L400.9,263.0 L401.4,263.3 L401.8,263.5 L402.2,263.7 L402.7,264.0 L403.1,264.2 L403.5,264.4 L404.0,264.7 L404.4,264.9 L404.8,265.1 L405.3,265.4 L405.7,265.6 L406.1,265.8 L406.6,266.1 L407.0,266.3 L407.4,266.5 L407.9,266.8 L408.3,267.0 L408.7,267.2 L409.2,267.5 L409.6,267.7 L410.0,267.9 L410.4,268.2 L410.9,268.4 L411.3,268.6 L411.7,268.8 L412.2,269.1 L412.6,269.3 L413.0,269.5 L413.5,269.8 L413.9,270.0 L414.3,270.2 L414.8,270.4 L415.2,270.7 L415.6,270.9 L416.1,271.1 L416.5,271.3 L416.9,271.6 L417.4,271.8 L417.8,272.0 L418.2,272.2 L418.7,272.5 L419.1,272.7 L419.5,272.9 L419.9,273.1 L420.4,273.4 L420.8,273.6 L421.2,273.8 L421.7,274.0 L422.1,274.3 L422.5,274.5 L423.0,274.7 L423.4,274.9 L423.8,275.1 L424.3,275.4 L424.7,275.6 L425.1,275.8 L425.6,276.0 L426.0,276.2 L426.4,276.5 L426.9,276.7 L427.3,276.9 L427.7,277.1 L428.1,277.4 L428.6,277.6 L429.0,277.8 L429.4,278.0 L429.9,278.2 L430.3,278.5 L430.7,278.7 L431.2,278.9 L431.6,279.1 L432.0,279.3 L432.5,279.5 L432.9,279.8 L433.3,280.0 L433.8,280.2 L434.2,280.4 L434.6,280.6 L435.1,280.9 L435.5,281.1 L435.9,281.3 L436.4,281.5 L436.8,281.7 L437.2,281.9 L437.6,282.2 L438.1,282.4 L438.5,282.6 L438.9,282.8 L439.4,283.0 L439.8,283.2 L440.2,283.5 L440.7,283.7 L441.1,283.9 L441.5,284.1 L442.0,284.3 L442.4,284.5 L442.8,284.8 L443.3,285.0 L443.7,285.2 L444.1,285.4 L444.6,285.6 L445.0,285.8 L445.4,286.1 L445.9,286.3 L446.3,286.5 L446.7,286.7 L447.1,286.9 L447.6,287.1 L448.0,287.3 L448.4,287.6 L448.9,287.8 L449.3,288.0 L449.7,288.2 L450.2,288.4 L450.6,288.6 L451.0,288.9 L451.5,289.1 L451.9,289.3 L452.3,289.5 L452.8,289.7 L453.2,289.9 L453.6,290.1 L454.1,290.4 L454.5,290.6 L454.9,290.8 L455.3,291.0 L455.8,291.2 L456.2,291.4 L456.6,291.6 L457.1,291.8 L457.5,292.1 L457.9,292.3 L458.4,292.5 L458.8,292.7 L459.2,292.9 L459.7,293.1 L460.1,293.3 L460.5,293.6 L461.0,293.8 L461.4,294.0 L461.8,294.2 L462.3,294.4 L462.7,294.6 L463.1,294.8 L463.6,295.0 L464.0,295.3 L464.4,295.5 L464.8,295.7 L465.3,295.9 L465.7,296.1 L466.1,296.3 L466.6,296.5 L467.0,296.7 L467.4,297.0 L467.9,297.2 L468.3,297.4 L468.7,297.6 L469.2,297.8 L469.6,298.0 L470.0,298.2 L470.5,298.4 L470.9,298.7 L471.3,298.9 L471.8,299.1 L472.2,299.3 L472.6,299.5 L473.1,299.7 L473.5,299.9 L473.9,300.1 L474.3,300.4 L474.8,300.6 L475.2,300.8 L475.6,301.0 L476.1,301.2 L476.5,301.4 L476.9,301.6 L477.4,301.8 L477.8,302.1 L478.2,302.3 L478.7,302.5 L479.1,302.7 L479.5,302.9 L480.0,303.1 L480.4,303.3 L480.8,303.5 L481.3,303.7 L481.7,304.0 L482.1,304.2 L482.5,304.4 L483.0,304.6 L483.4,304.8 L483.8,305.0 L484.3,305.2 L484.7,305.4 L485.1,305.6 L485.6,305.9 L486.0,306.1 L486.4,306.3 L486.9,306.5 L487.3,306.7 L487.7,306.9 L488.2,307.1 L488.6,307.3 L489.0,307.6 L489.5,307.8 L489.9,308.0 L490.3,308.2 L490.8,308.4 L491.2,308.6 L491.6,308.8 L492.0,309.0 L492.5,309.2 L492.9,309.5 L493.3,309.7 L493.8,309.9 L494.2,310.1 L494.6,310.3 L495.1,310.5 L495.5,310.7 L495.9,310.9 L496.4,311.1 L496.8,311.4 L497.2,311.6 L497.7,311.8 L498.1,312.0 L498.5,312.2 L499.0,312.4 L499.4,312.6 L499.8,312.8 L500.3,313.0 L500.7,313.2 L501.1,313.5 L501.5,313.7 L502.0,313.9 L502.4,314.1 L502.8,314.3 L503.3,314.5 L503.7,314.7 L504.1,314.9 L504.6,315.1 L505.0,315.4 L505.4,315.6 L505.9,315.8 L506.3,316.0 L506.7,316.2 L507.2,316.4 L507.6,316.6 L508.0,316.8 L508.5,317.0 L508.9,317.3 L509.3,317.5 L509.7,317.7 L510.2,317.9 L510.6,318.1 L511.0,318.3 L511.5,318.5 L511.9,318.7 L512.3,318.9 L512.8,319.1 L513.2,319.4 L513.6,319.6 L514.1,319.8 L514.5,320.0 L514.9,320.2 L515.4,320.4 L515.8,320.6 L516.2,320.8 L516.7,321.0 L517.1,321.3 L517.5,321.5 L518.0,321.7 L518.4,321.9 L518.8,322.1 L519.2,322.3 L519.7,322.5 L520.1,322.7 L520.5,322.9 L521.0,323.1 L521.4,323.4 L521.8,323.6 L522.3,323.8 L522.7,324.0 L523.1,324.2 L523.6,324.4 L524.0,324.6 L524.4,324.8 L524.9,325.0 L525.3,325.3 L525.7,325.5 L526.2,325.7 L526.6,325.9 L527.0,326.1 L527.5,326.3 L527.9,326.5 L528.3,326.7 L528.7,326.9 L529.2,327.1 L529.6,327.4 L530.0,327.6 L530.5,327.8 L530.9,328.0 L531.3,328.2 L531.8,328.4 L532.2,328.6 L532.6,328.8 L533.1,329.0 L533.5,329.3 L533.9,329.5 L534.4,329.7 L534.8,329.9 L535.2,330.1 L535.7,330.3 L536.1,330.5 L536.5,330.7 L536.9,330.9 L537.4,331.1 L537.8,331.4 L538.2,331.6 L538.7,331.8 L539.1,332.0 L539.5,332.2 L540.0,332.4 L540.4,332.6 L540.8,332.8 L541.3,333.0 L541.7,333.2 L542.1,333.5 L542.6,333.7 L543.0,333.9 L543.4,334.1 L543.9,334.3 L544.3,334.5 L544.7,334.7 L545.2,334.9 L545.6,335.1 L546.0,335.3 L546.4,335.6 L546.9,335.8 L547.3,336.0 L547.7,336.2 L548.2,336.4 L548.6,336.6 L549.0,336.8 L549.5,337.0 L549.9,337.2 L550.3,337.5 L550.8,337.7 L551.2,337.9 L551.6,338.1 L552.1,338.3 L552.5,338.5 L552.9,338.7 L553.4,338.9 L553.8,339.1 L554.2,339.3 L554.7,339.6 L555.1,339.8 L555.5,340.0 L555.9,340.2 L556.4,340.4 L556.8,340.6 L557.2,340.8 L557.7,341.0 L558.1,341.2 L558.5,341.4 L559.0,341.7 L559.4,341.9 L559.8,342.1 L560.3,342.3 L560.7,342.5 L561.1,342.7 L561.6,342.9 L562.0,343.1 L562.4,343.3 L562.9,343.5 L563.3,343.8 L563.7,344.0 L564.1,344.2 L564.6,344.4 L565.0,344.6 L565.4,344.8 L565.9,345.0 L566.3,345.2 L566.7,345.4 L567.2,345.7 L567.6,345.9 L568.0,346.1 L568.5,346.3 L568.9,346.5 L569.3,346.7 L569.8,346.9 L570.2,347.1 L570.6,347.3 L571.1,347.5 L571.5,347.8 L571.9,348.0 L572.4,348.2 L572.8,348.4 L573.2,348.6 L573.6,348.8 L574.1,349.0 L574.5,349.2 L574.9,349.4 L575.4,349.6 L575.8,349.9 L576.2,350.1 L576.7,350.3 L577.1,350.5 L577.5,350.7 L578.0,350.9 L578.4,351.1 L578.8,351.3 L579.3,351.5 L579.7,351.7 L580.1,352.0 L580.6,352.2 L581.0,352.4 L581.4,352.6 L581.9,352.8 L582.3,353.0 L582.7,353.2 L583.1,353.4 L583.6,353.6 L584.0,353.8 L584.4,354.1 L584.9,354.3 L585.3,354.5 L585.7,354.7 L586.2,354.9 L586.6,355.1 L587.0,355.3 L587.5,355.5 L587.9,355.7 L588.3,355.9 L588.8,356.2 L589.2,356.4 L589.6,356.6 L590.1,356.8 L590.5,357.0 L590.9,357.2 L591.4,357.4 L591.8,357.6 L592.2,357.8 L592.6,358.1 L593.1,358.3 L593.5,358.5 L593.9,358.7 L594.4,358.9 L594.8,359.1 L595.2,359.3 L595.7,359.5 L596.1,359.7 L596.5,359.9 L597.0,360.2 L597.4,360.4 L597.8,360.6 L598.3,360.8 L598.7,361.0 L599.1,361.2 L599.6,361.4 L600.0,361.6 L600.4,361.8 L600.8,362.0 L601.3,362.3 L601.7,362.5 L602.1,362.7 L602.6,362.9 L603.0,363.1 L603.4,363.3 L603.9,363.5 L604.3,363.7 L604.7,363.9 L605.2,364.1 L605.6,364.4 L606.0,364.6 L606.5,364.8 L606.9,365.0 L607.3,365.2 L607.8,365.4 L608.2,365.6 L608.6,365.8 L609.1,366.0 L609.5,366.2 L609.9,366.5 L610.3,366.7 L610.8,366.9 L611.2,367.1 L611.6,367.3 L612.1,367.5 L612.5,367.7 L612.9,367.9 L613.4,368.1 L613.8,368.3 L614.2,368.6 L614.7,368.8 L615.1,369.0 L615.5,369.2 L616.0,369.4 L616.4,369.6 L616.8,369.8 L617.3,370.0 L617.7,370.2 L618.1,370.5 L618.6,370.7 L619.0,370.9 L619.4,371.1 L619.8,371.3 L620.3,371.5 L620.7,371.7 L621.1,371.9 L621.6,372.1 L622.0,372.3 L622.4,372.6 L622.9,372.8 L623.3,373.0 L623.7,373.2 L624.2,373.4 L624.6,373.6 L625.0,373.8 L625.5,374.0 L625.9,374.2 L626.3,374.4 L626.8,374.7 L627.2,374.9 L627.6,375.1 L628.0,375.3 L628.5,375.5 L628.9,375.7 L629.3,375.9 L629.8,376.1 L630.2,376.3 L630.6,376.5 L631.1,376.8 L631.5,377.0 L631.9,377.2 L632.4,377.4 L632.8,377.6 L633.2,377.8 L633.7,378.0 L634.1,378.2 L634.5,378.4 L635.0,378.6 L635.4,378.9 L635.8,379.1 L636.3,379.3 L636.7,379.5 L637.1,379.7 L637.5,379.9 L638.0,380.1 L638.4,380.3 L638.8,380.5 L639.3,380.7 L639.7,381.0 L640.1,381.2 L640.6,381.4 L641.0,381.6 L641.4,381.8 L641.9,382.0 L642.3,382.2 L642.7,382.4 L643.2,382.6 L643.6,382.8 L644.0,383.1 L644.5,383.3 L644.9,383.5 L645.3,383.7 L645.8,383.9 L646.2,384.1 L646.6,384.3 L647.0,384.5 L647.5,384.7 L647.9,385.0 L648.3,385.2 L648.8,385.4 L649.2,385.6 L649.6,385.8 L650.1,386.0 L650.5,386.2 L650.9,386.4 L651.4,386.6 L651.8,386.8 L652.2,387.1 L652.7,387.3 L653.1,387.5 L653.5,387.7 L654.0,387.9 L654.4,388.1 L654.8,388.3 L655.2,388.5 L655.7,388.7 L656.1,388.9 L656.5,389.2 L657.0,389.4 L657.4,389.6 L657.8,389.8 L658.3,390.0 L658.7,390.2 L659.1,390.4 L659.6,390.6 L660.0,390.8 L660.4,391.0 L660.9,391.3 L661.3,391.5 L661.7,391.7 L662.2,391.9 L662.6,392.1 L663.0,392.3 L663.5,392.5 L663.9,392.7 L664.3,392.9 L664.7,393.1 L665.2,393.4 L665.6,393.6 L666.0,393.8 L666.5,394.0 L666.9,394.2 L667.3,394.4 L667.8,394.6 L668.2,394.8 L668.6,395.0 L669.1,395.2 L669.5,395.5 L669.9,395.7 L670.4,395.9 L670.8,396.1 L671.2,396.3 L671.7,396.5 L672.1,396.7 L672.5,396.9 L673.0,397.1 L673.4,397.3 L673.8,397.6 L674.2,397.8 L674.7,398.0 L675.1,398.2 L675.5,398.4 L676.0,398.6 L676.4,398.8 L676.8,399.0 L677.3,399.2 L677.7,399.5 L678.1,399.7 L678.6,399.9 L679.0,400.1 L679.4,400.3 L679.9,400.5 L680.3,400.7 L680.7,400.9 L681.2,401.1 L681.6,401.3 L682.0,401.6 L682.4,401.8 L682.9,402.0 L683.3,402.2 L683.7,402.4 L684.2,402.6 L684.6,402.8 L685.0,403.0 L685.5,403.2 L685.9,403.4 L686.3,403.7 L686.8,403.9 L687.2,404.1 L687.6,404.3 L688.1,404.5 L688.5,404.7 L688.9,404.9 L689.4,405.1 L689.8,405.3 L690.2,405.5 L690.7,405.8 L691.1,406.0 L691.5,406.2 L691.9,406.4 L692.4,406.6 L692.8,406.8 L693.2,407.0 L693.7,407.2 L694.1,407.4 L694.5,407.6 L695.0,407.9 L695.4,408.1 L695.8,408.3 L696.3,408.5 L696.7,408.7 L697.1,408.9 L697.6,409.1 L698.0,409.3 L698.4,409.5 L698.9,409.7 L699.3,410.0 L699.7,410.2 L700.2,410.4 L700.6,410.6 L701.0,410.8 L701.4,411.0 L701.9,411.2 L702.3,411.4 L702.7,411.6 L703.2,411.8 L703.6,412.1 L704.0,412.3 L704.5,412.5 L704.9,412.7 L705.3,412.9 L705.8,413.1 L706.2,413.3 L706.6,413.5 L707.1,413.7 L707.5,414.0 L707.9,414.2 L708.4,414.4 L708.8,414.6 L709.2,414.8 L709.6,415.0 L710.1,415.2 L710.5,415.4 L710.9,415.6 L711.4,415.8 L711.8,416.1 L712.2,416.3 L712.7,416.5 L713.1,416.7 L713.5,416.9 L714.0,417.1 L714.4,417.3 L714.8,417.5 L715.3,417.7 L715.7,417.9 L716.1,418.2 L716.6,418.4 L717.0,418.6 L717.4,418.8 L717.9,419.0 L718.3,419.2 L718.7,419.4 L719.1,419.6 L719.6,419.8 L720.0,420.0 L720.4,420.3 L720.9,420.5 L721.3,420.7 L721.7,420.9 L722.2,421.1 L722.6,421.3 L723.0,421.5 L723.5,421.7 L723.9,421.9 L724.3,422.1 L724.8,422.4 L725.2,422.6 L725.6,422.8 L726.1,423.0 L726.5,423.2 L726.9,423.4 L727.4,423.6 L727.8,423.8 L728.2,424.0 L728.6,424.2 L729.1,424.5 L729.5,424.7 L729.9,424.9 L730.4,425.1 L730.8,425.3 L731.2,425.5 L731.7,425.7 L732.1,425.9 L732.5,426.1 L733.0,426.3 L733.4,426.6 L733.8,426.8 L734.3,427.0 L734.7,427.2 L735.1,427.4 L735.6,427.6 L736.0,427.8 L736.4,428.0 L736.8,428.2 L737.3,428.5 L737.7,428.7 L738.1,428.9 L738.6,429.1 L739.0,429.3 L739.4,429.5 L739.9,429.7 L740.3,429.9 L740.7,430.1 L741.2,430.3 L741.6,430.6 L742.0,430.8 L742.5,431.0 L742.9,431.2 L743.3,431.4 L743.8,431.6 L744.2,431.8 L744.6,432.0 L745.1,432.2 L745.5,432.4 L745.9,432.7 L746.3,432.9 L746.8,433.1 L747.2,433.3 L747.6,433.5 L748.1,433.7 L748.5,433.9 L748.9,434.1 L749.4,434.3 L749.8,434.5 L750.2,434.8 L750.7,435.0 L751.1,435.2 L751.5,435.4 L752.0,435.6 L752.4,435.8 L752.8,436.0 L753.3,436.2 L753.7,436.4 L754.1,436.6 L754.6,436.9 L755.0,437.1 L755.4,437.3 L755.8,437.5 L756.3,437.7 L756.7,437.9 L757.1,438.1 L757.6,438.3 L758.0,438.5 L758.4,438.7 L758.9,439.0 L759.3,439.2 L759.7,439.4 L760.2,439.6 L760.6,439.8 L761.0,440.0 L761.5,440.2 L761.9,440.4 L762.3,440.6 L762.8,440.8 L763.2,441.1 L763.6,441.3 L764.1,441.5 L764.5,441.7 L764.9,441.9 L765.3,442.1 L765.8,442.3 L766.2,442.5 L766.6,442.7 L767.1,443.0 L767.5,443.2 L767.9,443.4 L768.4,443.6 L768.8,443.8 L769.2,444.0 L769.7,444.2 L770.1,444.4 L770.5,444.6 L771.0,444.8 L771.4,445.1 L771.8,445.3 L772.3,445.5 L772.7,445.7 L773.1,445.9 L773.5,446.1 L774.0,446.3 L774.4,446.5 L774.8,446.7 L775.3,446.9 L775.7,447.2 L776.1,447.4 L776.6,447.6 L777.0,447.8 L777.4,448.0 L777.9,448.2 L778.3,448.4 L778.7,448.6 L779.2,448.8 L779.6,449.0 L780.0,449.3 L780.5,449.5 L780.9,449.7 L781.3,449.9 L781.8,450.1 L782.2,450.3 L782.6,450.5 L783.0,450.7 L783.5,450.9 L783.9,451.1 L784.3,451.4 L784.8,451.6 L785.2,451.8 L785.6,452.0 L786.1,452.2 L786.5,452.4 L786.9,452.6 L787.4,452.8 L787.8,453.0 L788.2,453.2 L788.7,453.5 L789.1,453.7 L789.5,453.9 L790.0,454.1 L790.4,454.3 L790.8,454.5 L791.3,454.7 L791.7,454.9 L792.1,455.1 L792.5,455.3 L793.0,455.6 L793.4,455.8 L793.8,456.0 L794.3,456.2 L794.7,456.4 L795.1,456.6 L795.6,456.8 L796.0,457.0 L796.4,457.2 L796.9,457.5 L797.3,457.7 L797.7,457.9 L798.2,458.1 L798.6,458.3 L799.0,458.5 L799.5,458.7 L799.9,458.9 L800.3,459.1 L800.7,459.3 L801.2,459.6 L801.6,459.8 L802.0,460.0 L802.5,460.2 L802.9,460.4 L803.3,460.6 L803.8,460.8 L804.2,461.0 L804.6,461.2 L805.1,461.4 L805.5,461.7 L805.9,461.9 L806.4,462.1 L806.8,462.3 L807.2,462.5 L807.7,462.7 L808.1,462.9 L808.5,463.1 L809.0,463.3 L809.4,463.5 L809.8,463.8 L810.2,464.0 L810.7,464.2 L811.1,464.4 L811.5,464.6 L812.0,464.8 L812.4,465.0 L812.8,465.2 L813.3,465.4 L813.7,465.6 L814.1,465.9 L814.6,466.1 L815.0,466.3 L815.4,466.5 L815.9,466.7 L816.3,466.9 L816.7,467.1 L817.2,467.3 L817.6,467.5 L818.0,467.7 L818.5,468.0 L818.9,468.2 L819.3,468.4 L819.7,468.6 L820.2,468.8 L820.6,469.0 L821.0,469.2 L821.5,469.4 L821.9,469.6 L822.3,469.8 L822.8,470.1 L823.2,470.3 L823.6,470.5 L824.1,470.7 L824.5,470.9 L824.9,471.1 L825.4,471.3 L825.8,471.5 L826.2,471.7 L826.7,472.0 L827.1,472.2 L827.5,472.4 L827.9,472.6 L828.4,472.8 L828.8,473.0 L829.2,473.2 L829.7,473.4 L830.1,473.6 L830.5,473.8 L831.0,474.1 L831.4,474.3 L831.8,474.5 L832.3,474.7 L832.7,474.9 L833.1,475.1 L833.6,475.3 L834.0,475.5 L834.4,475.7 L834.9,475.9 L835.3,476.2 L835.7,476.4 L836.2,476.6 L836.6,476.8 L837.0,477.0 L837.4,477.2 L837.9,477.4 L838.3,477.6 L838.7,477.8 L839.2,478.0 L839.6,478.3 L840.0,478.5 L840.5,478.7 L840.9,478.9 L841.3,479.1 L841.8,479.3 L842.2,479.5 L842.6,479.7 L843.1,479.9 L843.5,480.1 L843.9,480.4 L844.4,480.6 L844.8,480.8 L845.2,481.0 L845.7,481.2 L846.1,481.4 L846.5,481.6 L846.9,481.8 L847.4,482.0 L847.8,482.2 L848.2,482.5 L848.7,482.7 L849.1,482.9 L849.5,483.1 L850.0,483.3 L850.4,483.5"/>
<path stroke="#000" stroke-width="3" d="M238.6,46.4 L239.0,47.5 L239.5,48.5 L239.9,49.6 L240.3,50.7 L240.8,51.7 L241.2,52.8 L241.6,53.9 L242.1,54.9 L242.5,56.0 L242.9,57.1 L243.4,58.1 L243.8,59.2 L244.2,60.2 L244.7,61.3 L245.1,62.4 L245.5,63.4 L246.0,64.5 L246.4,65.5 L246.8,66.6 L247.2,67.6 L247.7,68.7 L248.1,69.7 L248.5,70.8 L249.0,71.8 L249.4,72.8 L249.8,73.9 L250.3,74.9 L250.7,76.0 L251.1,77.0 L251.6,78.0 L252.0,79.1 L252.4,80.1 L252.9,81.1 L253.3,82.2 L253.7,83.2 L254.2,84.2 L254.6,85.2 L255.0,86.3 L255.4,87.3 L255.9,88.3 L256.3,89.3 L256.7,90.3 L257.2,91.4 L257.6,92.4 L258.0,93.4 L258.5,94.4 L258.9,95.4 L259.3,96.4 L259.8,97.4 L260.2,98.4 L260.6,99.4 L261.1,100.4 L261.5,101.4 L261.9,102.4 L262.4,103.4 L262.8,104.4 L263.2,105.3 L263.7,106.3 L264.1,107.3 L264.5,108.3 L264.9,109.3 L265.4,110.2 L265.8,111.2 L266.2,112.2 L266.7,113.1 L267.1,114.1 L267.5,115.1 L268.0,116.0 L268.4,117.0 L268.8,117.9 L269.3,118.9 L269.7,119.8 L270.1,120.8 L270.6,121.7 L271.0,122.7 L271.4,123.6 L271.9,124.5 L272.3,125.5 L272.7,126.4 L273.2,127.3 L273.6,128.3 L274.0,129.2 L274.4,130.1 L274.9,131.0 L275.3,131.9 L275.7,132.8 L276.2,133.7 L276.6,134.6 L277.0,135.5 L277.5,136.4 L277.9,137.3 L278.3,138.2 L278.8,139.1 L279.2,140.0 L279.6,140.9 L280.1,141.7 L280.5,142.6 L280.9,143.5 L281.4,144.4 L281.8,145.2 L282.2,146.1 L282.6,146.9 L283.1,147.8 L283.5,148.6 L283.9,149.5 L284.4,150.3 L284.8,151.2 L285.2,152.0 L285.7,152.8 L286.1,153.7 L286.5,154.5 L287.0,155.3 L287.4,156.1 L287.8,156.9 L288.3,157.8 L288.7,158.6 L289.1,159.4 L289.6,160.2 L290.0,161.0 L290.4,161.7 L290.9,162.5 L291.3,163.3 L291.7,164.1 L292.1,164.9 L292.6,165.6 L293.0,166.4 L293.4,167.2 L293.9,167.9 L294.3,168.7 L294.7,169.4 L295.2,170.2 L295.6,170.9 L296.0,171.7 L296.5,172.4 L296.9,173.1 L297.3,173.9 L297.8,174.6 L298.2,175.3 L298.6,176.0 L299.1,176.7 L299.5,177.4 L299.9,178.1 L300.4,178.8 L300.8,179.5 L301.2,180.2 L301.6,180.9 L302.1,181.6 L302.5,182.3 L302.9,182.9 L303.4,183.6 L303.8,184.3 L304.2,184.9 L304.7,185.6 L305.1,186.2 L305.5,186.9 L306.0,187.5 L306.4,188.2 L306.8,188.8 L307.3,189.4 L307.7,190.1 L308.1,190.7 L308.6,191.3 L309.0,191.9 L309.4,192.5 L309.8,193.1 L310.3,193.7 L310.7,194.3 L311.1,194.9 L311.6,195.5 L312.0,196.1 L312.4,196.7 L312.9,197.3 L313.3,197.8 L313.7,198.4 L314.2,199.0 L314.6,199.6 L315.0,200.1 L315.5,200.7 L315.9,201.2 L316.3,201.8 L316.8,202.3 L317.2,202.8 L317.6,203.4 L318.1,203.9 L318.5,204.4 L318.9,205.0 L319.3,205.5 L319.8,206.0 L320.2,206.5 L320.6,207.0 L321.1,207.5 L321.5,208.0 L321.9,208.5 L322.4,209.0 L322.8,209.5 L323.2,210.0 L323.7,210.5 L324.1,211.0 L324.5,211.4 L325.0,211.9 L325.4,212.4 L325.8,212.9 L326.3,213.3 L326.7,213.8 L327.1,214.2 L327.6,214.7 L328.0,215.1 L328.4,215.6 L328.8,216.0 L329.3,216.5 L329.7,216.9 L330.1,217.3 L330.6,217.8 L331.0,218.2 L331.4,218.6 L331.9,219.0 L332.3,219.5 L332.7,219.9 L333.2,220.3 L333.6,220.7 L334.0,221.1 L334.5,221.5 L334.9,221.9 L335.3,222.3 L335.8,222.7 L336.2,223.1 L336.6,223.5 L337.0,223.9 L337.5,224.3 L337.9,224.7 L338.3,225.0 L338.8,225.4 L339.2,225.8 L339.6,226.2 L340.1,226.5 L340.5,226.9 L340.9,227.3 L341.4,227.6 L341.8,228.0 L342.2,228.3 L342.7,228.7 L343.1,229.1 L343.5,229.4 L344.0,229.8 L344.4,230.1 L344.8,230.5 L345.3,230.8 L345.7,231.1 L346.1,231.5 L346.5,231.8 L347.0,232.1 L347.4,232.5 L347.8,232.8 L348.3,233.1 L348.7,233.5 L349.1,233.8 L349.6,234.1 L350.0,234.4 L350.4,234.7 L350.9,235.1 L351.3,235.4 L351.7,235.7 L352.2,236.0 L352.6,236.3 L353.0,236.6 L353.5,236.9 L353.9,237.2 L354.3,237.5 L354.8,237.8 L355.2,238.1 L355.6,238.4 L356.0,238.7 L356.5,239.0 L356.9,239.3 L357.3,239.6 L357.8,239.9 L358.2,240.2 L358.6,240.5 L359.1,240.8 L359.5,241.1 L359.9,241.3 L360.4,241.6 L360.8,241.9 L361.2,242.2 L361.7,242.5 L362.1,242.7 L362.5,243.0 L363.0,243.3 L363.4,243.6 L363.8,243.8 L364.2,244.1 L364.7,244.4 L365.1,244.7 L365.5,244.9 L366.0,245.2 L366.4,245.5 L366.8,245.7 L367.3,246.0 L367.7,246.3 L368.1,246.5 L368.6,246.8 L369.0,247.0 L369.4,247.3 L369.9,247.6 L370.3,247.8 L370.7,248.1 L371.2,248.3 L371.6,248.6 L372.0,248.8 L372.5,249.1 L372.9,249.3 L373.3,249.6 L373.7,249.8 L374.2,250.1 L374.6,250.3 L375.0,250.6 L375.5,250.8 L375.9,251.1 L376.3,251.3 L376.8,251.6 L377.2,251.8 L377.6,252.1 L378.1,252.3 L378.5,252.5 L378.9,252.8 L379.4,253.0 L379.8,253.3 L380.2,253.5 L380.7,253.7 L381.1,254.0 L381.5,254.2 L382.0,254.5 L382.4,254.7 L382.8,254.9 L383.2,255.2 L383.7,255.4 L384.1,255.6 L384.5,255.9 L385.0,256.1 L385.4,256.3 L385.8,256.6 L386.3,256.8 L386.7,257.0 L387.1,257.3 L387.6,257.5 L388.0,257.7 L388.4,257.9 L388.9,258.2 L389.3,258.4 L389.7,258.6 L390.2,258.9 L390.6,259.1 L391.0,259.3 L391.4,259.5 L391.9,259.8 L392.3,260.0 L392.7,260.2 L393.2,260.4 L393.6,260.7 L394.0,260.9 L394.5,261.1 L394.9,261.3 L395.3,261.5 L395.8,261.8 L396.2,262.0 L396.6,262.2 L397.1,262.4 L397.5,262.7 L397.9,262.9 L398.4,263.1 L398.8,263.3 L399.2,263.5 L399.7,263.8 L400.1,264.0 L400.5,264.2 L400.9,264.4 L401.4,264.6 L401.8,264.8 L402.2,265.1 L402.7,265.3 L403.1,265.5 L403.5,265.7 L404.0,265.9 L404.4,266.1 L404.8,266.4 L405.3,266.6 L405.7,266.8 L406.1,267.0 L406.6,267.2 L407.0,267.4 L407.4,267.6 L407.9,267.9 L408.3,268.1 L408.7,268.3 L409.2,268.5 L409.6,268.7 L410.0,268.9 L410.4,269.1 L410.9,269.4 L411.3,269.6 L411.7,269.8 L412.2,270.0 L412.6,270.2 L413.0,270.4 L413.5,270.6 L413.9,270.8 L414.3,271.1 L414.8,271.3 L415.2,271.5 L415.6,271.7 L416.1,271.9 L416.5,272.1 L416.9,272.3 L417.4,272.5 L417.8,272.7 L418.2,272.9 L418.7,273.2 L419.1,273.4 L419.5,273.6 L419.9,273.8 L420.4,274.0 L420.8,274.2 L421.2,274.4 L421.7,274.6 L422.1,274.8 L422.5,275.0 L423.0,275.3 L423.4,275.5 L423.8,275.7 L424.3,275.9 L424.7,276.1 L425.1,276.3 L425.6,276.5 L426.0,276.7 L426.4,276.9 L426.9,277.1 L427.3,277.3 L427.7,277.5 L428.1,277.7 L428.6,278.0 L429.0,278.2 L429.4,278.4 L429.9,278.6 L430.3,278.8 L430.7,279.0 L431.2,279.2 L431.6,279.4 L432.0,279.6 L432.5,279.8 L432.9,280.0 L433.3,280.2 L433.8,280.4 L434.2,280.6 L434.6,280.8 L435.1,281.1 L435.5,281.3 L435.9,281.5 L436.4,281.7 L436.8,281.9 L437.2,282.1 L437.6,282.3 L438.1,282.5 L438.5,282.7 L438.9,282.9 L439.4,283.1 L439.8,283.3 L440.2,283.5 L440.7,283.7 L441.1,283.9 L441.5,284.1 L442.0,284.3 L442.4,284.5 L442.8,284.7 L443.3,285.0 L443.7,285.2 L444.1,285.4 L444.6,285.6 L445.0,285.8 L445.4,286.0 L445.9,286.2 L446.3,286.4 L446.7,286.6 L447.1,286.8 L447.6,287.0 L448.0,287.2 L448.4,287.4 L448.9,287.6 L449.3,287.8 L449.7,288.0 L450.2,288.2 L450.6,288.4 L451.0,288.6 L451.5,288.8 L451.9,289.0 L452.3,289.2 L452.8,289.4 L453.2,289.7 L453.6,289.9 L454.1,290.1 L454.5,290.3 L454.9,290.5 L455.3,290.7 L455.8,290.9 L456.2,291.1 L456.6,291.3 L457.1,291.5 L457.5,291.7 L457.9,291.9 L458.4,292.1 L458.8,292.3 L459.2,292.5 L459.7,292.7 L460.1,292.9 L460.5,293.1 L461.0,293.3 L461.4,293.5 L461.8,293.7 L462.3,293.9 L462.7,294.1 L463.1,294.3 L463.6,294.5 L464.0,294.7 L464.4,294.9 L464.8,295.1 L465.3,295.4 L465.7,295.6 L466.1,295.8 L466.6,296.0 L467.0,296.2 L467.4,296.4 L467.9,296.6 L468.3,296.8 L468.7,297.0 L469.2,297.2 L469.6,297.4 L470.0,297.6 L470.5,297.8 L470.9,298.0 L471.3,298.2 L471.8,298.4 L472.2,298.6 L472.6,298.8 L473.1,299.0 L473.5,299.2 L473.9,299.4 L474.3,299.6 L474.8,299.8 L475.2,300.0 L475.6,300.2 L476.1,300.4 L476.5,300.6 L476.9,300.8 L477.4,301.0 L477.8,301.2 L478.2,301.4 L478.7,301.6 L479.1,301.8 L479.5,302.0 L480.0,302.2 L480.4,302.4 L480.8,302.7 L481.3,302.9 L481.7,303.1 L482.1,303.3 L482.5,303.5 L483.0,303.7 L483.4,303.9 L483.8,304.1 L484.3,304.3 L484.7,304.5 L485.1,304.7 L485.6,304.9 L486.0,305.1 L486.4,305.3 L486.9,305.5 L487.3,305.7 L487.7,305.9 L488.2,306.1 L488.6,306.3 L489.0,306.5 L489.5,306.7 L489.9,306.9 L490.3,307.1 L490.8,307.3 L491.2,307.5 L491.6,307.7 L492.0,307.9 L492.5,308.1 L492.9,308.3 L493.3,308.5 L493.8,308.7 L494.2,308.9 L494.6,309.1 L495.1,309.3 L495.5,309.5 L495.9,309.7 L496.4,309.9 L496.8,310.1 L497.2,310.3 L497.7,310.5 L498.1,310.7 L498.5,311.0 L499.0,311.2 L499.4,311.4 L499.8,311.6 L500.3,311.8 L500.7,312.0 L501.1,312.2 L501.5,312.4 L502.0,312.6 L502.4,312.8 L502.8,313.0 L503.3,313.2 L503.7,313.4 L504.1,313.6 L504.6,313.8 L505.0,314.0 L505.4,314.2 L505.9,314.4 L506.3,314.6 L506.7,314.8 L507.2,315.0 L507.6,315.2 L508.0,315.4 L508.5,315.6 L508.9,315.8 L509.3,316.0 L509.7,316.2 L510.2,316.4 L510.6,316.6 L511.0,316.8 L511.5,317.0 L511.9,317.2 L512.3,317.4 L512.8,317.6 L513.2,317.8 L513.6,318.0 L514.1,318.2 L514.5,318.4 L514.9,318.6 L515.4,318.8 L515.8,319.0 L516.2,319.2 L516.7,319.4 L517.1,319.6 L517.5,319.8 L518.0,320.1 L518.4,320.3 L518.8,320.5 L519.2,320.7 L519.7,320.9 L520.1,321.1 L520.5,321.3 L521.0,321.5 L521.4,321.7 L521.8,321.9 L522.3,322.1 L522.7,322.3 L523.1,322.5 L523.6,322.7 L524.0,322.9 L524.4,323.1 L524.9,323.3 L525.3,323.5 L525.7,323.7 L526.2,323.9 L526.6,324.1 L527.0,324.3 L527.5,324.5 L527.9,324.7 L528.3,324.9 L528.7,325.1 L529.2,325.3 L529.6,325.5 L530.0,325.7 L530.5,325.9 L530.9,326.1 L531.3,326.3 L531.8,326.5 L532.2,326.7 L532.6,326.9 L533.1,327.1 L533.5,327.3 L533.9,327.5 L534.4,327.7 L534.8,327.9 L535.2,328.1 L535.7,328.3 L536.1,328.5 L536.5,328.7 L536.9,328.9 L537.4,329.1 L537.8,329.3 L538.2,329.5 L538.7,329.8 L539.1,330.0 L539.5,330.2 L540.0,330.4 L540.4,330.6 L540.8,330.8 L541.3,331.0 L541.7,331.2 L542.1,331.4 L542.6,331.6 L543.0,331.8 L543.4,332.0 L543.9,332.2 L544.3,332.4 L544.7,332.6 L545.2,332.8 L545.6,333.0 L546.0,333.2 L546.4,333.4 L546.9,333.6 L547.3,333.8 L547.7,334.0 L548.2,334.2 L548.6,334.4 L549.0,334.6 L549.5,334.8 L549.9,335.0 L550.3,335.2 L550.8,335.4 L551.2,335.6 L551.6,335.8 L552.1,336.0 L552.5,336.2 L552.9,336.4 L553.4,336.6 L553.8,336.8 L554.2,337.0 L554.7,337.2 L555.1,337.4 L555.5,337.6 L555.9,337.8 L556.4,338.0 L556.8,338.2 L557.2,338.4 L557.7,338.6 L558.1,338.8 L558.5,339.0 L559.0,339.2 L559.4,339.4 L559.8,339.7 L560.3,339.9 L560.7,340.1 L561.1,340.3 L561.6,340.5 L562.0,340.7 L562.4,340.9 L562.9,341.1 L563.3,341.3 L563.7,341.5 L564.1,341.7 L564.6,341.9 L565.0,342.1 L565.4,342.3 L565.9,342.5 L566.3,342.7 L566.7,342.9 L567.2,343.1 L567.6,343.3 L568.0,343.5 L568.5,343.7 L568.9,343.9 L569.3,344.1 L569.8,344.3 L570.2,344.5 L570.6,344.7 L571.1,344.9 L571.5,345.1 L571.9,345.3 L572.4,345.5 L572.8,345.7 L573.2,345.9 L573.6,346.1 L574.1,346.3 L574.5,346.5 L574.9,346.7 L575.4,346.9 L575.8,347.1 L576.2,347.3 L576.7,347.5 L577.1,347.7 L577.5,347.9 L578.0,348.1 L578.4,348.3 L578.8,348.5 L579.3,348.7 L579.7,348.9 L580.1,349.1 L580.6,349.3 L581.0,349.5 L581.4,349.8 L581.9,350.0 L582.3,350.2 L582.7,350.4 L583.1,350.6 L583.6,350.8 L584.0,351.0 L584.4,351.2 L584.9,351.4 L585.3,351.6 L585.7,351.8 L586.2,352.0 L586.6,352.2 L587.0,352.4 L587.5,352.6 L587.9,352.8 L588.3,353.0 L588.8,353.2 L589.2,353.4 L589.6,353.6 L590.1,353.8 L590.5,354.0 L590.9,354.2 L591.4,354.4 L591.8,354.6 L592.2,354.8 L592.6,355.0 L593.1,355.2 L593.5,355.4 L593.9,355.6 L594.4,355.8 L594.8,356.0 L595.2,356.2 L595.7,356.4 L596.1,356.6 L596.5,356.8 L597.0,357.0 L597.4,357.2 L597.8,357.4 L598.3,357.6 L598.7,357.8 L599.1,358.0 L599.6,358.2 L600.0,358.4 L600.4,358.6 L600.8,358.8 L601.3,359.0 L601.7,359.2 L602.1,359.4 L602.6,359.6 L603.0,359.9 L603.4,360.1 L603.9,360.3 L604.3,360.5 L604.7,360.7 L605.2,360.9 L605.6,361.1 L606.0,361.3 L606.5,361.5 L606.9,361.7 L607.3,361.9 L607.8,362.1 L608.2,362.3 L608.6,362.5 L609.1,362.7 L609.5,362.9 L609.9,363.1 L610.3,363.3 L610.8,363.5 L611.2,363.7 L611.6,363.9 L612.1,364.1 L612.5,364.3 L612.9,364.5 L613.4,364.7 L613.8,364.9 L614.2,365.1 L614.7,365.3 L615.1,365.5 L615.5,365.7 L616.0,365.9 L616.4,366.1 L616.8,366.3 L617.3,366.5 L617.7,366.7 L618.1,366.9 L618.6,367.1 L619.0,367.3 L619.4,367.5 L619.8,367.7 L620.3,367.9 L620.7,368.1 L621.1,368.3 L621.6,368.5 L622.0,368.7 L622.4,368.9 L622.9,369.1 L623.3,369.3 L623.7,369.5 L624.2,369.7 L624.6,370.0 L625.0,370.2 L625.5,370.4 L625.9,370.6 L626.3,370.8 L626.8,371.0 L627.2,371.2 L627.6,371.4 L628.0,371.6 L628.5,371.8 L628.9,372.0 L629.3,372.2 L629.8,372.4 L630.2,372.6 L630.6,372.8 L631.1,373.0 L631.5,373.2 L631.9,373.4 L632.4,373.6 L632.8,373.8 L633.2,374.0 L633.7,374.2 L634.1,374.4 L634.5,374.6 L635.0,374.8 L635.4,375.0 L635.8,375.2 L636.3,375.4 L636.7,375.6 L637.1,375.8 L637.5,376.0 L638.0,376.2 L638.4,376.4 L638.8,376.6 L639.3,376.8 L639.7,377.0 L640.1,377.2 L640.6,377.4 L641.0,377.6 L641.4,377.8 L641.9,378.0 L642.3,378.2 L642.7,378.4 L643.2,378.6 L643.6,378.8 L644.0,379.0 L644.5,379.2 L644.9,379.4 L645.3,379.6 L645.8,379.8 L646.2,380.1 L646.6,380.3 L647.0,380.5 L647.5,380.7 L647.9,380.9 L648.3,381.1 L648.8,381.3 L649.2,381.5 L649.6,381.7 L650.1,381.9 L650.5,382.1 L650.9,382.3 L651.4,382.5 L651.8,382.7 L652.2,382.9 L652.7,383.1 L653.1,383.3 L653.5,383.5 L654.0,383.7 L654.4,383.9 L654.8,384.1 L655.2,384.3 L655.7,384.5 L656.1,384.7 L656.5,384.9 L657.0,385.1 L657.4,385.3 L657.8,385.5 L658.3,385.7 L658.7,385.9 L659.1,386.1 L659.6,386.3 L660.0,386.5 L660.4,386.7 L660.9,386.9 L661.3,387.1 L661.7,387.3 L662.2,387.5 L662.6,387.7 L663.0,387.9 L663.5,388.1 L663.9,388.3 L664.3,388.5 L664.7,388.7 L665.2,388.9 L665.6,389.1 L666.0,389.3 L666.5,389.5 L666.9,389.7 L667.3,389.9 L667.8,390.2 L668.2,390.4 L668.6,390.6 L669.1,390.8 L669.5,391.0 L669.9,391.2 L670.4,391.4 L670.8,391.6 L671.2,391.8 L671.7,392.0 L672.1,392.2 L672.5,392.4 L673.0,392.6 L673.4,392.8 L673.8,393.0 L674.2,393.2 L674.7,393.4 L675.1,393.6 L675.5,393.8 L676.0,394.0 L676.4,394.2 L676.8,394.4 L677.3,394.6 L677.7,394.8 L678.1,395.0 L678.6,395.2 L679.0,395.4 L679.4,395.6 L679.9,395.8 L680.3,396.0 L680.7,396.2 L681.2,396.4 L681.6,396.6 L682.0,396.8 L682.4,397.0 L682.9,397.2 L683.3,397.4 L683.7,397.6 L684.2,397.8 L684.6,398.0 L685.0,398.2 L685.5,398.4 L685.9,398.6 L686.3,398.8 L686.8,399.0 L687.2,399.2 L687.6,399.4 L688.1,399.6 L688.5,399.8 L688.9,400.0 L689.4,400.3 L689.8,400.5 L690.2,400.7 L690.7,400.9 L691.1,401.1 L691.5,401.3 L691.9,401.5 L692.4,401.7 L692.8,401.9 L693.2,402.1 L693.7,402.3 L694.1,402.5 L694.5,402.7 L695.0,402.9 L695.4,403.1 L695.8,403.3 L696.3,403.5 L696.7,403.7 L697.1,403.9 L697.6,404.1 L698.0,404.3 L698.4,404.5 L698.9,404.7 L699.3,404.9 L699.7,405.1 L700.2,405.3 L700.6,405.5 L701.0,405.7 L701.4,405.9 L701.9,406.1 L702.3,406.3 L702.7,406.5 L703.2,406.7 L703.6,406.9 L704.0,407.1 L704.5,407.3 L704.9,407.5 L705.3,407.7 L705.8,407.9 L706.2,408.1 L706.6,408.3 L707.1,408.5 L707.5,408.7 L707.9,408.9 L708.4,409.1 L708.8,409.3 L709.2,409.5 L709.6,409.7 L710.1,409.9 L710.5,410.1 L710.9,410.4 L711.4,410.6 L711.8,410.8 L712.2,411.0 L712.7,411.2 L713.1,411.4 L713.5,411.6 L714.0,411.8 L714.4,412.0 L714.8,412.2 L715.3,412.4 L715.7,412.6 L716.1,412.8 L716.6,413.0 L717.0,413.2 L717.4,413.4 L717.9,413.6 L718.3,413.8 L718.7,414.0 L719.1,414.2 L719.6,414.4 L720.0,414.6 L720.4,414.8 L720.9,415.0 L721.3,415.2 L721.7,415.4 L722.2,415.6 L722.6,415.8 L723.0,416.0 L723.5,416.2 L723.9,416.4 L724.3,416.6 L724.8,416.8 L725.2,417.0 L725.6,417.2 L726.1,417.4 L726.5,417.6 L726.9,417.8 L727.4,418.0 L727.8,418.2 L728.2,418.4 L728.6,418.6 L729.1,418.8 L729.5,419.0 L729.9,419.2 L730.4,419.4 L730.8,419.6 L731.2,419.8 L731.7,420.0 L732.1,420.2 L732.5,420.5 L733.0,420.7 L733.4,420.9 L733.8,421.1 L734.3,421.3 L734.7,421.5 L735.1,421.7 L735.6,421.9 L736.0,422.1 L736.4,422.3 L736.8,422.5 L737.3,422.7 L737.7,422.9 L738.1,423.1 L738.6,423.3 L739.0,423.5 L739.4,423.7 L739.9,423.9 L740.3,424.1 L740.7,424.3 L741.2,424.5 L741.6,424.7 L742.0,424.9 L742.5,425.1 L742.9,425.3 L743.3,425.5 L743.8,425.7 L744.2,425.9 L744.6,426.1 L745.1,426.3 L745.5,426.5 L745.9,426.7 L746.3,426.9 L746.8,427.1 L747.2,427.3 L747.6,427.5 L748.1,427.7 L748.5,427.9 L748.9,428.1 L749.4,428.3 L749.8,428.5 L750.2,428.7 L750.7,428.9 L751.1,429.1 L751.5,429.3 L752.0,429.5 L752.4,429.7 L752.8,429.9 L753.3,430.1 L753.7,430.3 L754.1,430.6 L754.6,430.8 L755.0,431.0 L755.4,431.2 L755.8,431.4 L756.3,431.6 L756.7,431.8 L757.1,432.0 L757.6,432.2 L758.0,432.4 L758.4,432.6 L758.9,432.8 L759.3,433.0 L759.7,433.2 L760.2,433.4 L760.6,433.6 L761.0,433.8 L761.5,434.0 L761.9,434.2 L762.3,434.4 L762.8,434.6 L763.2,434.8 L763.6,435.0 L764.1,435.2 L764.5,435.4 L764.9,435.6 L765.3,435.8 L765.8,436.0 L766.2,436.2 L766.6,436.4 L767.1,436.6 L767.5,436.8 L767.9,437.0 L768.4,437.2 L768.8,437.4 L769.2,437.6 L769.7,437.8 L770.1,438.0 L770.5,438.2 L771.0,438.4 L771.4,438.6 L771.8,438.8 L772.3,439.0 L772.7,439.2 L773.1,439.4 L773.5,439.6 L774.0,439.8 L774.4,440.0 L774.8,440.2 L775.3,440.4 L775.7,440.7 L776.1,440.9 L776.6,441.1 L777.0,441.3 L777.4,441.5 L777.9,441.7 L778.3,441.9 L778.7,442.1 L779.2,442.3 L779.6,442.5 L780.0,442.7 L780.5,442.9 L780.9,443.1 L781.3,443.3 L781.8,443.5 L782.2,443.7 L782.6,443.9 L783.0,444.1 L783.5,444.3 L783.9,444.5 L784.3,444.7 L784.8,444.9 L785.2,445.1 L785.6,445.3 L786.1,445.5 L786.5,445.7 L786.9,445.9 L787.4,446.1 L787.8,446.3 L788.2,446.5 L788.7,446.7 L789.1,446.9 L789.5,447.1 L790.0,447.3 L790.4,447.5 L790.8,447.7 L791.3,447.9 L791.7,448.1 L792.1,448.3 L792.5,448.5 L793.0,448.7 L793.4,448.9 L793.8,449.1 L794.3,449.3 L794.7,449.5 L795.1,449.7 L795.6,449.9 L796.0,450.1 L796.4,450.3 L796.9,450.5 L797.3,450.8 L797.7,451.0 L798.2,451.2 L798.6,451.4 L799.0,451.6 L799.5,451.8 L799.9,452.0 L800.3,452.2 L800.7,452.4 L801.2,452.6 L801.6,452.8 L802.0,453.0 L802.5,453.2 L802.9,453.4 L803.3,453.6 L803.8,453.8 L804.2,454.0 L804.6,454.2 L805.1,454.4 L805.5,454.6 L805.9,454.8 L806.4,455.0 L806.8,455.2 L807.2,455.4 L807.7,455.6 L808.1,455.8 L808.5,456.0 L809.0,456.2 L809.4,456.4 L809.8,456.6 L810.2,456.8 L810.7,457.0 L811.1,457.2 L811.5,457.4 L812.0,457.6 L812.4,457.8 L812.8,458.0 L813.3,458.2 L813.7,458.4 L814.1,458.6 L814.6,458.8 L815.0,459.0 L815.4,459.2 L815.9,459.4 L816.3,459.6 L816.7,459.8 L817.2,460.0 L817.6,460.2 L818.0,460.4 L818.5,460.6 L818.9,460.9 L819.3,461.1 L819.7,461.3 L820.2,461.5 L820.6,461.7 L821.0,461.9 L821.5,462.1 L821.9,462.3 L822.3,462.5 L822.8,462.7 L823.2,462.9 L823.6,463.1 L824.1,463.3 L824.5,463.5 L824.9,463.7 L825.4,463.9 L825.8,464.1 L826.2,464.3 L826.7,464.5 L827.1,464.7 L827.5,464.9 L827.9,465.1 L828.4,465.3 L828.8,465.5 L829.2,465.7 L829.7,465.9 L830.1,466.1 L830.5,466.3 L831.0,466.5 L831.4,466.7 L831.8,466.9 L832.3,467.1 L832.7,467.3 L833.1,467.5 L833.6,467.7 L834.0,467.9 L834.4,468.1 L834.9,468.3 L835.3,468.5 L835.7,468.7 L836.2,468.9 L836.6,469.1 L837.0,469.3 L837.4,469.5 L837.9,469.7 L838.3,469.9 L838.7,470.1 L839.2,470.3 L839.6,470.5 L840.0,470.7 L840.5,471.0 L840.9,471.2 L841.3,471.4 L841.8,471.6 L842.2,471.8 L842.6,472.0 L843.1,472.2 L843.5,472.4 L843.9,472.6 L844.4,472.8 L844.8,473.0 L845.2,473.2 L845.7,473.4 L846.1,473.6 L846.5,473.8 L846.9,474.0 L847.4,474.2 L847.8,474.4 L848.2,474.6 L848.7,474.8 L849.1,475.0 L849.5,475.2 L850.0,475.4 L850.4,475.6"/>
</g>
<g class="tk" text-anchor="end">
<text x="127.5" y="27.7">10000</text>
<text x="127.5" y="147.5">1000</text>
<text x="127.5" y="267.5">100</text>
<text x="127.5" y="387.5">10</text>
<text x="127.5" y="507.5">1</text>
</g>
<g class="tk" text-anchor="middle">
<text x="159.6" y="554.8">0</text>
<text x="332.4" y="554.8">20</text>
<text x="505.1" y="554.8">40</text>
<text x="677.8" y="554.8">60</text>
<text x="852.3" y="554.8">80</text>
</g>
<text class="ti" x="505.5" y="607.3" text-anchor="middle">Time [ns]</text>
<text class="ti" transform="translate(30.2,256) rotate(-90)" text-anchor="middle">Intensity [arb.units]</text>
<g>
<rect x="551.2" y="30.7" width="74.3" height="5.2" fill="#0070c0"/>
<rect x="551.2" y="134.1" width="74.3" height="5.2" fill="#00b050"/>
<rect x="551.2" y="240.0" width="74.3" height="5.3" fill="#ff0000"/>
<text class="ln" x="643.3" y="45.9">2CH3Phe</text>
<text class="fm" x="572.3" y="70.9">I = 5800exp(-t/0.7 ns)</text>
<text class="fm" x="572.3" y="107.1">+ 290exp(-t/6.5 ns)</text>
<text class="ln" x="643.3" y="149.1">3CH3Phe</text>
<text class="fm" x="574.5" y="173.9">I = 5200exp(-t/2.5 ns)</text>
<text class="fm" x="574.5" y="210.5">+ 370exp(-t/12.4 ns)</text>
<text class="ln" x="643.3" y="257.2">4CH3Phe</text>
<text class="fm" x="574.5" y="280.2">I = 5200exp(-t/2.3 ns)</text>
<text class="fm" x="574.5" y="316.6">+ 350exp(-t/12.6 ns)</text>
</g>
</svg>
</body></html>
